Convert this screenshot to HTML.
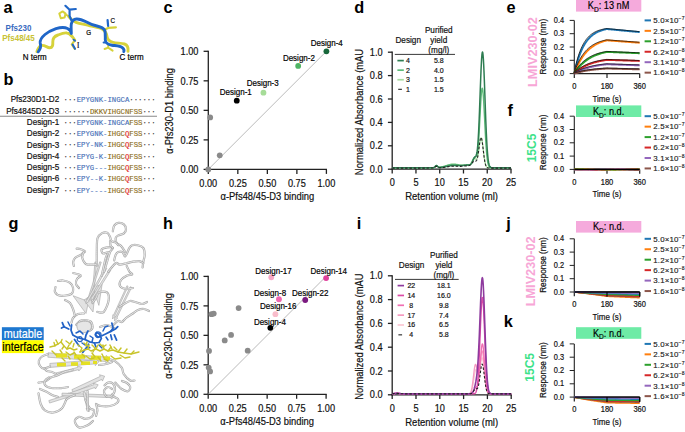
<!DOCTYPE html>
<html><head><meta charset="utf-8"><style>
html,body{margin:0;padding:0;background:#fff;}
svg{display:block;font-family:"Liberation Sans", sans-serif;}
</style></head><body>
<svg width="685" height="432" viewBox="0 0 685 432">
<rect width="685" height="432" fill="#fff"/>
<text x="3.60" y="13.20" font-size="16.3" font-weight="bold">a</text>
<text x="3.60" y="85.00" font-size="16.3" font-weight="bold">b</text>
<text x="163.50" y="13.00" font-size="16.3" font-weight="bold">c</text>
<text x="354.20" y="12.70" font-size="16.3" font-weight="bold">d</text>
<text x="506.50" y="12.70" font-size="16.3" font-weight="bold">e</text>
<text x="507.60" y="115.80" font-size="16.3" font-weight="bold">f</text>
<text x="8.60" y="229.00" font-size="16.3" font-weight="bold">g</text>
<text x="163.00" y="229.30" font-size="16.3" font-weight="bold">h</text>
<text x="356.80" y="228.80" font-size="16.3" font-weight="bold">i</text>
<text x="506.20" y="228.80" font-size="16.3" font-weight="bold">j</text>
<text x="503.80" y="326.80" font-size="16.3" font-weight="bold">k</text>
<text x="18.50" y="31.10" font-size="8" text-anchor="middle" font-weight="bold" fill="#3a6cc0" transform="translate(18.50 31.10) scale(1 1.12) translate(-18.50 -31.10)">Pfs230</text>
<text x="18.50" y="40.60" font-size="8" text-anchor="middle" font-weight="bold" fill="#c8c234" transform="translate(18.50 40.60) scale(1 1.12) translate(-18.50 -40.60)">Pfs48/45</text>
<text x="34.80" y="60.10" font-size="8" text-anchor="middle" stroke="#000" stroke-width="0.18" transform="translate(34.80 60.10) scale(1 1.12) translate(-34.80 -60.10)">N term</text>
<text x="131.60" y="60.10" font-size="8" text-anchor="middle" stroke="#000" stroke-width="0.18" transform="translate(131.60 60.10) scale(1 1.12) translate(-131.60 -60.10)">C term</text>
<text x="88.80" y="35.40" font-size="6.3" text-anchor="middle" stroke="#000" stroke-width="0.18" transform="translate(88.80 35.40) scale(1 1.12) translate(-88.80 -35.40)">G</text>
<text x="112.70" y="23.30" font-size="6.3" text-anchor="middle" stroke="#000" stroke-width="0.18" transform="translate(112.70 23.30) scale(1 1.12) translate(-112.70 -23.30)">C</text>
<text x="78.30" y="48.30" font-size="7" text-anchor="middle" font-family='"Liberation Serif", serif' stroke="#000" stroke-width="0.18" transform="translate(78.30 48.30) scale(1 1.12) translate(-78.30 -48.30)">I</text>
<path d="M36.9,51.6 C38,49 38.5,46.5 41,45.5 C44,44.5 47,47.5 49.5,47.8 C52.5,48 53,45 52.8,42 C52.6,38 55,36 58,35 C61,33.8 64.5,32.5 67,33 C70,33.5 72.5,36.5 74.8,40.2" stroke="#d6d23a" stroke-width="2.9" fill="none" stroke-linecap="round" stroke-linejoin="round"/>
<path d="M74.8,40.4 L71.8,44.3 L74.8,48.8" stroke="#d6d23a" stroke-width="2.2" fill="none" stroke-linecap="round" stroke-linejoin="round"/>
<path d="M68.8,16.6 C70.5,19 72,20.8 76,22.3 C80,23.8 86,24.6 90,25.8 C95,27 100,27.6 103,29.5 C106,31.5 106.6,34 107,36.5 C107.5,39.5 109,41.5 113,42.4 C117,43.3 121,43 124.5,44 C127.5,45 128.5,47.5 128,51.4" stroke="#d6d23a" stroke-width="2.9" fill="none" stroke-linecap="round" stroke-linejoin="round"/>
<path d="M104.4,29.8 L108.2,27.9 L115.9,27.3" stroke="#d6d23a" stroke-width="2.2" fill="none" stroke-linecap="round" stroke-linejoin="round"/>
<path d="M108.2,44.4 L108.2,47.6 M104.6,49 L108.2,47.6 L112.6,50.6" stroke="#d6d23a" stroke-width="2" fill="none" stroke-linecap="round" stroke-linejoin="round"/>
<path d="M59.3,13.5 L62.6,11.4 L65.6,13.6 L64.6,17.6 L60.8,18.3 Z" stroke="#d6d23a" stroke-width="2" fill="none" stroke-linecap="round" stroke-linejoin="round"/>
<path d="M65.6,14.5 L68.5,16.2" stroke="#d6d23a" stroke-width="2" fill="none" stroke-linecap="round" stroke-linejoin="round"/>
<path d="M38.2,51.8 C40.5,49 41.2,46 40.2,43 C39.8,40 42,37 45,34.5 C48,32 52,30 56,28.6 C60,27.5 65,27.3 67.5,28.5 C70,29.7 71.2,31.5 71.3,33.5 C71.3,30 70.8,26.5 71.3,24 C71.8,21.5 73.5,19.3 76.5,19 C80,18.8 83,20.2 86,21.8 C89,23.5 93,25.2 97,26 C100.5,26.8 103.5,28 104.8,30.5 C105.6,33 105.2,37 105.3,40 C105.5,43 108,44.6 112,45.2 C116,45.8 120,45.7 122.6,47.8 C124.2,49.2 124.2,50.5 123.8,51.6" stroke="#1f66c8" stroke-width="2.9" fill="none" stroke-linecap="round" stroke-linejoin="round"/>
<path d="M108.1,26 L107.6,20.2" stroke="#1f66c8" stroke-width="2.2" fill="none" stroke-linecap="round" stroke-linejoin="round"/>
<path d="M103.6,42.6 L106,42.6" stroke="#1f66c8" stroke-width="2" fill="none" stroke-linecap="round" stroke-linejoin="round"/>
<path d="M71.3,20 L69.6,16 L69.6,9.7 M65.4,5.8 L69.6,9.7 L75.8,9" stroke="#1f66c8" stroke-width="2.2" fill="none" stroke-linecap="round" stroke-linejoin="round"/>
<path d="M72.6,44.6 L75,48.8" stroke="#1f66c8" stroke-width="2" fill="none" stroke-linecap="round" stroke-linejoin="round"/>
<path d="M73.6,39.6 L75,40.8" stroke="#1f66c8" stroke-width="1.8" fill="none" stroke-linecap="round" stroke-linejoin="round"/>
<text x="59.20" y="102.40" font-size="8.1" text-anchor="end" fill="#111" stroke="#111" stroke-width="0.18" transform="translate(59.20 102.40) scale(1 1.12) translate(-59.20 -102.40)">Pfs230D1-D2</text>
<text x="63.6" y="102.20" font-size="7.300" font-family='"Liberation Mono", monospace'><tspan fill="#333" stroke="#333" stroke-width="0.15">···</tspan><tspan fill="#4a72b8" stroke="#4a72b8" stroke-width="0.15">EPYGNK-INGCA</tspan><tspan fill="#333" stroke="#333" stroke-width="0.15">······</tspan></text>
<text x="59.20" y="113.70" font-size="8.1" text-anchor="end" fill="#111" stroke="#111" stroke-width="0.18" transform="translate(59.20 113.70) scale(1 1.12) translate(-59.20 -113.70)">Pfs4845D2-D3</text>
<text x="63.6" y="113.50" font-size="7.300" font-family='"Liberation Mono", monospace'><tspan fill="#333" stroke="#333" stroke-width="0.15">······</tspan><tspan fill="#8e6f1c" stroke="#8e6f1c" stroke-width="0.15">DKKVIHGCNFSS</tspan><tspan fill="#333" stroke="#333" stroke-width="0.15">···</tspan></text>
<text x="59.20" y="125.00" font-size="8.1" text-anchor="end" fill="#111" stroke="#111" stroke-width="0.18" transform="translate(59.20 125.00) scale(1 1.12) translate(-59.20 -125.00)">Design-1</text>
<text x="63.6" y="124.80" font-size="7.300" font-family='"Liberation Mono", monospace'><tspan fill="#333" stroke="#333" stroke-width="0.15">···</tspan><tspan fill="#4a72b8" stroke="#4a72b8" stroke-width="0.15">EPYGNK-INGCA</tspan><tspan fill="#8e6f1c" stroke="#8e6f1c" stroke-width="0.15">FSS</tspan><tspan fill="#333" stroke="#333" stroke-width="0.15">···</tspan></text>
<text x="59.20" y="136.30" font-size="8.1" text-anchor="end" fill="#111" stroke="#111" stroke-width="0.18" transform="translate(59.20 136.30) scale(1 1.12) translate(-59.20 -136.30)">Design-2</text>
<text x="63.6" y="136.10" font-size="7.300" font-family='"Liberation Mono", monospace'><tspan fill="#333" stroke="#333" stroke-width="0.15">···</tspan><tspan fill="#4a72b8" stroke="#4a72b8" stroke-width="0.15">EPYGNK-</tspan><tspan fill="#8e6f1c" stroke="#8e6f1c" stroke-width="0.15">IHGC</tspan><tspan fill="#e02828" stroke="#e02828" stroke-width="0.15">Q</tspan><tspan fill="#8e6f1c" stroke="#8e6f1c" stroke-width="0.15">FSS</tspan><tspan fill="#333" stroke="#333" stroke-width="0.15">···</tspan></text>
<text x="59.20" y="147.60" font-size="8.1" text-anchor="end" fill="#111" stroke="#111" stroke-width="0.18" transform="translate(59.20 147.60) scale(1 1.12) translate(-59.20 -147.60)">Design-3</text>
<text x="63.6" y="147.40" font-size="7.300" font-family='"Liberation Mono", monospace'><tspan fill="#333" stroke="#333" stroke-width="0.15">···</tspan><tspan fill="#4a72b8" stroke="#4a72b8" stroke-width="0.15">EPY-NK-</tspan><tspan fill="#8e6f1c" stroke="#8e6f1c" stroke-width="0.15">IHGC</tspan><tspan fill="#e02828" stroke="#e02828" stroke-width="0.15">Q</tspan><tspan fill="#8e6f1c" stroke="#8e6f1c" stroke-width="0.15">FSS</tspan><tspan fill="#333" stroke="#333" stroke-width="0.15">···</tspan></text>
<text x="59.20" y="158.90" font-size="8.1" text-anchor="end" fill="#111" stroke="#111" stroke-width="0.18" transform="translate(59.20 158.90) scale(1 1.12) translate(-59.20 -158.90)">Design-4</text>
<text x="63.6" y="158.70" font-size="7.300" font-family='"Liberation Mono", monospace'><tspan fill="#333" stroke="#333" stroke-width="0.15">···</tspan><tspan fill="#4a72b8" stroke="#4a72b8" stroke-width="0.15">EPYG-K-</tspan><tspan fill="#8e6f1c" stroke="#8e6f1c" stroke-width="0.15">IHGC</tspan><tspan fill="#e02828" stroke="#e02828" stroke-width="0.15">Q</tspan><tspan fill="#8e6f1c" stroke="#8e6f1c" stroke-width="0.15">FSS</tspan><tspan fill="#333" stroke="#333" stroke-width="0.15">···</tspan></text>
<text x="59.20" y="170.20" font-size="8.1" text-anchor="end" fill="#111" stroke="#111" stroke-width="0.18" transform="translate(59.20 170.20) scale(1 1.12) translate(-59.20 -170.20)">Design-5</text>
<text x="63.6" y="170.00" font-size="7.300" font-family='"Liberation Mono", monospace'><tspan fill="#333" stroke="#333" stroke-width="0.15">···</tspan><tspan fill="#4a72b8" stroke="#4a72b8" stroke-width="0.15">EPYG---</tspan><tspan fill="#8e6f1c" stroke="#8e6f1c" stroke-width="0.15">IHGC</tspan><tspan fill="#e02828" stroke="#e02828" stroke-width="0.15">Q</tspan><tspan fill="#8e6f1c" stroke="#8e6f1c" stroke-width="0.15">FSS</tspan><tspan fill="#333" stroke="#333" stroke-width="0.15">···</tspan></text>
<text x="59.20" y="181.50" font-size="8.1" text-anchor="end" fill="#111" stroke="#111" stroke-width="0.18" transform="translate(59.20 181.50) scale(1 1.12) translate(-59.20 -181.50)">Design-6</text>
<text x="63.6" y="181.30" font-size="7.300" font-family='"Liberation Mono", monospace'><tspan fill="#333" stroke="#333" stroke-width="0.15">···</tspan><tspan fill="#4a72b8" stroke="#4a72b8" stroke-width="0.15">EPY--K-</tspan><tspan fill="#8e6f1c" stroke="#8e6f1c" stroke-width="0.15">IHGC</tspan><tspan fill="#e02828" stroke="#e02828" stroke-width="0.15">Q</tspan><tspan fill="#8e6f1c" stroke="#8e6f1c" stroke-width="0.15">FSS</tspan><tspan fill="#333" stroke="#333" stroke-width="0.15">···</tspan></text>
<text x="59.20" y="192.80" font-size="8.1" text-anchor="end" fill="#111" stroke="#111" stroke-width="0.18" transform="translate(59.20 192.80) scale(1 1.12) translate(-59.20 -192.80)">Design-7</text>
<text x="63.6" y="192.60" font-size="7.300" font-family='"Liberation Mono", monospace'><tspan fill="#333" stroke="#333" stroke-width="0.15">···</tspan><tspan fill="#4a72b8" stroke="#4a72b8" stroke-width="0.15">EPY----</tspan><tspan fill="#8e6f1c" stroke="#8e6f1c" stroke-width="0.15">IHGC</tspan><tspan fill="#e02828" stroke="#e02828" stroke-width="0.15">Q</tspan><tspan fill="#8e6f1c" stroke="#8e6f1c" stroke-width="0.15">FSS</tspan><tspan fill="#333" stroke="#333" stroke-width="0.15">···</tspan></text>
<line x1="0.00" y1="116.30" x2="157.00" y2="116.30" stroke="#888" stroke-width="1.1"/>
<line x1="208.30" y1="170.00" x2="208.30" y2="50.70" stroke="#222" stroke-width="1.3"/>
<line x1="207.70" y1="169.40" x2="327.00" y2="169.40" stroke="#222" stroke-width="1.3"/>
<line x1="203.60" y1="169.40" x2="208.30" y2="169.40" stroke="#222" stroke-width="1.3"/>
<line x1="208.30" y1="169.40" x2="208.30" y2="173.90" stroke="#222" stroke-width="1.3"/>
<text x="198.50" y="173.10" font-size="9.2" text-anchor="end" fill="#111" stroke="#111" stroke-width="0.18" transform="translate(198.50 173.10) scale(1 1.12) translate(-198.50 -173.10)">0.00</text>
<text x="208.30" y="186.90" font-size="9.2" text-anchor="middle" fill="#111" stroke="#111" stroke-width="0.18" transform="translate(208.30 186.90) scale(1 1.12) translate(-208.30 -186.90)">0.00</text>
<line x1="203.60" y1="139.88" x2="208.30" y2="139.88" stroke="#222" stroke-width="1.3"/>
<line x1="237.83" y1="169.40" x2="237.83" y2="173.90" stroke="#222" stroke-width="1.3"/>
<text x="198.50" y="143.57" font-size="9.2" text-anchor="end" fill="#111" stroke="#111" stroke-width="0.18" transform="translate(198.50 143.57) scale(1 1.12) translate(-198.50 -143.57)">0.25</text>
<text x="237.83" y="186.90" font-size="9.2" text-anchor="middle" fill="#111" stroke="#111" stroke-width="0.18" transform="translate(237.83 186.90) scale(1 1.12) translate(-237.83 -186.90)">0.25</text>
<line x1="203.60" y1="110.35" x2="208.30" y2="110.35" stroke="#222" stroke-width="1.3"/>
<line x1="267.35" y1="169.40" x2="267.35" y2="173.90" stroke="#222" stroke-width="1.3"/>
<text x="198.50" y="114.05" font-size="9.2" text-anchor="end" fill="#111" stroke="#111" stroke-width="0.18" transform="translate(198.50 114.05) scale(1 1.12) translate(-198.50 -114.05)">0.50</text>
<text x="267.35" y="186.90" font-size="9.2" text-anchor="middle" fill="#111" stroke="#111" stroke-width="0.18" transform="translate(267.35 186.90) scale(1 1.12) translate(-267.35 -186.90)">0.50</text>
<line x1="203.60" y1="80.83" x2="208.30" y2="80.83" stroke="#222" stroke-width="1.3"/>
<line x1="296.88" y1="169.40" x2="296.88" y2="173.90" stroke="#222" stroke-width="1.3"/>
<text x="198.50" y="84.53" font-size="9.2" text-anchor="end" fill="#111" stroke="#111" stroke-width="0.18" transform="translate(198.50 84.53) scale(1 1.12) translate(-198.50 -84.53)">0.75</text>
<text x="296.88" y="186.90" font-size="9.2" text-anchor="middle" fill="#111" stroke="#111" stroke-width="0.18" transform="translate(296.88 186.90) scale(1 1.12) translate(-296.88 -186.90)">0.75</text>
<line x1="203.60" y1="51.30" x2="208.30" y2="51.30" stroke="#222" stroke-width="1.3"/>
<line x1="326.40" y1="169.40" x2="326.40" y2="173.90" stroke="#222" stroke-width="1.3"/>
<text x="198.50" y="55.00" font-size="9.2" text-anchor="end" fill="#111" stroke="#111" stroke-width="0.18" transform="translate(198.50 55.00) scale(1 1.12) translate(-198.50 -55.00)">1.00</text>
<text x="326.40" y="186.90" font-size="9.2" text-anchor="middle" fill="#111" stroke="#111" stroke-width="0.18" transform="translate(326.40 186.90) scale(1 1.12) translate(-326.40 -186.90)">1.00</text>
<text x="267.35" y="200.20" font-size="9.4" text-anchor="middle" fill="#111" stroke="#111" stroke-width="0.18" transform="translate(267.35 200.20) scale(1 1.12) translate(-267.35 -200.20)">α-Pfs48/45-D3 binding</text>
<text x="172.60" y="110.85" font-size="9.4" text-anchor="middle" fill="#111" stroke="#111" stroke-width="0.18" transform="rotate(-90 172.60 110.85) translate(172.60 110.85) scale(1 1.12) translate(-172.60 -110.85)">α-Pfs230-D1 binding</text>
<line x1="208.30" y1="169.40" x2="326.40" y2="51.30" stroke="#aaa" stroke-width="0.8"/>
<circle cx="208.30" cy="169.40" r="2.9" fill="#8a8a8a"/>
<circle cx="219.76" cy="155.35" r="2.9" fill="#8a8a8a"/>
<circle cx="210.19" cy="117.44" r="2.9" fill="#8a8a8a"/>
<circle cx="236.76" cy="100.67" r="2.9" fill="#000"/>
<circle cx="263.45" cy="92.64" r="2.9" fill="#a6dc98"/>
<circle cx="298.17" cy="65.94" r="2.9" fill="#4fb464"/>
<circle cx="326.40" cy="51.30" r="2.9" fill="#17673a"/>
<text x="235.80" y="95.00" font-size="8" text-anchor="middle" stroke="#000" stroke-width="0.18" transform="translate(235.80 95.00) scale(1 1.12) translate(-235.80 -95.00)">Design-1</text>
<text x="262.70" y="85.80" font-size="8" text-anchor="middle" stroke="#000" stroke-width="0.18" transform="translate(262.70 85.80) scale(1 1.12) translate(-262.70 -85.80)">Design-3</text>
<text x="298.90" y="60.70" font-size="8" text-anchor="middle" stroke="#000" stroke-width="0.18" transform="translate(298.90 60.70) scale(1 1.12) translate(-298.90 -60.70)">Design-2</text>
<text x="326.80" y="46.00" font-size="8" text-anchor="middle" stroke="#000" stroke-width="0.18" transform="translate(326.80 46.00) scale(1 1.12) translate(-326.80 -46.00)">Design-4</text>
<line x1="208.20" y1="394.90" x2="208.20" y2="275.80" stroke="#222" stroke-width="1.3"/>
<line x1="207.60" y1="394.30" x2="326.70" y2="394.30" stroke="#222" stroke-width="1.3"/>
<line x1="203.50" y1="394.30" x2="208.20" y2="394.30" stroke="#222" stroke-width="1.3"/>
<line x1="208.20" y1="394.30" x2="208.20" y2="398.80" stroke="#222" stroke-width="1.3"/>
<text x="198.40" y="398.00" font-size="9.2" text-anchor="end" fill="#111" stroke="#111" stroke-width="0.18" transform="translate(198.40 398.00) scale(1 1.12) translate(-198.40 -398.00)">0.00</text>
<text x="208.20" y="411.80" font-size="9.2" text-anchor="middle" fill="#111" stroke="#111" stroke-width="0.18" transform="translate(208.20 411.80) scale(1 1.12) translate(-208.20 -411.80)">0.00</text>
<line x1="203.50" y1="364.82" x2="208.20" y2="364.82" stroke="#222" stroke-width="1.3"/>
<line x1="237.67" y1="394.30" x2="237.67" y2="398.80" stroke="#222" stroke-width="1.3"/>
<text x="198.40" y="368.52" font-size="9.2" text-anchor="end" fill="#111" stroke="#111" stroke-width="0.18" transform="translate(198.40 368.52) scale(1 1.12) translate(-198.40 -368.52)">0.25</text>
<text x="237.67" y="411.80" font-size="9.2" text-anchor="middle" fill="#111" stroke="#111" stroke-width="0.18" transform="translate(237.67 411.80) scale(1 1.12) translate(-237.67 -411.80)">0.25</text>
<line x1="203.50" y1="335.35" x2="208.20" y2="335.35" stroke="#222" stroke-width="1.3"/>
<line x1="267.15" y1="394.30" x2="267.15" y2="398.80" stroke="#222" stroke-width="1.3"/>
<text x="198.40" y="339.05" font-size="9.2" text-anchor="end" fill="#111" stroke="#111" stroke-width="0.18" transform="translate(198.40 339.05) scale(1 1.12) translate(-198.40 -339.05)">0.50</text>
<text x="267.15" y="411.80" font-size="9.2" text-anchor="middle" fill="#111" stroke="#111" stroke-width="0.18" transform="translate(267.15 411.80) scale(1 1.12) translate(-267.15 -411.80)">0.50</text>
<line x1="203.50" y1="305.88" x2="208.20" y2="305.88" stroke="#222" stroke-width="1.3"/>
<line x1="296.62" y1="394.30" x2="296.62" y2="398.80" stroke="#222" stroke-width="1.3"/>
<text x="198.40" y="309.57" font-size="9.2" text-anchor="end" fill="#111" stroke="#111" stroke-width="0.18" transform="translate(198.40 309.57) scale(1 1.12) translate(-198.40 -309.57)">0.75</text>
<text x="296.62" y="411.80" font-size="9.2" text-anchor="middle" fill="#111" stroke="#111" stroke-width="0.18" transform="translate(296.62 411.80) scale(1 1.12) translate(-296.62 -411.80)">0.75</text>
<line x1="203.50" y1="276.40" x2="208.20" y2="276.40" stroke="#222" stroke-width="1.3"/>
<line x1="326.10" y1="394.30" x2="326.10" y2="398.80" stroke="#222" stroke-width="1.3"/>
<text x="198.40" y="280.10" font-size="9.2" text-anchor="end" fill="#111" stroke="#111" stroke-width="0.18" transform="translate(198.40 280.10) scale(1 1.12) translate(-198.40 -280.10)">1.00</text>
<text x="326.10" y="411.80" font-size="9.2" text-anchor="middle" fill="#111" stroke="#111" stroke-width="0.18" transform="translate(326.10 411.80) scale(1 1.12) translate(-326.10 -411.80)">1.00</text>
<text x="267.15" y="425.10" font-size="9.4" text-anchor="middle" fill="#111" stroke="#111" stroke-width="0.18" transform="translate(267.15 425.10) scale(1 1.12) translate(-267.15 -425.10)">α-Pfs48/45-D3 binding</text>
<text x="172.40" y="335.85" font-size="9.4" text-anchor="middle" fill="#111" stroke="#111" stroke-width="0.18" transform="rotate(-90 172.40 335.85) translate(172.40 335.85) scale(1 1.12) translate(-172.40 -335.85)">α-Pfs230-D1 binding</text>
<line x1="208.20" y1="394.30" x2="326.10" y2="276.40" stroke="#aaa" stroke-width="0.8"/>
<circle cx="211.50" cy="314.13" r="2.9" fill="#8a8a8a"/>
<circle cx="213.74" cy="313.54" r="2.9" fill="#8a8a8a"/>
<circle cx="238.62" cy="308.12" r="2.9" fill="#8a8a8a"/>
<circle cx="231.07" cy="334.88" r="2.9" fill="#8a8a8a"/>
<circle cx="224.71" cy="340.42" r="2.9" fill="#8a8a8a"/>
<circle cx="247.70" cy="350.68" r="2.9" fill="#8a8a8a"/>
<circle cx="209.03" cy="350.91" r="2.9" fill="#8a8a8a"/>
<circle cx="208.67" cy="367.54" r="2.9" fill="#8a8a8a"/>
<circle cx="210.09" cy="371.43" r="2.9" fill="#8a8a8a"/>
<circle cx="270.33" cy="327.80" r="2.9" fill="#000"/>
<circle cx="275.40" cy="314.13" r="2.9" fill="#f9bccb"/>
<circle cx="278.94" cy="299.27" r="2.9" fill="#ef66b0"/>
<circle cx="305.23" cy="299.98" r="2.9" fill="#7b1a80"/>
<circle cx="271.28" cy="277.23" r="2.9" fill="#f6a8c8"/>
<circle cx="326.10" cy="278.05" r="2.9" fill="#e0409c"/>
<text x="273.50" y="274.40" font-size="8" text-anchor="middle" stroke="#000" stroke-width="0.18" transform="translate(273.50 274.40) scale(1 1.12) translate(-273.50 -274.40)">Design-17</text>
<text x="328.80" y="274.40" font-size="8" text-anchor="middle" stroke="#000" stroke-width="0.18" transform="translate(328.80 274.40) scale(1 1.12) translate(-328.80 -274.40)">Design-14</text>
<text x="270.10" y="296.20" font-size="8" text-anchor="middle" stroke="#000" stroke-width="0.18" transform="translate(270.10 296.20) scale(1 1.12) translate(-270.10 -296.20)">Design-8</text>
<text x="310.20" y="296.20" font-size="8" text-anchor="middle" stroke="#000" stroke-width="0.18" transform="translate(310.20 296.20) scale(1 1.12) translate(-310.20 -296.20)">Design-22</text>
<text x="278.20" y="309.20" font-size="8" text-anchor="middle" stroke="#000" stroke-width="0.18" transform="translate(278.20 309.20) scale(1 1.12) translate(-278.20 -309.20)">Design-16</text>
<text x="269.90" y="324.60" font-size="8" text-anchor="middle" stroke="#000" stroke-width="0.18" transform="translate(269.90 324.60) scale(1 1.12) translate(-269.90 -324.60)">Design-4</text>
<line x1="392.20" y1="169.80" x2="392.20" y2="51.60" stroke="#222" stroke-width="1.3"/>
<line x1="391.60" y1="169.20" x2="511.60" y2="169.20" stroke="#222" stroke-width="1.3"/>
<line x1="387.90" y1="169.20" x2="392.20" y2="169.20" stroke="#222" stroke-width="1.3"/>
<text x="382.60" y="172.90" font-size="9.2" text-anchor="end" fill="#111" stroke="#111" stroke-width="0.18" transform="translate(382.60 172.90) scale(1 1.12) translate(-382.60 -172.90)">0.0</text>
<line x1="387.90" y1="145.80" x2="392.20" y2="145.80" stroke="#222" stroke-width="1.3"/>
<text x="382.60" y="149.50" font-size="9.2" text-anchor="end" fill="#111" stroke="#111" stroke-width="0.18" transform="translate(382.60 149.50) scale(1 1.12) translate(-382.60 -149.50)">0.2</text>
<line x1="387.90" y1="122.40" x2="392.20" y2="122.40" stroke="#222" stroke-width="1.3"/>
<text x="382.60" y="126.10" font-size="9.2" text-anchor="end" fill="#111" stroke="#111" stroke-width="0.18" transform="translate(382.60 126.10) scale(1 1.12) translate(-382.60 -126.10)">0.4</text>
<line x1="387.90" y1="99.00" x2="392.20" y2="99.00" stroke="#222" stroke-width="1.3"/>
<text x="382.60" y="102.70" font-size="9.2" text-anchor="end" fill="#111" stroke="#111" stroke-width="0.18" transform="translate(382.60 102.70) scale(1 1.12) translate(-382.60 -102.70)">0.6</text>
<line x1="387.90" y1="75.60" x2="392.20" y2="75.60" stroke="#222" stroke-width="1.3"/>
<text x="382.60" y="79.30" font-size="9.2" text-anchor="end" fill="#111" stroke="#111" stroke-width="0.18" transform="translate(382.60 79.30) scale(1 1.12) translate(-382.60 -79.30)">0.8</text>
<line x1="387.90" y1="52.20" x2="392.20" y2="52.20" stroke="#222" stroke-width="1.3"/>
<text x="382.60" y="55.90" font-size="9.2" text-anchor="end" fill="#111" stroke="#111" stroke-width="0.18" transform="translate(382.60 55.90) scale(1 1.12) translate(-382.60 -55.90)">1.0</text>
<line x1="392.20" y1="169.20" x2="392.20" y2="173.50" stroke="#222" stroke-width="1.3"/>
<text x="392.20" y="186.10" font-size="9.2" text-anchor="middle" fill="#111" stroke="#111" stroke-width="0.18" transform="translate(392.20 186.10) scale(1 1.12) translate(-392.20 -186.10)">0</text>
<line x1="415.96" y1="169.20" x2="415.96" y2="173.50" stroke="#222" stroke-width="1.3"/>
<text x="415.96" y="186.10" font-size="9.2" text-anchor="middle" fill="#111" stroke="#111" stroke-width="0.18" transform="translate(415.96 186.10) scale(1 1.12) translate(-415.96 -186.10)">5</text>
<line x1="439.72" y1="169.20" x2="439.72" y2="173.50" stroke="#222" stroke-width="1.3"/>
<text x="439.72" y="186.10" font-size="9.2" text-anchor="middle" fill="#111" stroke="#111" stroke-width="0.18" transform="translate(439.72 186.10) scale(1 1.12) translate(-439.72 -186.10)">10</text>
<line x1="463.48" y1="169.20" x2="463.48" y2="173.50" stroke="#222" stroke-width="1.3"/>
<text x="463.48" y="186.10" font-size="9.2" text-anchor="middle" fill="#111" stroke="#111" stroke-width="0.18" transform="translate(463.48 186.10) scale(1 1.12) translate(-463.48 -186.10)">15</text>
<line x1="487.24" y1="169.20" x2="487.24" y2="173.50" stroke="#222" stroke-width="1.3"/>
<text x="487.24" y="186.10" font-size="9.2" text-anchor="middle" fill="#111" stroke="#111" stroke-width="0.18" transform="translate(487.24 186.10) scale(1 1.12) translate(-487.24 -186.10)">20</text>
<line x1="511.00" y1="169.20" x2="511.00" y2="173.50" stroke="#222" stroke-width="1.3"/>
<text x="511.00" y="186.10" font-size="9.2" text-anchor="middle" fill="#111" stroke="#111" stroke-width="0.18" transform="translate(511.00 186.10) scale(1 1.12) translate(-511.00 -186.10)">25</text>
<text x="451.60" y="200.20" font-size="9.5" text-anchor="middle" fill="#111" stroke="#111" stroke-width="0.18" transform="translate(451.60 200.20) scale(1 1.12) translate(-451.60 -200.20)">Retention volume (ml)</text>
<text x="362.60" y="112.00" font-size="9.4" text-anchor="middle" fill="#111" stroke="#111" stroke-width="0.18" transform="rotate(-90 362.60 112.00) translate(362.60 112.00) scale(1 1.12) translate(-362.60 -112.00)">Normalized Absorbance (mAU</text>
<path d="M392.20,167.94 L392.50,167.94 L392.79,167.94 L393.09,167.94 L393.39,167.94 L393.69,167.94 L393.98,167.94 L394.28,167.94 L394.58,167.94 L394.87,167.94 L395.17,167.94 L395.47,167.94 L395.76,167.94 L396.06,167.94 L396.36,167.94 L396.65,167.94 L396.95,167.94 L397.25,167.94 L397.55,167.94 L397.84,167.94 L398.14,167.94 L398.44,167.94 L398.73,167.94 L399.03,167.94 L399.33,167.94 L399.62,167.94 L399.92,167.94 L400.22,167.94 L400.52,167.94 L400.81,167.94 L401.11,167.94 L401.41,167.94 L401.70,167.94 L402.00,167.94 L402.30,167.94 L402.59,167.94 L402.89,167.94 L403.19,167.94 L403.49,167.94 L403.78,167.94 L404.08,167.94 L404.38,167.94 L404.67,167.94 L404.97,167.94 L405.27,167.94 L405.56,167.94 L405.86,167.94 L406.16,167.94 L406.46,167.94 L406.75,167.94 L407.05,167.94 L407.35,167.94 L407.64,167.94 L407.94,167.94 L408.24,167.94 L408.53,167.94 L408.83,167.94 L409.13,167.94 L409.43,167.94 L409.72,167.94 L410.02,167.94 L410.32,167.94 L410.61,167.94 L410.91,167.94 L411.21,167.94 L411.50,167.94 L411.80,167.94 L412.10,167.94 L412.40,167.94 L412.69,167.94 L412.99,167.94 L413.29,167.94 L413.58,167.94 L413.88,167.94 L414.18,167.94 L414.47,167.94 L414.77,167.94 L415.07,167.94 L415.37,167.94 L415.66,167.94 L415.96,167.94 L416.26,167.94 L416.55,167.94 L416.85,167.94 L417.15,167.94 L417.44,167.94 L417.74,167.94 L418.04,167.94 L418.34,167.94 L418.63,167.94 L418.93,167.94 L419.23,167.94 L419.52,167.94 L419.82,167.94 L420.12,167.94 L420.41,167.94 L420.71,167.94 L421.01,167.94 L421.31,167.94 L421.60,167.94 L421.90,167.94 L422.20,167.94 L422.49,167.94 L422.79,167.94 L423.09,167.94 L423.38,167.94 L423.68,167.94 L423.98,167.94 L424.28,167.94 L424.57,167.94 L424.87,167.94 L425.17,167.93 L425.46,167.93 L425.76,167.93 L426.06,167.93 L426.36,167.93 L426.65,167.93 L426.95,167.93 L427.25,167.93 L427.54,167.93 L427.84,167.93 L428.14,167.93 L428.43,167.93 L428.73,167.93 L429.03,167.93 L429.32,167.92 L429.62,167.92 L429.92,167.92 L430.22,167.92 L430.51,167.92 L430.81,167.91 L431.11,167.91 L431.40,167.90 L431.70,167.90 L432.00,167.89 L432.29,167.89 L432.59,167.87 L432.89,167.85 L433.19,167.82 L433.48,167.77 L433.78,167.68 L434.08,167.56 L434.37,167.38 L434.67,167.16 L434.97,166.88 L435.26,166.58 L435.56,166.29 L435.86,166.04 L436.16,165.88 L436.45,165.82 L436.75,165.88 L437.05,166.04 L437.34,166.27 L437.64,166.52 L437.94,166.77 L438.24,166.98 L438.53,167.14 L438.83,167.24 L439.13,167.30 L439.42,167.32 L439.72,167.31 L440.02,167.28 L440.31,167.23 L440.61,167.18 L440.91,167.13 L441.20,167.07 L441.50,167.01 L441.80,166.94 L442.10,166.87 L442.39,166.80 L442.69,166.72 L442.99,166.64 L443.28,166.56 L443.58,166.48 L443.88,166.39 L444.17,166.31 L444.47,166.22 L444.77,166.12 L445.07,166.03 L445.36,165.94 L445.66,165.84 L445.96,165.74 L446.25,165.65 L446.55,165.55 L446.85,165.45 L447.14,165.36 L447.44,165.26 L447.74,165.17 L448.04,165.07 L448.33,164.98 L448.63,164.90 L448.93,164.81 L449.22,164.73 L449.52,164.65 L449.82,164.57 L450.12,164.50 L450.41,164.44 L450.71,164.37 L451.01,164.32 L451.30,164.27 L451.60,164.22 L451.90,164.18 L452.19,164.15 L452.49,164.12 L452.79,164.09 L453.08,164.08 L453.38,164.07 L453.68,164.07 L453.98,164.07 L454.27,164.08 L454.57,164.09 L454.87,164.11 L455.16,164.13 L455.46,164.16 L455.76,164.20 L456.06,164.24 L456.35,164.28 L456.65,164.32 L456.95,164.37 L457.24,164.42 L457.54,164.47 L457.84,164.53 L458.13,164.58 L458.43,164.64 L458.73,164.69 L459.02,164.74 L459.32,164.80 L459.62,164.85 L459.92,164.89 L460.21,164.94 L460.51,164.98 L460.81,165.02 L461.10,165.05 L461.40,165.08 L461.70,165.11 L462.00,165.13 L462.29,165.15 L462.59,165.17 L462.89,165.18 L463.18,165.19 L463.48,165.19 L463.78,165.20 L464.07,165.20 L464.37,165.20 L464.67,165.20 L464.96,165.20 L465.26,165.20 L465.56,165.19 L465.86,165.19 L466.15,165.19 L466.45,165.19 L466.75,165.19 L467.04,165.18 L467.34,165.17 L467.64,165.16 L467.94,165.13 L468.23,165.09 L468.53,165.02 L468.83,164.94 L469.12,164.82 L469.42,164.67 L469.72,164.47 L470.01,164.22 L470.31,163.93 L470.61,163.58 L470.90,163.18 L471.20,162.73 L471.50,162.24 L471.80,161.73 L472.09,161.19 L472.39,160.67 L472.69,160.16 L472.98,159.70 L473.28,159.30 L473.58,158.98 L473.88,158.75 L474.17,158.62 L474.47,158.58 L474.77,158.63 L475.06,158.75 L475.36,158.90 L475.66,159.06 L475.95,159.17 L476.25,159.19 L476.55,159.07 L476.84,158.76 L477.14,158.21 L477.44,157.39 L477.74,156.27 L478.03,154.85 L478.33,153.16 L478.63,151.23 L478.92,149.12 L479.22,146.93 L479.52,144.76 L479.81,142.71 L480.11,140.91 L480.41,139.45 L480.71,138.44 L481.00,137.95 L481.30,138.00 L481.60,138.60 L481.89,139.73 L482.19,141.32 L482.49,143.30 L482.78,145.57 L483.08,148.01 L483.38,150.52 L483.68,153.01 L483.97,155.39 L484.27,157.58 L484.57,159.56 L484.86,161.29 L485.16,162.76 L485.46,163.98 L485.75,164.98 L486.05,165.76 L486.35,166.37 L486.65,166.83 L486.94,167.17 L487.24,167.41 L487.54,167.59 L487.83,167.71 L488.13,167.79 L488.43,167.84 L488.72,167.88 L489.02,167.90 L489.32,167.92 L489.62,167.92 L489.91,167.93 L490.21,167.93 L490.51,167.93 L490.80,167.94 L491.10,167.94 L491.40,167.94 L491.69,167.94 L491.99,167.94 L492.29,167.94 L492.59,167.94 L492.88,167.94 L493.18,167.94 L493.48,167.94 L493.77,167.94 L494.07,167.94 L494.37,167.94 L494.66,167.94 L494.96,167.94 L495.26,167.94 L495.56,167.94 L495.85,167.94 L496.15,167.94 L496.45,167.94 L496.74,167.94 L497.04,167.94 L497.34,167.94 L497.63,167.94 L497.93,167.94 L498.23,167.94 L498.53,167.94 L498.82,167.94 L499.12,167.94 L499.42,167.94 L499.71,167.94 L500.01,167.94 L500.31,167.94 L500.61,167.94 L500.90,167.94 L501.20,167.94 L501.50,167.94 L501.79,167.94 L502.09,167.94 L502.39,167.94 L502.68,167.94 L502.98,167.94 L503.28,167.94 L503.57,167.94 L503.87,167.94 L504.17,167.94 L504.47,167.94 L504.76,167.94 L505.06,167.94 L505.36,167.94 L505.65,167.94 L505.95,167.94 L506.25,167.94 L506.54,167.94 L506.84,167.94 L507.14,167.94 L507.44,167.94 L507.73,167.94 L508.03,167.94 L508.33,167.94 L508.62,167.94 L508.92,167.94 L509.22,167.94 L509.51,167.94 L509.81,167.94 L510.11,167.94 L510.41,167.94 L510.70,167.94 L511.00,167.94" stroke="#a8dca0" stroke-width="1.3" fill="none" stroke-linejoin="round"/>
<path d="M392.20,167.80 L392.50,167.80 L392.79,167.80 L393.09,167.80 L393.39,167.80 L393.69,167.80 L393.98,167.80 L394.28,167.80 L394.58,167.80 L394.87,167.80 L395.17,167.80 L395.47,167.80 L395.76,167.80 L396.06,167.80 L396.36,167.80 L396.65,167.80 L396.95,167.80 L397.25,167.80 L397.55,167.80 L397.84,167.80 L398.14,167.80 L398.44,167.80 L398.73,167.80 L399.03,167.80 L399.33,167.80 L399.62,167.80 L399.92,167.80 L400.22,167.80 L400.52,167.80 L400.81,167.80 L401.11,167.80 L401.41,167.80 L401.70,167.80 L402.00,167.80 L402.30,167.80 L402.59,167.80 L402.89,167.80 L403.19,167.80 L403.49,167.80 L403.78,167.80 L404.08,167.80 L404.38,167.80 L404.67,167.80 L404.97,167.80 L405.27,167.80 L405.56,167.80 L405.86,167.80 L406.16,167.80 L406.46,167.80 L406.75,167.80 L407.05,167.80 L407.35,167.80 L407.64,167.80 L407.94,167.80 L408.24,167.80 L408.53,167.80 L408.83,167.80 L409.13,167.80 L409.43,167.80 L409.72,167.80 L410.02,167.80 L410.32,167.80 L410.61,167.80 L410.91,167.80 L411.21,167.80 L411.50,167.80 L411.80,167.80 L412.10,167.80 L412.40,167.80 L412.69,167.80 L412.99,167.80 L413.29,167.80 L413.58,167.80 L413.88,167.80 L414.18,167.80 L414.47,167.80 L414.77,167.80 L415.07,167.80 L415.37,167.80 L415.66,167.80 L415.96,167.80 L416.26,167.80 L416.55,167.80 L416.85,167.80 L417.15,167.80 L417.44,167.80 L417.74,167.80 L418.04,167.80 L418.34,167.80 L418.63,167.80 L418.93,167.80 L419.23,167.80 L419.52,167.80 L419.82,167.80 L420.12,167.80 L420.41,167.80 L420.71,167.80 L421.01,167.80 L421.31,167.80 L421.60,167.80 L421.90,167.80 L422.20,167.80 L422.49,167.80 L422.79,167.80 L423.09,167.80 L423.38,167.80 L423.68,167.80 L423.98,167.80 L424.28,167.80 L424.57,167.80 L424.87,167.80 L425.17,167.80 L425.46,167.80 L425.76,167.80 L426.06,167.79 L426.36,167.79 L426.65,167.79 L426.95,167.79 L427.25,167.79 L427.54,167.79 L427.84,167.79 L428.14,167.79 L428.43,167.79 L428.73,167.79 L429.03,167.79 L429.32,167.79 L429.62,167.79 L429.92,167.79 L430.22,167.79 L430.51,167.78 L430.81,167.78 L431.11,167.78 L431.40,167.78 L431.70,167.77 L432.00,167.77 L432.29,167.76 L432.59,167.75 L432.89,167.73 L433.19,167.70 L433.48,167.65 L433.78,167.56 L434.08,167.42 L434.37,167.23 L434.67,166.99 L434.97,166.69 L435.26,166.36 L435.56,166.04 L435.86,165.77 L436.16,165.60 L436.45,165.54 L436.75,165.62 L437.05,165.80 L437.34,166.06 L437.64,166.35 L437.94,166.64 L438.24,166.88 L438.53,167.07 L438.83,167.20 L439.13,167.27 L439.42,167.30 L439.72,167.30 L440.02,167.28 L440.31,167.25 L440.61,167.21 L440.91,167.16 L441.20,167.10 L441.50,167.05 L441.80,166.98 L442.10,166.92 L442.39,166.85 L442.69,166.78 L442.99,166.71 L443.28,166.63 L443.58,166.55 L443.88,166.47 L444.17,166.39 L444.47,166.30 L444.77,166.21 L445.07,166.12 L445.36,166.03 L445.66,165.93 L445.96,165.84 L446.25,165.74 L446.55,165.65 L446.85,165.55 L447.14,165.46 L447.44,165.36 L447.74,165.27 L448.04,165.18 L448.33,165.09 L448.63,165.01 L448.93,164.93 L449.22,164.85 L449.52,164.78 L449.82,164.71 L450.12,164.64 L450.41,164.58 L450.71,164.53 L451.01,164.48 L451.30,164.44 L451.60,164.41 L451.90,164.38 L452.19,164.36 L452.49,164.34 L452.79,164.33 L453.08,164.33 L453.38,164.33 L453.68,164.34 L453.98,164.36 L454.27,164.38 L454.57,164.40 L454.87,164.44 L455.16,164.47 L455.46,164.51 L455.76,164.56 L456.06,164.60 L456.35,164.65 L456.65,164.70 L456.95,164.76 L457.24,164.81 L457.54,164.86 L457.84,164.92 L458.13,164.97 L458.43,165.02 L458.73,165.07 L459.02,165.12 L459.32,165.16 L459.62,165.20 L459.92,165.23 L460.21,165.26 L460.51,165.29 L460.81,165.31 L461.10,165.33 L461.40,165.34 L461.70,165.34 L462.00,165.34 L462.29,165.34 L462.59,165.33 L462.89,165.32 L463.18,165.30 L463.48,165.28 L463.78,165.26 L464.07,165.24 L464.37,165.21 L464.67,165.19 L464.96,165.16 L465.26,165.14 L465.56,165.11 L465.86,165.09 L466.15,165.08 L466.45,165.07 L466.75,165.06 L467.04,165.05 L467.34,165.05 L467.64,165.05 L467.94,165.05 L468.23,165.05 L468.53,165.04 L468.83,165.03 L469.12,164.99 L469.42,164.94 L469.72,164.85 L470.01,164.72 L470.31,164.54 L470.61,164.31 L470.90,164.00 L471.20,163.62 L471.50,163.16 L471.80,162.62 L472.09,162.02 L472.39,161.36 L472.69,160.67 L472.98,159.96 L473.28,159.28 L473.58,158.63 L473.88,158.06 L474.17,157.58 L474.47,157.21 L474.77,156.95 L475.06,156.79 L475.36,156.69 L475.66,156.62 L475.95,156.51 L476.25,156.30 L476.55,155.89 L476.84,155.20 L477.14,154.13 L477.44,152.60 L477.74,150.54 L478.03,147.88 L478.33,144.59 L478.63,140.68 L478.92,136.17 L479.22,131.14 L479.52,125.69 L479.81,119.97 L480.11,114.15 L480.41,108.45 L480.71,103.08 L481.00,98.26 L481.30,94.19 L481.60,91.07 L481.89,89.04 L482.19,88.20 L482.49,88.59 L482.78,90.19 L483.08,92.94 L483.38,96.71 L483.68,101.33 L483.97,106.61 L484.27,112.35 L484.57,118.33 L484.86,124.34 L485.16,130.22 L485.46,135.81 L485.75,140.99 L486.05,145.67 L486.35,149.82 L486.65,153.42 L486.94,156.48 L487.24,159.02 L487.54,161.10 L487.83,162.77 L488.13,164.08 L488.43,165.09 L488.72,165.85 L489.02,166.43 L489.32,166.84 L489.62,167.14 L489.91,167.36 L490.21,167.51 L490.51,167.61 L490.80,167.67 L491.10,167.72 L491.40,167.75 L491.69,167.77 L491.99,167.78 L492.29,167.79 L492.59,167.79 L492.88,167.79 L493.18,167.79 L493.48,167.79 L493.77,167.80 L494.07,167.80 L494.37,167.80 L494.66,167.80 L494.96,167.80 L495.26,167.80 L495.56,167.80 L495.85,167.80 L496.15,167.80 L496.45,167.80 L496.74,167.80 L497.04,167.80 L497.34,167.80 L497.63,167.80 L497.93,167.80 L498.23,167.80 L498.53,167.80 L498.82,167.80 L499.12,167.80 L499.42,167.80 L499.71,167.80 L500.01,167.80 L500.31,167.80 L500.61,167.80 L500.90,167.80 L501.20,167.80 L501.50,167.80 L501.79,167.80 L502.09,167.80 L502.39,167.80 L502.68,167.80 L502.98,167.80 L503.28,167.80 L503.57,167.80 L503.87,167.80 L504.17,167.80 L504.47,167.80 L504.76,167.80 L505.06,167.80 L505.36,167.80 L505.65,167.80 L505.95,167.80 L506.25,167.80 L506.54,167.80 L506.84,167.80 L507.14,167.80 L507.44,167.80 L507.73,167.80 L508.03,167.80 L508.33,167.80 L508.62,167.80 L508.92,167.80 L509.22,167.80 L509.51,167.80 L509.81,167.80 L510.11,167.80 L510.41,167.80 L510.70,167.80 L511.00,167.80" stroke="#5dbb78" stroke-width="1.4" fill="none" stroke-linejoin="round"/>
<path d="M392.20,167.80 L392.50,167.80 L392.79,167.80 L393.09,167.80 L393.39,167.80 L393.69,167.80 L393.98,167.80 L394.28,167.80 L394.58,167.80 L394.87,167.80 L395.17,167.80 L395.47,167.80 L395.76,167.80 L396.06,167.80 L396.36,167.80 L396.65,167.80 L396.95,167.80 L397.25,167.80 L397.55,167.80 L397.84,167.80 L398.14,167.80 L398.44,167.80 L398.73,167.80 L399.03,167.80 L399.33,167.80 L399.62,167.80 L399.92,167.80 L400.22,167.80 L400.52,167.80 L400.81,167.80 L401.11,167.80 L401.41,167.80 L401.70,167.80 L402.00,167.80 L402.30,167.80 L402.59,167.80 L402.89,167.80 L403.19,167.80 L403.49,167.80 L403.78,167.80 L404.08,167.80 L404.38,167.80 L404.67,167.80 L404.97,167.80 L405.27,167.80 L405.56,167.80 L405.86,167.80 L406.16,167.80 L406.46,167.80 L406.75,167.80 L407.05,167.80 L407.35,167.80 L407.64,167.80 L407.94,167.80 L408.24,167.80 L408.53,167.80 L408.83,167.80 L409.13,167.80 L409.43,167.80 L409.72,167.80 L410.02,167.80 L410.32,167.80 L410.61,167.80 L410.91,167.80 L411.21,167.80 L411.50,167.80 L411.80,167.80 L412.10,167.80 L412.40,167.80 L412.69,167.80 L412.99,167.80 L413.29,167.80 L413.58,167.80 L413.88,167.80 L414.18,167.80 L414.47,167.80 L414.77,167.80 L415.07,167.80 L415.37,167.80 L415.66,167.80 L415.96,167.80 L416.26,167.80 L416.55,167.80 L416.85,167.80 L417.15,167.80 L417.44,167.80 L417.74,167.80 L418.04,167.80 L418.34,167.80 L418.63,167.80 L418.93,167.80 L419.23,167.80 L419.52,167.80 L419.82,167.80 L420.12,167.80 L420.41,167.80 L420.71,167.80 L421.01,167.80 L421.31,167.80 L421.60,167.80 L421.90,167.80 L422.20,167.80 L422.49,167.80 L422.79,167.80 L423.09,167.80 L423.38,167.80 L423.68,167.80 L423.98,167.80 L424.28,167.80 L424.57,167.80 L424.87,167.80 L425.17,167.80 L425.46,167.80 L425.76,167.80 L426.06,167.79 L426.36,167.79 L426.65,167.79 L426.95,167.79 L427.25,167.79 L427.54,167.79 L427.84,167.79 L428.14,167.79 L428.43,167.79 L428.73,167.79 L429.03,167.79 L429.32,167.79 L429.62,167.79 L429.92,167.79 L430.22,167.79 L430.51,167.79 L430.81,167.78 L431.11,167.78 L431.40,167.78 L431.70,167.78 L432.00,167.77 L432.29,167.77 L432.59,167.76 L432.89,167.74 L433.19,167.71 L433.48,167.65 L433.78,167.57 L434.08,167.43 L434.37,167.25 L434.67,167.00 L434.97,166.70 L435.26,166.38 L435.56,166.06 L435.86,165.80 L436.16,165.63 L436.45,165.58 L436.75,165.66 L437.05,165.85 L437.34,166.11 L437.64,166.41 L437.94,166.71 L438.24,166.96 L438.53,167.16 L438.83,167.29 L439.13,167.38 L439.42,167.42 L439.72,167.44 L440.02,167.43 L440.31,167.41 L440.61,167.39 L440.91,167.36 L441.20,167.33 L441.50,167.29 L441.80,167.25 L442.10,167.21 L442.39,167.17 L442.69,167.13 L442.99,167.08 L443.28,167.04 L443.58,166.99 L443.88,166.94 L444.17,166.89 L444.47,166.83 L444.77,166.78 L445.07,166.72 L445.36,166.67 L445.66,166.61 L445.96,166.55 L446.25,166.49 L446.55,166.44 L446.85,166.38 L447.14,166.32 L447.44,166.26 L447.74,166.20 L448.04,166.14 L448.33,166.09 L448.63,166.03 L448.93,165.97 L449.22,165.92 L449.52,165.87 L449.82,165.82 L450.12,165.77 L450.41,165.73 L450.71,165.69 L451.01,165.65 L451.30,165.61 L451.60,165.58 L451.90,165.55 L452.19,165.52 L452.49,165.50 L452.79,165.48 L453.08,165.46 L453.38,165.45 L453.68,165.44 L453.98,165.43 L454.27,165.43 L454.57,165.43 L454.87,165.43 L455.16,165.43 L455.46,165.44 L455.76,165.45 L456.06,165.47 L456.35,165.48 L456.65,165.49 L456.95,165.51 L457.24,165.53 L457.54,165.54 L457.84,165.56 L458.13,165.58 L458.43,165.59 L458.73,165.61 L459.02,165.62 L459.32,165.63 L459.62,165.63 L459.92,165.64 L460.21,165.64 L460.51,165.63 L460.81,165.63 L461.10,165.62 L461.40,165.60 L461.70,165.59 L462.00,165.56 L462.29,165.54 L462.59,165.51 L462.89,165.48 L463.18,165.45 L463.48,165.41 L463.78,165.38 L464.07,165.34 L464.37,165.31 L464.67,165.27 L464.96,165.24 L465.26,165.20 L465.56,165.17 L465.86,165.15 L466.15,165.12 L466.45,165.11 L466.75,165.09 L467.04,165.08 L467.34,165.08 L467.64,165.07 L467.94,165.07 L468.23,165.07 L468.53,165.06 L468.83,165.05 L469.12,165.02 L469.42,164.97 L469.72,164.89 L470.01,164.77 L470.31,164.61 L470.61,164.39 L470.90,164.10 L471.20,163.75 L471.50,163.32 L471.80,162.83 L472.09,162.26 L472.39,161.65 L472.69,160.99 L472.98,160.33 L473.28,159.67 L473.58,159.05 L473.88,158.48 L474.17,157.98 L474.47,157.56 L474.77,157.21 L475.06,156.92 L475.36,156.64 L475.66,156.32 L475.95,155.90 L476.25,155.27 L476.55,154.35 L476.84,153.03 L477.14,151.20 L477.44,148.76 L477.74,145.63 L478.03,141.74 L478.33,137.03 L478.63,131.51 L478.92,125.20 L479.22,118.17 L479.52,110.56 L479.81,102.53 L480.11,94.29 L480.41,86.09 L480.71,78.20 L481.00,70.89 L481.30,64.46 L481.60,59.15 L481.89,55.19 L482.19,52.74 L482.49,51.92 L482.78,52.77 L483.08,55.24 L483.38,59.24 L483.68,64.59 L483.97,71.09 L484.27,78.48 L484.57,86.49 L484.86,94.84 L485.16,103.27 L485.46,111.54 L485.75,119.46 L486.05,126.86 L486.35,133.62 L486.65,139.68 L486.94,144.99 L487.24,149.57 L487.54,153.43 L487.83,156.64 L488.13,159.26 L488.43,161.35 L488.72,163.00 L489.02,164.28 L489.32,165.26 L489.62,165.99 L489.91,166.53 L490.21,166.92 L490.51,167.20 L490.80,167.39 L491.10,167.53 L491.40,167.62 L491.69,167.68 L491.99,167.72 L492.29,167.75 L492.59,167.77 L492.88,167.78 L493.18,167.79 L493.48,167.79 L493.77,167.79 L494.07,167.79 L494.37,167.79 L494.66,167.80 L494.96,167.80 L495.26,167.80 L495.56,167.80 L495.85,167.80 L496.15,167.80 L496.45,167.80 L496.74,167.80 L497.04,167.80 L497.34,167.80 L497.63,167.80 L497.93,167.80 L498.23,167.80 L498.53,167.80 L498.82,167.80 L499.12,167.80 L499.42,167.80 L499.71,167.80 L500.01,167.80 L500.31,167.80 L500.61,167.80 L500.90,167.80 L501.20,167.80 L501.50,167.80 L501.79,167.80 L502.09,167.80 L502.39,167.80 L502.68,167.80 L502.98,167.80 L503.28,167.80 L503.57,167.80 L503.87,167.80 L504.17,167.80 L504.47,167.80 L504.76,167.80 L505.06,167.80 L505.36,167.80 L505.65,167.80 L505.95,167.80 L506.25,167.80 L506.54,167.80 L506.84,167.80 L507.14,167.80 L507.44,167.80 L507.73,167.80 L508.03,167.80 L508.33,167.80 L508.62,167.80 L508.92,167.80 L509.22,167.80 L509.51,167.80 L509.81,167.80 L510.11,167.80 L510.41,167.80 L510.70,167.80 L511.00,167.80" stroke="#2e7d52" stroke-width="1.5" fill="none" stroke-linejoin="round"/>
<path d="M392.20,168.08 L392.50,168.08 L392.79,168.08 L393.09,168.08 L393.39,168.08 L393.69,168.08 L393.98,168.08 L394.28,168.08 L394.58,168.08 L394.87,168.08 L395.17,168.08 L395.47,168.08 L395.76,168.08 L396.06,168.08 L396.36,168.08 L396.65,168.08 L396.95,168.08 L397.25,168.08 L397.55,168.08 L397.84,168.08 L398.14,168.08 L398.44,168.08 L398.73,168.08 L399.03,168.08 L399.33,168.08 L399.62,168.08 L399.92,168.08 L400.22,168.08 L400.52,168.08 L400.81,168.08 L401.11,168.08 L401.41,168.08 L401.70,168.08 L402.00,168.08 L402.30,168.08 L402.59,168.08 L402.89,168.08 L403.19,168.08 L403.49,168.08 L403.78,168.08 L404.08,168.08 L404.38,168.08 L404.67,168.08 L404.97,168.08 L405.27,168.08 L405.56,168.08 L405.86,168.08 L406.16,168.08 L406.46,168.08 L406.75,168.08 L407.05,168.08 L407.35,168.08 L407.64,168.08 L407.94,168.08 L408.24,168.08 L408.53,168.08 L408.83,168.08 L409.13,168.08 L409.43,168.08 L409.72,168.08 L410.02,168.08 L410.32,168.08 L410.61,168.08 L410.91,168.08 L411.21,168.08 L411.50,168.08 L411.80,168.08 L412.10,168.08 L412.40,168.08 L412.69,168.08 L412.99,168.08 L413.29,168.08 L413.58,168.08 L413.88,168.08 L414.18,168.08 L414.47,168.08 L414.77,168.08 L415.07,168.08 L415.37,168.08 L415.66,168.08 L415.96,168.08 L416.26,168.08 L416.55,168.08 L416.85,168.08 L417.15,168.08 L417.44,168.08 L417.74,168.08 L418.04,168.08 L418.34,168.08 L418.63,168.08 L418.93,168.08 L419.23,168.08 L419.52,168.08 L419.82,168.08 L420.12,168.08 L420.41,168.08 L420.71,168.08 L421.01,168.08 L421.31,168.08 L421.60,168.08 L421.90,168.08 L422.20,168.08 L422.49,168.08 L422.79,168.08 L423.09,168.08 L423.38,168.08 L423.68,168.08 L423.98,168.08 L424.28,168.08 L424.57,168.08 L424.87,168.08 L425.17,168.08 L425.46,168.08 L425.76,168.08 L426.06,168.08 L426.36,168.08 L426.65,168.08 L426.95,168.08 L427.25,168.08 L427.54,168.07 L427.84,168.07 L428.14,168.07 L428.43,168.07 L428.73,168.07 L429.03,168.07 L429.32,168.07 L429.62,168.07 L429.92,168.07 L430.22,168.07 L430.51,168.07 L430.81,168.07 L431.11,168.07 L431.40,168.06 L431.70,168.06 L432.00,168.06 L432.29,168.05 L432.59,168.05 L432.89,168.03 L433.19,168.01 L433.48,167.96 L433.78,167.89 L434.08,167.79 L434.37,167.64 L434.67,167.44 L434.97,167.20 L435.26,166.94 L435.56,166.69 L435.86,166.48 L436.16,166.34 L436.45,166.30 L436.75,166.37 L437.05,166.52 L437.34,166.73 L437.64,166.97 L437.94,167.20 L438.24,167.41 L438.53,167.56 L438.83,167.67 L439.13,167.74 L439.42,167.78 L439.72,167.79 L440.02,167.79 L440.31,167.77 L440.61,167.75 L440.91,167.73 L441.20,167.70 L441.50,167.67 L441.80,167.64 L442.10,167.61 L442.39,167.58 L442.69,167.54 L442.99,167.51 L443.28,167.47 L443.58,167.43 L443.88,167.39 L444.17,167.35 L444.47,167.31 L444.77,167.26 L445.07,167.22 L445.36,167.17 L445.66,167.13 L445.96,167.08 L446.25,167.04 L446.55,166.99 L446.85,166.94 L447.14,166.89 L447.44,166.85 L447.74,166.80 L448.04,166.75 L448.33,166.71 L448.63,166.66 L448.93,166.62 L449.22,166.58 L449.52,166.54 L449.82,166.50 L450.12,166.46 L450.41,166.42 L450.71,166.39 L451.01,166.36 L451.30,166.33 L451.60,166.30 L451.90,166.28 L452.19,166.26 L452.49,166.24 L452.79,166.22 L453.08,166.21 L453.38,166.20 L453.68,166.19 L453.98,166.18 L454.27,166.18 L454.57,166.18 L454.87,166.18 L455.16,166.19 L455.46,166.19 L455.76,166.20 L456.06,166.21 L456.35,166.22 L456.65,166.24 L456.95,166.25 L457.24,166.26 L457.54,166.28 L457.84,166.29 L458.13,166.30 L458.43,166.31 L458.73,166.32 L459.02,166.33 L459.32,166.34 L459.62,166.35 L459.92,166.35 L460.21,166.35 L460.51,166.35 L460.81,166.34 L461.10,166.33 L461.40,166.32 L461.70,166.31 L462.00,166.29 L462.29,166.27 L462.59,166.25 L462.89,166.23 L463.18,166.20 L463.48,166.17 L463.78,166.14 L464.07,166.11 L464.37,166.08 L464.67,166.05 L464.96,166.03 L465.26,166.00 L465.56,165.97 L465.86,165.95 L466.15,165.93 L466.45,165.91 L466.75,165.89 L467.04,165.87 L467.34,165.84 L467.64,165.82 L467.94,165.79 L468.23,165.75 L468.53,165.70 L468.83,165.64 L469.12,165.55 L469.42,165.44 L469.72,165.30 L470.01,165.13 L470.31,164.92 L470.61,164.68 L470.90,164.40 L471.20,164.08 L471.50,163.74 L471.80,163.38 L472.09,163.02 L472.39,162.65 L472.69,162.30 L472.98,161.98 L473.28,161.70 L473.58,161.47 L473.88,161.30 L474.17,161.20 L474.47,161.15 L474.77,161.14 L475.06,161.16 L475.36,161.18 L475.66,161.16 L475.95,161.07 L476.25,160.86 L476.55,160.48 L476.84,159.89 L477.14,159.06 L477.44,157.95 L477.74,156.55 L478.03,154.87 L478.33,152.93 L478.63,150.79 L478.92,148.51 L479.22,146.19 L479.52,143.95 L479.81,141.88 L480.11,140.10 L480.41,138.73 L480.71,137.84 L481.00,137.49 L481.30,137.71 L481.60,138.50 L481.89,139.80 L482.19,141.56 L482.49,143.68 L482.78,146.06 L483.08,148.58 L483.38,151.14 L483.68,153.65 L483.97,156.02 L484.27,158.19 L484.57,160.13 L484.86,161.81 L485.16,163.23 L485.46,164.40 L485.75,165.34 L486.05,166.08 L486.35,166.64 L486.65,167.07 L486.94,167.38 L487.24,167.61 L487.54,167.77 L487.83,167.87 L488.13,167.95 L488.43,168.00 L488.72,168.03 L489.02,168.05 L489.32,168.06 L489.62,168.07 L489.91,168.07 L490.21,168.07 L490.51,168.07 L490.80,168.08 L491.10,168.08 L491.40,168.08 L491.69,168.08 L491.99,168.08 L492.29,168.08 L492.59,168.08 L492.88,168.08 L493.18,168.08 L493.48,168.08 L493.77,168.08 L494.07,168.08 L494.37,168.08 L494.66,168.08 L494.96,168.08 L495.26,168.08 L495.56,168.08 L495.85,168.08 L496.15,168.08 L496.45,168.08 L496.74,168.08 L497.04,168.08 L497.34,168.08 L497.63,168.08 L497.93,168.08 L498.23,168.08 L498.53,168.08 L498.82,168.08 L499.12,168.08 L499.42,168.08 L499.71,168.08 L500.01,168.08 L500.31,168.08 L500.61,168.08 L500.90,168.08 L501.20,168.08 L501.50,168.08 L501.79,168.08 L502.09,168.08 L502.39,168.08 L502.68,168.08 L502.98,168.08 L503.28,168.08 L503.57,168.08 L503.87,168.08 L504.17,168.08 L504.47,168.08 L504.76,168.08 L505.06,168.08 L505.36,168.08 L505.65,168.08 L505.95,168.08 L506.25,168.08 L506.54,168.08 L506.84,168.08 L507.14,168.08 L507.44,168.08 L507.73,168.08 L508.03,168.08 L508.33,168.08 L508.62,168.08 L508.92,168.08 L509.22,168.08 L509.51,168.08 L509.81,168.08 L510.11,168.08 L510.41,168.08 L510.70,168.08 L511.00,168.08" stroke="#222" stroke-width="1.1" fill="none" stroke-dasharray="2.5,1.8" stroke-linejoin="round"/>
<text x="408.20" y="43.00" font-size="8.2" text-anchor="middle" fill="#111" stroke="#111" stroke-width="0.18" transform="translate(408.20 43.00) scale(1 1.12) translate(-408.20 -43.00)">Design</text>
<text x="438.80" y="33.30" font-size="8.2" text-anchor="middle" fill="#111" stroke="#111" stroke-width="0.18" transform="translate(438.80 33.30) scale(1 1.12) translate(-438.80 -33.30)">Purified</text>
<text x="438.80" y="43.00" font-size="8.2" text-anchor="middle" fill="#111" stroke="#111" stroke-width="0.18" transform="translate(438.80 43.00) scale(1 1.12) translate(-438.80 -43.00)">yield</text>
<text x="438.80" y="52.60" font-size="8.2" text-anchor="middle" fill="#111" stroke="#111" stroke-width="0.18" transform="translate(438.80 52.60) scale(1 1.12) translate(-438.80 -52.60)">(mg/l)</text>
<line x1="394.80" y1="54.40" x2="455.00" y2="54.40" stroke="#222" stroke-width="0.9"/>
<line x1="397.40" y1="60.60" x2="403.80" y2="60.60" stroke="#2e7d52" stroke-width="1.7"/>
<text x="408.00" y="63.10" font-size="7" text-anchor="middle" fill="#111" stroke="#111" stroke-width="0.18" transform="translate(408.00 63.10) scale(1 1.12) translate(-408.00 -63.10)">4</text>
<text x="438.80" y="63.10" font-size="7" text-anchor="middle" fill="#111" stroke="#111" stroke-width="0.18" transform="translate(438.80 63.10) scale(1 1.12) translate(-438.80 -63.10)">5.8</text>
<line x1="397.40" y1="70.17" x2="403.80" y2="70.17" stroke="#5dbb78" stroke-width="1.7"/>
<text x="408.00" y="72.67" font-size="7" text-anchor="middle" fill="#111" stroke="#111" stroke-width="0.18" transform="translate(408.00 72.67) scale(1 1.12) translate(-408.00 -72.67)">2</text>
<text x="438.80" y="72.67" font-size="7" text-anchor="middle" fill="#111" stroke="#111" stroke-width="0.18" transform="translate(438.80 72.67) scale(1 1.12) translate(-438.80 -72.67)">4.0</text>
<line x1="397.40" y1="79.74" x2="403.80" y2="79.74" stroke="#a8dca0" stroke-width="1.7"/>
<text x="408.00" y="82.24" font-size="7" text-anchor="middle" fill="#111" stroke="#111" stroke-width="0.18" transform="translate(408.00 82.24) scale(1 1.12) translate(-408.00 -82.24)">3</text>
<text x="438.80" y="82.24" font-size="7" text-anchor="middle" fill="#111" stroke="#111" stroke-width="0.18" transform="translate(438.80 82.24) scale(1 1.12) translate(-438.80 -82.24)">1.5</text>
<line x1="398.20" y1="89.31" x2="401.90" y2="89.31" stroke="#222" stroke-width="1.1"/>
<text x="408.00" y="91.81" font-size="7" text-anchor="middle" fill="#111" stroke="#111" stroke-width="0.18" transform="translate(408.00 91.81) scale(1 1.12) translate(-408.00 -91.81)">1</text>
<text x="438.80" y="91.81" font-size="7" text-anchor="middle" fill="#111" stroke="#111" stroke-width="0.18" transform="translate(438.80 91.81) scale(1 1.12) translate(-438.80 -91.81)">1.5</text>
<line x1="392.20" y1="395.40" x2="392.20" y2="275.20" stroke="#222" stroke-width="1.3"/>
<line x1="391.60" y1="394.80" x2="511.80" y2="394.80" stroke="#222" stroke-width="1.3"/>
<line x1="387.90" y1="394.80" x2="392.20" y2="394.80" stroke="#222" stroke-width="1.3"/>
<text x="382.60" y="398.50" font-size="9.2" text-anchor="end" fill="#111" stroke="#111" stroke-width="0.18" transform="translate(382.60 398.50) scale(1 1.12) translate(-382.60 -398.50)">0.0</text>
<line x1="387.90" y1="371.00" x2="392.20" y2="371.00" stroke="#222" stroke-width="1.3"/>
<text x="382.60" y="374.70" font-size="9.2" text-anchor="end" fill="#111" stroke="#111" stroke-width="0.18" transform="translate(382.60 374.70) scale(1 1.12) translate(-382.60 -374.70)">0.2</text>
<line x1="387.90" y1="347.20" x2="392.20" y2="347.20" stroke="#222" stroke-width="1.3"/>
<text x="382.60" y="350.90" font-size="9.2" text-anchor="end" fill="#111" stroke="#111" stroke-width="0.18" transform="translate(382.60 350.90) scale(1 1.12) translate(-382.60 -350.90)">0.4</text>
<line x1="387.90" y1="323.40" x2="392.20" y2="323.40" stroke="#222" stroke-width="1.3"/>
<text x="382.60" y="327.10" font-size="9.2" text-anchor="end" fill="#111" stroke="#111" stroke-width="0.18" transform="translate(382.60 327.10) scale(1 1.12) translate(-382.60 -327.10)">0.6</text>
<line x1="387.90" y1="299.60" x2="392.20" y2="299.60" stroke="#222" stroke-width="1.3"/>
<text x="382.60" y="303.30" font-size="9.2" text-anchor="end" fill="#111" stroke="#111" stroke-width="0.18" transform="translate(382.60 303.30) scale(1 1.12) translate(-382.60 -303.30)">0.8</text>
<line x1="387.90" y1="275.80" x2="392.20" y2="275.80" stroke="#222" stroke-width="1.3"/>
<text x="382.60" y="279.50" font-size="9.2" text-anchor="end" fill="#111" stroke="#111" stroke-width="0.18" transform="translate(382.60 279.50) scale(1 1.12) translate(-382.60 -279.50)">1.0</text>
<line x1="392.20" y1="394.80" x2="392.20" y2="399.10" stroke="#222" stroke-width="1.3"/>
<text x="392.20" y="411.70" font-size="9.2" text-anchor="middle" fill="#111" stroke="#111" stroke-width="0.18" transform="translate(392.20 411.70) scale(1 1.12) translate(-392.20 -411.70)">0</text>
<line x1="416.00" y1="394.80" x2="416.00" y2="399.10" stroke="#222" stroke-width="1.3"/>
<text x="416.00" y="411.70" font-size="9.2" text-anchor="middle" fill="#111" stroke="#111" stroke-width="0.18" transform="translate(416.00 411.70) scale(1 1.12) translate(-416.00 -411.70)">5</text>
<line x1="439.80" y1="394.80" x2="439.80" y2="399.10" stroke="#222" stroke-width="1.3"/>
<text x="439.80" y="411.70" font-size="9.2" text-anchor="middle" fill="#111" stroke="#111" stroke-width="0.18" transform="translate(439.80 411.70) scale(1 1.12) translate(-439.80 -411.70)">10</text>
<line x1="463.60" y1="394.80" x2="463.60" y2="399.10" stroke="#222" stroke-width="1.3"/>
<text x="463.60" y="411.70" font-size="9.2" text-anchor="middle" fill="#111" stroke="#111" stroke-width="0.18" transform="translate(463.60 411.70) scale(1 1.12) translate(-463.60 -411.70)">15</text>
<line x1="487.40" y1="394.80" x2="487.40" y2="399.10" stroke="#222" stroke-width="1.3"/>
<text x="487.40" y="411.70" font-size="9.2" text-anchor="middle" fill="#111" stroke="#111" stroke-width="0.18" transform="translate(487.40 411.70) scale(1 1.12) translate(-487.40 -411.70)">20</text>
<line x1="511.20" y1="394.80" x2="511.20" y2="399.10" stroke="#222" stroke-width="1.3"/>
<text x="511.20" y="411.70" font-size="9.2" text-anchor="middle" fill="#111" stroke="#111" stroke-width="0.18" transform="translate(511.20 411.70) scale(1 1.12) translate(-511.20 -411.70)">25</text>
<text x="451.70" y="425.80" font-size="9.5" text-anchor="middle" fill="#111" stroke="#111" stroke-width="0.18" transform="translate(451.70 425.80) scale(1 1.12) translate(-451.70 -425.80)">Retention volume (ml)</text>
<text x="362.60" y="336.60" font-size="9.4" text-anchor="middle" fill="#111" stroke="#111" stroke-width="0.18" transform="rotate(-90 362.60 336.60) translate(362.60 336.60) scale(1 1.12) translate(-362.60 -336.60)">Normalized Absorbance (mAU</text>
<path d="M392.20,393.73 L392.50,393.71 L392.80,393.68 L393.09,393.66 L393.39,393.63 L393.69,393.60 L393.99,393.57 L394.28,393.54 L394.58,393.51 L394.88,393.48 L395.18,393.46 L395.47,393.43 L395.77,393.41 L396.07,393.39 L396.37,393.38 L396.66,393.37 L396.96,393.37 L397.26,393.37 L397.56,393.38 L397.85,393.39 L398.15,393.41 L398.45,393.43 L398.75,393.46 L399.04,393.48 L399.34,393.51 L399.64,393.54 L399.94,393.57 L400.23,393.60 L400.53,393.63 L400.83,393.66 L401.12,393.68 L401.42,393.71 L401.72,393.73 L402.02,393.75 L402.31,393.77 L402.61,393.78 L402.91,393.79 L403.21,393.80 L403.50,393.81 L403.80,393.82 L404.10,393.83 L404.40,393.83 L404.69,393.84 L404.99,393.84 L405.29,393.84 L405.59,393.84 L405.88,393.84 L406.18,393.85 L406.48,393.85 L406.78,393.85 L407.07,393.85 L407.37,393.85 L407.67,393.85 L407.97,393.85 L408.26,393.85 L408.56,393.85 L408.86,393.85 L409.16,393.85 L409.45,393.85 L409.75,393.85 L410.05,393.85 L410.35,393.85 L410.64,393.85 L410.94,393.85 L411.24,393.85 L411.54,393.85 L411.83,393.85 L412.13,393.85 L412.43,393.85 L412.73,393.85 L413.02,393.85 L413.32,393.85 L413.62,393.85 L413.92,393.85 L414.21,393.85 L414.51,393.85 L414.81,393.85 L415.11,393.85 L415.40,393.85 L415.70,393.85 L416.00,393.85 L416.30,393.85 L416.59,393.85 L416.89,393.85 L417.19,393.85 L417.49,393.85 L417.78,393.85 L418.08,393.85 L418.38,393.85 L418.68,393.85 L418.97,393.85 L419.27,393.85 L419.57,393.85 L419.87,393.85 L420.16,393.85 L420.46,393.85 L420.76,393.85 L421.06,393.85 L421.35,393.85 L421.65,393.85 L421.95,393.85 L422.25,393.85 L422.54,393.85 L422.84,393.85 L423.14,393.85 L423.44,393.85 L423.74,393.85 L424.03,393.85 L424.33,393.85 L424.63,393.85 L424.93,393.85 L425.22,393.85 L425.52,393.85 L425.82,393.85 L426.12,393.85 L426.41,393.85 L426.71,393.85 L427.01,393.85 L427.31,393.85 L427.60,393.85 L427.90,393.85 L428.20,393.85 L428.50,393.85 L428.79,393.85 L429.09,393.85 L429.39,393.85 L429.69,393.85 L429.98,393.85 L430.28,393.85 L430.58,393.85 L430.88,393.85 L431.17,393.85 L431.47,393.85 L431.77,393.85 L432.06,393.85 L432.36,393.85 L432.66,393.85 L432.96,393.85 L433.25,393.85 L433.55,393.85 L433.85,393.85 L434.15,393.85 L434.44,393.85 L434.74,393.85 L435.04,393.85 L435.34,393.85 L435.63,393.85 L435.93,393.85 L436.23,393.85 L436.53,393.85 L436.82,393.85 L437.12,393.85 L437.42,393.85 L437.72,393.85 L438.01,393.85 L438.31,393.85 L438.61,393.85 L438.91,393.85 L439.20,393.85 L439.50,393.85 L439.80,393.85 L440.10,393.85 L440.39,393.85 L440.69,393.85 L440.99,393.85 L441.29,393.85 L441.58,393.85 L441.88,393.85 L442.18,393.85 L442.48,393.85 L442.77,393.85 L443.07,393.85 L443.37,393.85 L443.67,393.85 L443.96,393.85 L444.26,393.85 L444.56,393.85 L444.86,393.85 L445.15,393.85 L445.45,393.85 L445.75,393.85 L446.05,393.85 L446.34,393.85 L446.64,393.85 L446.94,393.85 L447.24,393.85 L447.53,393.85 L447.83,393.85 L448.13,393.85 L448.43,393.85 L448.72,393.85 L449.02,393.85 L449.32,393.85 L449.62,393.85 L449.91,393.85 L450.21,393.85 L450.51,393.85 L450.81,393.85 L451.10,393.85 L451.40,393.85 L451.70,393.85 L452.00,393.85 L452.29,393.85 L452.59,393.85 L452.89,393.85 L453.19,393.85 L453.49,393.85 L453.78,393.85 L454.08,393.85 L454.38,393.85 L454.67,393.85 L454.97,393.85 L455.27,393.85 L455.57,393.85 L455.87,393.85 L456.16,393.85 L456.46,393.85 L456.76,393.85 L457.06,393.85 L457.35,393.85 L457.65,393.85 L457.95,393.85 L458.25,393.85 L458.54,393.85 L458.84,393.85 L459.14,393.85 L459.44,393.85 L459.73,393.85 L460.03,393.85 L460.33,393.85 L460.62,393.85 L460.92,393.85 L461.22,393.85 L461.52,393.85 L461.81,393.85 L462.11,393.85 L462.41,393.85 L462.71,393.85 L463.00,393.85 L463.30,393.85 L463.60,393.85 L463.90,393.85 L464.19,393.85 L464.49,393.85 L464.79,393.85 L465.09,393.85 L465.38,393.85 L465.68,393.85 L465.98,393.85 L466.28,393.85 L466.57,393.85 L466.87,393.85 L467.17,393.84 L467.47,393.84 L467.76,393.83 L468.06,393.82 L468.36,393.81 L468.66,393.78 L468.95,393.74 L469.25,393.68 L469.55,393.58 L469.85,393.45 L470.14,393.26 L470.44,393.00 L470.74,392.65 L471.04,392.18 L471.33,391.57 L471.63,390.80 L471.93,389.85 L472.23,388.70 L472.52,387.35 L472.82,385.79 L473.12,384.06 L473.42,382.18 L473.71,380.20 L474.01,378.19 L474.31,376.22 L474.61,374.37 L474.90,372.73 L475.20,371.37 L475.50,370.35 L475.80,369.70 L476.09,369.44 L476.39,369.55 L476.69,369.97 L476.99,370.63 L477.28,371.43 L477.58,372.26 L477.88,372.98 L478.18,373.50 L478.47,373.70 L478.77,373.51 L479.07,372.88 L479.37,371.83 L479.66,370.37 L479.96,368.58 L480.26,366.58 L480.56,364.48 L480.86,362.45 L481.15,360.63 L481.45,359.17 L481.75,358.19 L482.04,357.77 L482.34,357.98 L482.64,358.83 L482.94,360.28 L483.24,362.27 L483.53,364.69 L483.83,367.44 L484.13,370.38 L484.42,373.39 L484.72,376.35 L485.02,379.17 L485.32,381.77 L485.62,384.10 L485.91,386.13 L486.21,387.85 L486.51,389.28 L486.80,390.43 L487.10,391.35 L487.40,392.05 L487.70,392.58 L488.00,392.97 L488.29,393.25 L488.59,393.45 L488.89,393.59 L489.19,393.68 L489.48,393.74 L489.78,393.78 L490.08,393.81 L490.38,393.82 L490.67,393.83 L490.97,393.84 L491.27,393.84 L491.56,393.85 L491.86,393.85 L492.16,393.85 L492.46,393.85 L492.75,393.85 L493.05,393.85 L493.35,393.85 L493.65,393.85 L493.94,393.85 L494.24,393.85 L494.54,393.85 L494.84,393.85 L495.13,393.85 L495.43,393.85 L495.73,393.85 L496.03,393.85 L496.32,393.85 L496.62,393.85 L496.92,393.85 L497.22,393.85 L497.51,393.85 L497.81,393.85 L498.11,393.85 L498.41,393.85 L498.70,393.85 L499.00,393.85 L499.30,393.85 L499.60,393.85 L499.89,393.85 L500.19,393.85 L500.49,393.85 L500.79,393.85 L501.08,393.85 L501.38,393.85 L501.68,393.85 L501.98,393.85 L502.27,393.85 L502.57,393.85 L502.87,393.85 L503.17,393.85 L503.46,393.85 L503.76,393.85 L504.06,393.85 L504.36,393.85 L504.65,393.85 L504.95,393.85 L505.25,393.85 L505.55,393.85 L505.84,393.85 L506.14,393.85 L506.44,393.85 L506.74,393.85 L507.03,393.85 L507.33,393.85 L507.63,393.85 L507.93,393.85 L508.22,393.85 L508.52,393.85 L508.82,393.85 L509.12,393.85 L509.41,393.85 L509.71,393.85 L510.01,393.85 L510.31,393.85 L510.61,393.85 L510.90,393.85 L511.20,393.85" stroke="#fbc8d4" stroke-width="1.3" fill="none" stroke-linejoin="round"/>
<path d="M392.20,393.73 L392.50,393.71 L392.80,393.68 L393.09,393.66 L393.39,393.63 L393.69,393.60 L393.99,393.57 L394.28,393.54 L394.58,393.51 L394.88,393.48 L395.18,393.46 L395.47,393.43 L395.77,393.41 L396.07,393.39 L396.37,393.38 L396.66,393.37 L396.96,393.37 L397.26,393.37 L397.56,393.38 L397.85,393.39 L398.15,393.41 L398.45,393.43 L398.75,393.46 L399.04,393.48 L399.34,393.51 L399.64,393.54 L399.94,393.57 L400.23,393.60 L400.53,393.63 L400.83,393.66 L401.12,393.68 L401.42,393.71 L401.72,393.73 L402.02,393.75 L402.31,393.77 L402.61,393.78 L402.91,393.79 L403.21,393.80 L403.50,393.81 L403.80,393.82 L404.10,393.83 L404.40,393.83 L404.69,393.84 L404.99,393.84 L405.29,393.84 L405.59,393.84 L405.88,393.84 L406.18,393.85 L406.48,393.85 L406.78,393.85 L407.07,393.85 L407.37,393.85 L407.67,393.85 L407.97,393.85 L408.26,393.85 L408.56,393.85 L408.86,393.85 L409.16,393.85 L409.45,393.85 L409.75,393.85 L410.05,393.85 L410.35,393.85 L410.64,393.85 L410.94,393.85 L411.24,393.85 L411.54,393.85 L411.83,393.85 L412.13,393.85 L412.43,393.85 L412.73,393.85 L413.02,393.85 L413.32,393.85 L413.62,393.85 L413.92,393.85 L414.21,393.85 L414.51,393.85 L414.81,393.85 L415.11,393.85 L415.40,393.85 L415.70,393.85 L416.00,393.85 L416.30,393.85 L416.59,393.85 L416.89,393.85 L417.19,393.85 L417.49,393.85 L417.78,393.85 L418.08,393.85 L418.38,393.85 L418.68,393.85 L418.97,393.85 L419.27,393.85 L419.57,393.85 L419.87,393.85 L420.16,393.85 L420.46,393.85 L420.76,393.85 L421.06,393.85 L421.35,393.85 L421.65,393.85 L421.95,393.85 L422.25,393.85 L422.54,393.85 L422.84,393.85 L423.14,393.85 L423.44,393.85 L423.74,393.85 L424.03,393.85 L424.33,393.85 L424.63,393.85 L424.93,393.85 L425.22,393.85 L425.52,393.85 L425.82,393.85 L426.12,393.85 L426.41,393.85 L426.71,393.85 L427.01,393.85 L427.31,393.85 L427.60,393.85 L427.90,393.85 L428.20,393.85 L428.50,393.85 L428.79,393.85 L429.09,393.85 L429.39,393.85 L429.69,393.85 L429.98,393.85 L430.28,393.85 L430.58,393.85 L430.88,393.85 L431.17,393.85 L431.47,393.85 L431.77,393.85 L432.06,393.85 L432.36,393.85 L432.66,393.85 L432.96,393.85 L433.25,393.85 L433.55,393.85 L433.85,393.85 L434.15,393.85 L434.44,393.85 L434.74,393.85 L435.04,393.85 L435.34,393.85 L435.63,393.85 L435.93,393.85 L436.23,393.85 L436.53,393.85 L436.82,393.85 L437.12,393.85 L437.42,393.85 L437.72,393.85 L438.01,393.85 L438.31,393.85 L438.61,393.85 L438.91,393.85 L439.20,393.85 L439.50,393.85 L439.80,393.85 L440.10,393.85 L440.39,393.85 L440.69,393.85 L440.99,393.85 L441.29,393.85 L441.58,393.85 L441.88,393.85 L442.18,393.85 L442.48,393.85 L442.77,393.85 L443.07,393.85 L443.37,393.85 L443.67,393.85 L443.96,393.85 L444.26,393.85 L444.56,393.85 L444.86,393.85 L445.15,393.85 L445.45,393.85 L445.75,393.85 L446.05,393.85 L446.34,393.85 L446.64,393.85 L446.94,393.85 L447.24,393.85 L447.53,393.85 L447.83,393.85 L448.13,393.85 L448.43,393.85 L448.72,393.85 L449.02,393.85 L449.32,393.85 L449.62,393.85 L449.91,393.85 L450.21,393.85 L450.51,393.85 L450.81,393.85 L451.10,393.85 L451.40,393.85 L451.70,393.85 L452.00,393.85 L452.29,393.85 L452.59,393.85 L452.89,393.85 L453.19,393.85 L453.49,393.85 L453.78,393.85 L454.08,393.85 L454.38,393.85 L454.67,393.85 L454.97,393.85 L455.27,393.85 L455.57,393.85 L455.87,393.85 L456.16,393.85 L456.46,393.85 L456.76,393.85 L457.06,393.85 L457.35,393.85 L457.65,393.85 L457.95,393.85 L458.25,393.85 L458.54,393.85 L458.84,393.85 L459.14,393.85 L459.44,393.85 L459.73,393.85 L460.03,393.85 L460.33,393.85 L460.62,393.85 L460.92,393.85 L461.22,393.85 L461.52,393.85 L461.81,393.85 L462.11,393.85 L462.41,393.85 L462.71,393.85 L463.00,393.85 L463.30,393.85 L463.60,393.85 L463.90,393.85 L464.19,393.85 L464.49,393.85 L464.79,393.85 L465.09,393.85 L465.38,393.85 L465.68,393.85 L465.98,393.85 L466.28,393.85 L466.57,393.85 L466.87,393.85 L467.17,393.84 L467.47,393.84 L467.76,393.83 L468.06,393.82 L468.36,393.80 L468.66,393.76 L468.95,393.71 L469.25,393.63 L469.55,393.50 L469.85,393.31 L470.14,393.04 L470.44,392.66 L470.74,392.14 L471.04,391.43 L471.33,390.52 L471.63,389.36 L471.93,387.93 L472.23,386.21 L472.52,384.21 L472.82,381.95 L473.12,379.49 L473.42,376.89 L473.71,374.26 L474.01,371.71 L474.31,369.37 L474.61,367.37 L474.90,365.82 L475.20,364.80 L475.50,364.35 L475.80,364.50 L476.09,365.18 L476.39,366.32 L476.69,367.79 L476.99,369.43 L477.28,371.08 L477.58,372.55 L477.88,373.70 L478.18,374.38 L478.47,374.49 L478.77,373.98 L479.07,372.84 L479.37,371.09 L479.66,368.83 L479.96,366.17 L480.26,363.28 L480.56,360.32 L480.86,357.50 L481.15,354.99 L481.45,352.98 L481.75,351.59 L482.04,350.94 L482.34,351.07 L482.64,352.00 L482.94,353.68 L483.24,356.03 L483.53,358.91 L483.83,362.18 L484.13,365.70 L484.42,369.30 L484.72,372.86 L485.02,376.24 L485.32,379.35 L485.62,382.15 L485.91,384.58 L486.21,386.65 L486.51,388.37 L486.80,389.75 L487.10,390.84 L487.40,391.69 L487.70,392.33 L488.00,392.79 L488.29,393.13 L488.59,393.37 L488.89,393.54 L489.19,393.65 L489.48,393.72 L489.78,393.77 L490.08,393.80 L490.38,393.82 L490.67,393.83 L490.97,393.84 L491.27,393.84 L491.56,393.85 L491.86,393.85 L492.16,393.85 L492.46,393.85 L492.75,393.85 L493.05,393.85 L493.35,393.85 L493.65,393.85 L493.94,393.85 L494.24,393.85 L494.54,393.85 L494.84,393.85 L495.13,393.85 L495.43,393.85 L495.73,393.85 L496.03,393.85 L496.32,393.85 L496.62,393.85 L496.92,393.85 L497.22,393.85 L497.51,393.85 L497.81,393.85 L498.11,393.85 L498.41,393.85 L498.70,393.85 L499.00,393.85 L499.30,393.85 L499.60,393.85 L499.89,393.85 L500.19,393.85 L500.49,393.85 L500.79,393.85 L501.08,393.85 L501.38,393.85 L501.68,393.85 L501.98,393.85 L502.27,393.85 L502.57,393.85 L502.87,393.85 L503.17,393.85 L503.46,393.85 L503.76,393.85 L504.06,393.85 L504.36,393.85 L504.65,393.85 L504.95,393.85 L505.25,393.85 L505.55,393.85 L505.84,393.85 L506.14,393.85 L506.44,393.85 L506.74,393.85 L507.03,393.85 L507.33,393.85 L507.63,393.85 L507.93,393.85 L508.22,393.85 L508.52,393.85 L508.82,393.85 L509.12,393.85 L509.41,393.85 L509.71,393.85 L510.01,393.85 L510.31,393.85 L510.61,393.85 L510.90,393.85 L511.20,393.85" stroke="#f59ac0" stroke-width="1.3" fill="none" stroke-linejoin="round"/>
<path d="M392.20,393.73 L392.50,393.71 L392.80,393.68 L393.09,393.66 L393.39,393.63 L393.69,393.60 L393.99,393.57 L394.28,393.54 L394.58,393.51 L394.88,393.48 L395.18,393.46 L395.47,393.43 L395.77,393.41 L396.07,393.39 L396.37,393.38 L396.66,393.37 L396.96,393.37 L397.26,393.37 L397.56,393.38 L397.85,393.39 L398.15,393.41 L398.45,393.43 L398.75,393.46 L399.04,393.48 L399.34,393.51 L399.64,393.54 L399.94,393.57 L400.23,393.60 L400.53,393.63 L400.83,393.66 L401.12,393.68 L401.42,393.71 L401.72,393.73 L402.02,393.75 L402.31,393.77 L402.61,393.78 L402.91,393.79 L403.21,393.80 L403.50,393.81 L403.80,393.82 L404.10,393.83 L404.40,393.83 L404.69,393.84 L404.99,393.84 L405.29,393.84 L405.59,393.84 L405.88,393.84 L406.18,393.85 L406.48,393.85 L406.78,393.85 L407.07,393.85 L407.37,393.85 L407.67,393.85 L407.97,393.85 L408.26,393.85 L408.56,393.85 L408.86,393.85 L409.16,393.85 L409.45,393.85 L409.75,393.85 L410.05,393.85 L410.35,393.85 L410.64,393.85 L410.94,393.85 L411.24,393.85 L411.54,393.85 L411.83,393.85 L412.13,393.85 L412.43,393.85 L412.73,393.85 L413.02,393.85 L413.32,393.85 L413.62,393.85 L413.92,393.85 L414.21,393.85 L414.51,393.85 L414.81,393.85 L415.11,393.85 L415.40,393.85 L415.70,393.85 L416.00,393.85 L416.30,393.85 L416.59,393.85 L416.89,393.85 L417.19,393.85 L417.49,393.85 L417.78,393.85 L418.08,393.85 L418.38,393.85 L418.68,393.85 L418.97,393.85 L419.27,393.85 L419.57,393.85 L419.87,393.85 L420.16,393.85 L420.46,393.85 L420.76,393.85 L421.06,393.85 L421.35,393.85 L421.65,393.85 L421.95,393.85 L422.25,393.85 L422.54,393.85 L422.84,393.85 L423.14,393.85 L423.44,393.85 L423.74,393.85 L424.03,393.85 L424.33,393.85 L424.63,393.85 L424.93,393.85 L425.22,393.85 L425.52,393.85 L425.82,393.85 L426.12,393.85 L426.41,393.85 L426.71,393.85 L427.01,393.85 L427.31,393.85 L427.60,393.85 L427.90,393.85 L428.20,393.85 L428.50,393.85 L428.79,393.85 L429.09,393.85 L429.39,393.85 L429.69,393.85 L429.98,393.85 L430.28,393.85 L430.58,393.85 L430.88,393.85 L431.17,393.85 L431.47,393.85 L431.77,393.85 L432.06,393.85 L432.36,393.85 L432.66,393.85 L432.96,393.85 L433.25,393.85 L433.55,393.85 L433.85,393.85 L434.15,393.85 L434.44,393.85 L434.74,393.85 L435.04,393.85 L435.34,393.85 L435.63,393.85 L435.93,393.85 L436.23,393.85 L436.53,393.85 L436.82,393.85 L437.12,393.85 L437.42,393.85 L437.72,393.85 L438.01,393.85 L438.31,393.85 L438.61,393.85 L438.91,393.85 L439.20,393.85 L439.50,393.85 L439.80,393.85 L440.10,393.85 L440.39,393.85 L440.69,393.85 L440.99,393.85 L441.29,393.85 L441.58,393.85 L441.88,393.85 L442.18,393.85 L442.48,393.85 L442.77,393.85 L443.07,393.85 L443.37,393.85 L443.67,393.85 L443.96,393.85 L444.26,393.85 L444.56,393.85 L444.86,393.85 L445.15,393.85 L445.45,393.85 L445.75,393.85 L446.05,393.85 L446.34,393.85 L446.64,393.85 L446.94,393.85 L447.24,393.85 L447.53,393.85 L447.83,393.85 L448.13,393.85 L448.43,393.85 L448.72,393.85 L449.02,393.85 L449.32,393.85 L449.62,393.85 L449.91,393.85 L450.21,393.85 L450.51,393.85 L450.81,393.85 L451.10,393.85 L451.40,393.85 L451.70,393.85 L452.00,393.85 L452.29,393.85 L452.59,393.85 L452.89,393.85 L453.19,393.85 L453.49,393.85 L453.78,393.85 L454.08,393.85 L454.38,393.85 L454.67,393.85 L454.97,393.85 L455.27,393.85 L455.57,393.85 L455.87,393.85 L456.16,393.85 L456.46,393.85 L456.76,393.85 L457.06,393.85 L457.35,393.85 L457.65,393.85 L457.95,393.85 L458.25,393.85 L458.54,393.85 L458.84,393.85 L459.14,393.85 L459.44,393.85 L459.73,393.85 L460.03,393.85 L460.33,393.85 L460.62,393.85 L460.92,393.85 L461.22,393.85 L461.52,393.85 L461.81,393.85 L462.11,393.85 L462.41,393.85 L462.71,393.85 L463.00,393.85 L463.30,393.85 L463.60,393.85 L463.90,393.85 L464.19,393.85 L464.49,393.85 L464.79,393.85 L465.09,393.85 L465.38,393.85 L465.68,393.85 L465.98,393.85 L466.28,393.85 L466.57,393.85 L466.87,393.85 L467.17,393.85 L467.47,393.85 L467.76,393.85 L468.06,393.85 L468.36,393.85 L468.66,393.84 L468.95,393.84 L469.25,393.84 L469.55,393.83 L469.85,393.81 L470.14,393.79 L470.44,393.76 L470.74,393.71 L471.04,393.64 L471.33,393.54 L471.63,393.41 L471.93,393.23 L472.23,392.99 L472.52,392.70 L472.82,392.34 L473.12,391.91 L473.42,391.43 L473.71,390.89 L474.01,390.33 L474.31,389.75 L474.61,389.19 L474.90,388.66 L475.20,388.19 L475.50,387.80 L475.80,387.49 L476.09,387.25 L476.39,387.06 L476.69,386.87 L476.99,386.63 L477.28,386.27 L477.58,385.70 L477.88,384.86 L478.18,383.65 L478.47,382.02 L478.77,379.93 L479.07,377.35 L479.37,374.31 L479.66,370.84 L479.96,367.05 L480.26,363.06 L480.56,359.02 L480.86,355.12 L481.15,351.54 L481.45,348.47 L481.75,346.09 L482.04,344.52 L482.34,343.87 L482.64,344.16 L482.94,345.40 L483.24,347.50 L483.53,350.36 L483.83,353.83 L484.13,357.72 L484.42,361.85 L484.72,366.05 L485.02,370.17 L485.32,374.06 L485.62,377.62 L485.91,380.80 L486.21,383.56 L486.51,385.88 L486.80,387.80 L487.10,389.35 L487.40,390.56 L487.70,391.50 L488.00,392.19 L488.29,392.71 L488.59,393.08 L488.89,393.34 L489.19,393.52 L489.48,393.64 L489.78,393.72 L490.08,393.77 L490.38,393.80 L490.67,393.82 L490.97,393.83 L491.27,393.84 L491.56,393.84 L491.86,393.85 L492.16,393.85 L492.46,393.85 L492.75,393.85 L493.05,393.85 L493.35,393.85 L493.65,393.85 L493.94,393.85 L494.24,393.85 L494.54,393.85 L494.84,393.85 L495.13,393.85 L495.43,393.85 L495.73,393.85 L496.03,393.85 L496.32,393.85 L496.62,393.85 L496.92,393.85 L497.22,393.85 L497.51,393.85 L497.81,393.85 L498.11,393.85 L498.41,393.85 L498.70,393.85 L499.00,393.85 L499.30,393.85 L499.60,393.85 L499.89,393.85 L500.19,393.85 L500.49,393.85 L500.79,393.85 L501.08,393.85 L501.38,393.85 L501.68,393.85 L501.98,393.85 L502.27,393.85 L502.57,393.85 L502.87,393.85 L503.17,393.85 L503.46,393.85 L503.76,393.85 L504.06,393.85 L504.36,393.85 L504.65,393.85 L504.95,393.85 L505.25,393.85 L505.55,393.85 L505.84,393.85 L506.14,393.85 L506.44,393.85 L506.74,393.85 L507.03,393.85 L507.33,393.85 L507.63,393.85 L507.93,393.85 L508.22,393.85 L508.52,393.85 L508.82,393.85 L509.12,393.85 L509.41,393.85 L509.71,393.85 L510.01,393.85 L510.31,393.85 L510.61,393.85 L510.90,393.85 L511.20,393.85" stroke="#f06eb2" stroke-width="1.3" fill="none" stroke-linejoin="round"/>
<path d="M392.20,393.73 L392.50,393.71 L392.80,393.68 L393.09,393.66 L393.39,393.63 L393.69,393.60 L393.99,393.57 L394.28,393.54 L394.58,393.51 L394.88,393.48 L395.18,393.46 L395.47,393.43 L395.77,393.41 L396.07,393.39 L396.37,393.38 L396.66,393.37 L396.96,393.37 L397.26,393.37 L397.56,393.38 L397.85,393.39 L398.15,393.41 L398.45,393.43 L398.75,393.46 L399.04,393.48 L399.34,393.51 L399.64,393.54 L399.94,393.57 L400.23,393.60 L400.53,393.63 L400.83,393.66 L401.12,393.68 L401.42,393.71 L401.72,393.73 L402.02,393.75 L402.31,393.77 L402.61,393.78 L402.91,393.79 L403.21,393.80 L403.50,393.81 L403.80,393.82 L404.10,393.83 L404.40,393.83 L404.69,393.84 L404.99,393.84 L405.29,393.84 L405.59,393.84 L405.88,393.84 L406.18,393.85 L406.48,393.85 L406.78,393.85 L407.07,393.85 L407.37,393.85 L407.67,393.85 L407.97,393.85 L408.26,393.85 L408.56,393.85 L408.86,393.85 L409.16,393.85 L409.45,393.85 L409.75,393.85 L410.05,393.85 L410.35,393.85 L410.64,393.85 L410.94,393.85 L411.24,393.85 L411.54,393.85 L411.83,393.85 L412.13,393.85 L412.43,393.85 L412.73,393.85 L413.02,393.85 L413.32,393.85 L413.62,393.85 L413.92,393.85 L414.21,393.85 L414.51,393.85 L414.81,393.85 L415.11,393.85 L415.40,393.85 L415.70,393.85 L416.00,393.85 L416.30,393.85 L416.59,393.85 L416.89,393.85 L417.19,393.85 L417.49,393.85 L417.78,393.85 L418.08,393.85 L418.38,393.85 L418.68,393.85 L418.97,393.85 L419.27,393.85 L419.57,393.85 L419.87,393.85 L420.16,393.85 L420.46,393.85 L420.76,393.85 L421.06,393.85 L421.35,393.85 L421.65,393.85 L421.95,393.85 L422.25,393.85 L422.54,393.85 L422.84,393.85 L423.14,393.85 L423.44,393.85 L423.74,393.85 L424.03,393.85 L424.33,393.85 L424.63,393.85 L424.93,393.85 L425.22,393.85 L425.52,393.85 L425.82,393.85 L426.12,393.85 L426.41,393.85 L426.71,393.85 L427.01,393.85 L427.31,393.85 L427.60,393.85 L427.90,393.85 L428.20,393.85 L428.50,393.85 L428.79,393.85 L429.09,393.85 L429.39,393.85 L429.69,393.85 L429.98,393.85 L430.28,393.85 L430.58,393.85 L430.88,393.85 L431.17,393.85 L431.47,393.85 L431.77,393.85 L432.06,393.85 L432.36,393.85 L432.66,393.85 L432.96,393.85 L433.25,393.85 L433.55,393.85 L433.85,393.85 L434.15,393.85 L434.44,393.85 L434.74,393.85 L435.04,393.85 L435.34,393.85 L435.63,393.85 L435.93,393.85 L436.23,393.85 L436.53,393.85 L436.82,393.85 L437.12,393.85 L437.42,393.85 L437.72,393.85 L438.01,393.85 L438.31,393.85 L438.61,393.85 L438.91,393.85 L439.20,393.85 L439.50,393.85 L439.80,393.85 L440.10,393.85 L440.39,393.85 L440.69,393.85 L440.99,393.85 L441.29,393.85 L441.58,393.85 L441.88,393.85 L442.18,393.85 L442.48,393.85 L442.77,393.85 L443.07,393.85 L443.37,393.85 L443.67,393.85 L443.96,393.85 L444.26,393.85 L444.56,393.85 L444.86,393.85 L445.15,393.85 L445.45,393.85 L445.75,393.85 L446.05,393.85 L446.34,393.85 L446.64,393.85 L446.94,393.85 L447.24,393.85 L447.53,393.85 L447.83,393.85 L448.13,393.85 L448.43,393.85 L448.72,393.85 L449.02,393.85 L449.32,393.85 L449.62,393.85 L449.91,393.85 L450.21,393.85 L450.51,393.85 L450.81,393.85 L451.10,393.85 L451.40,393.85 L451.70,393.85 L452.00,393.85 L452.29,393.85 L452.59,393.85 L452.89,393.85 L453.19,393.85 L453.49,393.85 L453.78,393.85 L454.08,393.85 L454.38,393.85 L454.67,393.85 L454.97,393.85 L455.27,393.85 L455.57,393.85 L455.87,393.85 L456.16,393.85 L456.46,393.85 L456.76,393.85 L457.06,393.85 L457.35,393.85 L457.65,393.85 L457.95,393.85 L458.25,393.85 L458.54,393.85 L458.84,393.85 L459.14,393.85 L459.44,393.85 L459.73,393.85 L460.03,393.85 L460.33,393.85 L460.62,393.85 L460.92,393.85 L461.22,393.85 L461.52,393.85 L461.81,393.85 L462.11,393.85 L462.41,393.85 L462.71,393.85 L463.00,393.85 L463.30,393.85 L463.60,393.85 L463.90,393.85 L464.19,393.85 L464.49,393.85 L464.79,393.85 L465.09,393.85 L465.38,393.85 L465.68,393.85 L465.98,393.85 L466.28,393.85 L466.57,393.85 L466.87,393.85 L467.17,393.85 L467.47,393.85 L467.76,393.85 L468.06,393.85 L468.36,393.85 L468.66,393.85 L468.95,393.85 L469.25,393.85 L469.55,393.85 L469.85,393.85 L470.14,393.85 L470.44,393.85 L470.74,393.85 L471.04,393.85 L471.33,393.85 L471.63,393.85 L471.93,393.85 L472.23,393.84 L472.52,393.84 L472.82,393.83 L473.12,393.82 L473.42,393.81 L473.71,393.78 L474.01,393.73 L474.31,393.67 L474.61,393.56 L474.90,393.41 L475.20,393.18 L475.50,392.84 L475.80,392.37 L476.09,391.71 L476.39,390.82 L476.69,389.61 L476.99,388.03 L477.28,386.00 L477.58,383.43 L477.88,380.25 L478.18,376.40 L478.47,371.84 L478.77,366.55 L479.07,360.57 L479.37,353.95 L479.66,346.81 L479.96,339.34 L480.26,331.74 L480.56,324.26 L480.86,317.20 L481.15,310.85 L481.45,305.47 L481.75,301.33 L482.04,298.63 L482.34,297.49 L482.64,297.98 L482.94,300.07 L483.24,303.66 L483.53,308.56 L483.83,314.56 L484.13,321.37 L484.42,328.72 L484.72,336.30 L485.02,343.85 L485.32,351.15 L485.62,357.99 L485.91,364.24 L486.21,369.81 L486.51,374.67 L486.80,378.79 L487.10,382.23 L487.40,385.04 L487.70,387.28 L488.00,389.03 L488.29,390.37 L488.59,391.39 L488.89,392.13 L489.19,392.67 L489.48,393.06 L489.78,393.32 L490.08,393.51 L490.38,393.63 L490.67,393.71 L490.97,393.76 L491.27,393.80 L491.56,393.82 L491.86,393.83 L492.16,393.84 L492.46,393.84 L492.75,393.84 L493.05,393.85 L493.35,393.85 L493.65,393.85 L493.94,393.85 L494.24,393.85 L494.54,393.85 L494.84,393.85 L495.13,393.85 L495.43,393.85 L495.73,393.85 L496.03,393.85 L496.32,393.85 L496.62,393.85 L496.92,393.85 L497.22,393.85 L497.51,393.85 L497.81,393.85 L498.11,393.85 L498.41,393.85 L498.70,393.85 L499.00,393.85 L499.30,393.85 L499.60,393.85 L499.89,393.85 L500.19,393.85 L500.49,393.85 L500.79,393.85 L501.08,393.85 L501.38,393.85 L501.68,393.85 L501.98,393.85 L502.27,393.85 L502.57,393.85 L502.87,393.85 L503.17,393.85 L503.46,393.85 L503.76,393.85 L504.06,393.85 L504.36,393.85 L504.65,393.85 L504.95,393.85 L505.25,393.85 L505.55,393.85 L505.84,393.85 L506.14,393.85 L506.44,393.85 L506.74,393.85 L507.03,393.85 L507.33,393.85 L507.63,393.85 L507.93,393.85 L508.22,393.85 L508.52,393.85 L508.82,393.85 L509.12,393.85 L509.41,393.85 L509.71,393.85 L510.01,393.85 L510.31,393.85 L510.61,393.85 L510.90,393.85 L511.20,393.85" stroke="#dc4aa6" stroke-width="1.4" fill="none" stroke-linejoin="round"/>
<path d="M392.20,393.73 L392.50,393.71 L392.80,393.68 L393.09,393.66 L393.39,393.63 L393.69,393.60 L393.99,393.57 L394.28,393.54 L394.58,393.51 L394.88,393.48 L395.18,393.46 L395.47,393.43 L395.77,393.41 L396.07,393.39 L396.37,393.38 L396.66,393.37 L396.96,393.37 L397.26,393.37 L397.56,393.38 L397.85,393.39 L398.15,393.41 L398.45,393.43 L398.75,393.46 L399.04,393.48 L399.34,393.51 L399.64,393.54 L399.94,393.57 L400.23,393.60 L400.53,393.63 L400.83,393.66 L401.12,393.68 L401.42,393.71 L401.72,393.73 L402.02,393.75 L402.31,393.77 L402.61,393.78 L402.91,393.79 L403.21,393.80 L403.50,393.81 L403.80,393.82 L404.10,393.83 L404.40,393.83 L404.69,393.84 L404.99,393.84 L405.29,393.84 L405.59,393.84 L405.88,393.84 L406.18,393.85 L406.48,393.85 L406.78,393.85 L407.07,393.85 L407.37,393.85 L407.67,393.85 L407.97,393.85 L408.26,393.85 L408.56,393.85 L408.86,393.85 L409.16,393.85 L409.45,393.85 L409.75,393.85 L410.05,393.85 L410.35,393.85 L410.64,393.85 L410.94,393.85 L411.24,393.85 L411.54,393.85 L411.83,393.85 L412.13,393.85 L412.43,393.85 L412.73,393.85 L413.02,393.85 L413.32,393.85 L413.62,393.85 L413.92,393.85 L414.21,393.85 L414.51,393.85 L414.81,393.85 L415.11,393.85 L415.40,393.85 L415.70,393.85 L416.00,393.85 L416.30,393.85 L416.59,393.85 L416.89,393.85 L417.19,393.85 L417.49,393.85 L417.78,393.85 L418.08,393.85 L418.38,393.85 L418.68,393.85 L418.97,393.85 L419.27,393.85 L419.57,393.85 L419.87,393.85 L420.16,393.85 L420.46,393.85 L420.76,393.85 L421.06,393.85 L421.35,393.85 L421.65,393.85 L421.95,393.85 L422.25,393.85 L422.54,393.85 L422.84,393.85 L423.14,393.85 L423.44,393.85 L423.74,393.85 L424.03,393.85 L424.33,393.85 L424.63,393.85 L424.93,393.85 L425.22,393.85 L425.52,393.85 L425.82,393.85 L426.12,393.85 L426.41,393.85 L426.71,393.85 L427.01,393.85 L427.31,393.85 L427.60,393.85 L427.90,393.85 L428.20,393.85 L428.50,393.85 L428.79,393.85 L429.09,393.85 L429.39,393.85 L429.69,393.85 L429.98,393.85 L430.28,393.85 L430.58,393.85 L430.88,393.85 L431.17,393.85 L431.47,393.85 L431.77,393.85 L432.06,393.85 L432.36,393.85 L432.66,393.85 L432.96,393.85 L433.25,393.85 L433.55,393.85 L433.85,393.85 L434.15,393.85 L434.44,393.85 L434.74,393.85 L435.04,393.85 L435.34,393.85 L435.63,393.85 L435.93,393.85 L436.23,393.85 L436.53,393.85 L436.82,393.85 L437.12,393.85 L437.42,393.85 L437.72,393.85 L438.01,393.85 L438.31,393.85 L438.61,393.85 L438.91,393.85 L439.20,393.85 L439.50,393.85 L439.80,393.85 L440.10,393.85 L440.39,393.85 L440.69,393.85 L440.99,393.85 L441.29,393.85 L441.58,393.85 L441.88,393.85 L442.18,393.85 L442.48,393.85 L442.77,393.85 L443.07,393.85 L443.37,393.85 L443.67,393.85 L443.96,393.85 L444.26,393.85 L444.56,393.85 L444.86,393.85 L445.15,393.85 L445.45,393.85 L445.75,393.85 L446.05,393.85 L446.34,393.85 L446.64,393.85 L446.94,393.85 L447.24,393.85 L447.53,393.85 L447.83,393.85 L448.13,393.85 L448.43,393.85 L448.72,393.85 L449.02,393.85 L449.32,393.85 L449.62,393.85 L449.91,393.85 L450.21,393.85 L450.51,393.85 L450.81,393.85 L451.10,393.85 L451.40,393.85 L451.70,393.85 L452.00,393.85 L452.29,393.85 L452.59,393.85 L452.89,393.85 L453.19,393.85 L453.49,393.85 L453.78,393.85 L454.08,393.85 L454.38,393.85 L454.67,393.85 L454.97,393.85 L455.27,393.85 L455.57,393.85 L455.87,393.85 L456.16,393.85 L456.46,393.85 L456.76,393.85 L457.06,393.85 L457.35,393.85 L457.65,393.85 L457.95,393.85 L458.25,393.85 L458.54,393.85 L458.84,393.85 L459.14,393.85 L459.44,393.85 L459.73,393.85 L460.03,393.85 L460.33,393.85 L460.62,393.85 L460.92,393.85 L461.22,393.85 L461.52,393.85 L461.81,393.85 L462.11,393.85 L462.41,393.85 L462.71,393.85 L463.00,393.85 L463.30,393.85 L463.60,393.85 L463.90,393.85 L464.19,393.85 L464.49,393.85 L464.79,393.85 L465.09,393.85 L465.38,393.85 L465.68,393.85 L465.98,393.85 L466.28,393.85 L466.57,393.85 L466.87,393.85 L467.17,393.85 L467.47,393.85 L467.76,393.84 L468.06,393.84 L468.36,393.84 L468.66,393.83 L468.95,393.83 L469.25,393.81 L469.55,393.80 L469.85,393.77 L470.14,393.73 L470.44,393.68 L470.74,393.61 L471.04,393.51 L471.33,393.38 L471.63,393.21 L471.93,393.00 L472.23,392.72 L472.52,392.37 L472.82,391.95 L473.12,391.44 L473.42,390.83 L473.71,390.12 L474.01,389.31 L474.31,388.38 L474.61,387.34 L474.90,386.19 L475.20,384.91 L475.50,383.49 L475.80,381.93 L476.09,380.19 L476.39,378.24 L476.69,376.03 L476.99,373.50 L477.28,370.58 L477.58,367.20 L477.88,363.30 L478.18,358.80 L478.47,353.66 L478.77,347.86 L479.07,341.43 L479.37,334.44 L479.66,326.99 L479.96,319.26 L480.26,311.46 L480.56,303.86 L480.86,296.72 L481.15,290.35 L481.45,285.04 L481.75,281.02 L482.04,278.52 L482.34,277.67 L482.64,278.53 L482.94,281.09 L483.24,285.24 L483.53,290.83 L483.83,297.62 L484.13,305.33 L484.42,313.68 L484.72,322.35 L485.02,331.07 L485.32,339.57 L485.62,347.65 L485.91,355.13 L486.21,361.91 L486.51,367.90 L486.80,373.10 L487.10,377.51 L487.40,381.19 L487.70,384.19 L488.00,386.59 L488.29,388.48 L488.59,389.94 L488.89,391.04 L489.19,391.87 L489.48,392.47 L489.78,392.91 L490.08,393.21 L490.38,393.43 L490.67,393.57 L490.97,393.67 L491.27,393.74 L491.56,393.78 L491.86,393.81 L492.16,393.82 L492.46,393.83 L492.75,393.84 L493.05,393.84 L493.35,393.85 L493.65,393.85 L493.94,393.85 L494.24,393.85 L494.54,393.85 L494.84,393.85 L495.13,393.85 L495.43,393.85 L495.73,393.85 L496.03,393.85 L496.32,393.85 L496.62,393.85 L496.92,393.85 L497.22,393.85 L497.51,393.85 L497.81,393.85 L498.11,393.85 L498.41,393.85 L498.70,393.85 L499.00,393.85 L499.30,393.85 L499.60,393.85 L499.89,393.85 L500.19,393.85 L500.49,393.85 L500.79,393.85 L501.08,393.85 L501.38,393.85 L501.68,393.85 L501.98,393.85 L502.27,393.85 L502.57,393.85 L502.87,393.85 L503.17,393.85 L503.46,393.85 L503.76,393.85 L504.06,393.85 L504.36,393.85 L504.65,393.85 L504.95,393.85 L505.25,393.85 L505.55,393.85 L505.84,393.85 L506.14,393.85 L506.44,393.85 L506.74,393.85 L507.03,393.85 L507.33,393.85 L507.63,393.85 L507.93,393.85 L508.22,393.85 L508.52,393.85 L508.82,393.85 L509.12,393.85 L509.41,393.85 L509.71,393.85 L510.01,393.85 L510.31,393.85 L510.61,393.85 L510.90,393.85 L511.20,393.85" stroke="#8e3a9e" stroke-width="1.6" fill="none" stroke-linejoin="round"/>
<path d="M392.20,393.73 L392.50,393.71 L392.80,393.68 L393.09,393.66 L393.39,393.63 L393.69,393.60 L393.99,393.57 L394.28,393.54 L394.58,393.51 L394.88,393.48 L395.18,393.46 L395.47,393.43 L395.77,393.41 L396.07,393.39 L396.37,393.38 L396.66,393.37 L396.96,393.37 L397.26,393.37 L397.56,393.38 L397.85,393.39 L398.15,393.41 L398.45,393.43 L398.75,393.46 L399.04,393.48 L399.34,393.51 L399.64,393.54 L399.94,393.57 L400.23,393.60 L400.53,393.63 L400.83,393.66 L401.12,393.68 L401.42,393.71 L401.72,393.73 L402.02,393.75 L402.31,393.77 L402.61,393.78 L402.91,393.79 L403.21,393.80 L403.50,393.81 L403.80,393.82 L404.10,393.83 L404.40,393.83 L404.69,393.84 L404.99,393.84 L405.29,393.84 L405.59,393.84 L405.88,393.84 L406.18,393.85 L406.48,393.85 L406.78,393.85 L407.07,393.85 L407.37,393.85 L407.67,393.85 L407.97,393.85 L408.26,393.85 L408.56,393.85 L408.86,393.85 L409.16,393.85 L409.45,393.85 L409.75,393.85 L410.05,393.85 L410.35,393.85 L410.64,393.85 L410.94,393.85 L411.24,393.85 L411.54,393.85 L411.83,393.85 L412.13,393.85 L412.43,393.85 L412.73,393.85 L413.02,393.85 L413.32,393.85 L413.62,393.85 L413.92,393.85 L414.21,393.85 L414.51,393.85 L414.81,393.85 L415.11,393.85 L415.40,393.85 L415.70,393.85 L416.00,393.85 L416.30,393.85 L416.59,393.85 L416.89,393.85 L417.19,393.85 L417.49,393.85 L417.78,393.85 L418.08,393.85 L418.38,393.85 L418.68,393.85 L418.97,393.85 L419.27,393.85 L419.57,393.85 L419.87,393.85 L420.16,393.85 L420.46,393.85 L420.76,393.85 L421.06,393.85 L421.35,393.85 L421.65,393.85 L421.95,393.85 L422.25,393.85 L422.54,393.85 L422.84,393.85 L423.14,393.85 L423.44,393.85 L423.74,393.85 L424.03,393.85 L424.33,393.85 L424.63,393.85 L424.93,393.85 L425.22,393.85 L425.52,393.85 L425.82,393.85 L426.12,393.85 L426.41,393.85 L426.71,393.85 L427.01,393.85 L427.31,393.85 L427.60,393.85 L427.90,393.85 L428.20,393.85 L428.50,393.85 L428.79,393.85 L429.09,393.85 L429.39,393.85 L429.69,393.85 L429.98,393.85 L430.28,393.85 L430.58,393.85 L430.88,393.85 L431.17,393.85 L431.47,393.85 L431.77,393.85 L432.06,393.85 L432.36,393.85 L432.66,393.85 L432.96,393.85 L433.25,393.85 L433.55,393.85 L433.85,393.85 L434.15,393.85 L434.44,393.85 L434.74,393.85 L435.04,393.85 L435.34,393.85 L435.63,393.85 L435.93,393.85 L436.23,393.85 L436.53,393.85 L436.82,393.85 L437.12,393.85 L437.42,393.85 L437.72,393.85 L438.01,393.85 L438.31,393.85 L438.61,393.85 L438.91,393.85 L439.20,393.85 L439.50,393.85 L439.80,393.85 L440.10,393.85 L440.39,393.85 L440.69,393.85 L440.99,393.85 L441.29,393.85 L441.58,393.85 L441.88,393.85 L442.18,393.85 L442.48,393.85 L442.77,393.85 L443.07,393.85 L443.37,393.85 L443.67,393.85 L443.96,393.85 L444.26,393.85 L444.56,393.85 L444.86,393.85 L445.15,393.85 L445.45,393.85 L445.75,393.85 L446.05,393.85 L446.34,393.85 L446.64,393.85 L446.94,393.85 L447.24,393.85 L447.53,393.85 L447.83,393.85 L448.13,393.85 L448.43,393.85 L448.72,393.85 L449.02,393.85 L449.32,393.85 L449.62,393.85 L449.91,393.85 L450.21,393.85 L450.51,393.85 L450.81,393.85 L451.10,393.85 L451.40,393.85 L451.70,393.85 L452.00,393.85 L452.29,393.85 L452.59,393.85 L452.89,393.85 L453.19,393.85 L453.49,393.85 L453.78,393.85 L454.08,393.85 L454.38,393.85 L454.67,393.85 L454.97,393.85 L455.27,393.85 L455.57,393.85 L455.87,393.85 L456.16,393.85 L456.46,393.85 L456.76,393.85 L457.06,393.85 L457.35,393.85 L457.65,393.85 L457.95,393.85 L458.25,393.85 L458.54,393.85 L458.84,393.85 L459.14,393.85 L459.44,393.85 L459.73,393.85 L460.03,393.85 L460.33,393.85 L460.62,393.85 L460.92,393.85 L461.22,393.85 L461.52,393.85 L461.81,393.85 L462.11,393.85 L462.41,393.85 L462.71,393.85 L463.00,393.85 L463.30,393.85 L463.60,393.85 L463.90,393.85 L464.19,393.85 L464.49,393.85 L464.79,393.85 L465.09,393.85 L465.38,393.85 L465.68,393.85 L465.98,393.85 L466.28,393.85 L466.57,393.85 L466.87,393.85 L467.17,393.85 L467.47,393.85 L467.76,393.85 L468.06,393.85 L468.36,393.84 L468.66,393.84 L468.95,393.84 L469.25,393.83 L469.55,393.81 L469.85,393.79 L470.14,393.76 L470.44,393.71 L470.74,393.64 L471.04,393.54 L471.33,393.41 L471.63,393.24 L471.93,393.03 L472.23,392.76 L472.52,392.44 L472.82,392.07 L473.12,391.66 L473.42,391.22 L473.71,390.77 L474.01,390.32 L474.31,389.90 L474.61,389.52 L474.90,389.22 L475.20,388.99 L475.50,388.85 L475.80,388.79 L476.09,388.78 L476.39,388.79 L476.69,388.80 L476.99,388.74 L477.28,388.56 L477.58,388.21 L477.88,387.64 L478.18,386.81 L478.47,385.69 L478.77,384.27 L479.07,382.55 L479.37,380.56 L479.66,378.35 L479.96,376.00 L480.26,373.60 L480.56,371.25 L480.86,369.07 L481.15,367.18 L481.45,365.67 L481.75,364.63 L482.04,364.13 L482.34,364.19 L482.64,364.82 L482.94,365.97 L483.24,367.59 L483.53,369.59 L483.83,371.86 L484.13,374.30 L484.42,376.81 L484.72,379.27 L485.02,381.62 L485.32,383.78 L485.62,385.72 L485.91,387.41 L486.21,388.85 L486.51,390.04 L486.80,391.00 L487.10,391.76 L487.40,392.35 L487.70,392.79 L488.00,393.12 L488.29,393.35 L488.59,393.52 L488.89,393.63 L489.19,393.71 L489.48,393.76 L489.78,393.79 L490.08,393.82 L490.38,393.83 L490.67,393.84 L490.97,393.84 L491.27,393.84 L491.56,393.85 L491.86,393.85 L492.16,393.85 L492.46,393.85 L492.75,393.85 L493.05,393.85 L493.35,393.85 L493.65,393.85 L493.94,393.85 L494.24,393.85 L494.54,393.85 L494.84,393.85 L495.13,393.85 L495.43,393.85 L495.73,393.85 L496.03,393.85 L496.32,393.85 L496.62,393.85 L496.92,393.85 L497.22,393.85 L497.51,393.85 L497.81,393.85 L498.11,393.85 L498.41,393.85 L498.70,393.85 L499.00,393.85 L499.30,393.85 L499.60,393.85 L499.89,393.85 L500.19,393.85 L500.49,393.85 L500.79,393.85 L501.08,393.85 L501.38,393.85 L501.68,393.85 L501.98,393.85 L502.27,393.85 L502.57,393.85 L502.87,393.85 L503.17,393.85 L503.46,393.85 L503.76,393.85 L504.06,393.85 L504.36,393.85 L504.65,393.85 L504.95,393.85 L505.25,393.85 L505.55,393.85 L505.84,393.85 L506.14,393.85 L506.44,393.85 L506.74,393.85 L507.03,393.85 L507.33,393.85 L507.63,393.85 L507.93,393.85 L508.22,393.85 L508.52,393.85 L508.82,393.85 L509.12,393.85 L509.41,393.85 L509.71,393.85 L510.01,393.85 L510.31,393.85 L510.61,393.85 L510.90,393.85 L511.20,393.85" stroke="#222" stroke-width="1.1" fill="none" stroke-dasharray="2.5,1.8" stroke-linejoin="round"/>
<text x="411.50" y="268.00" font-size="8.2" text-anchor="middle" fill="#111" stroke="#111" stroke-width="0.18" transform="translate(411.50 268.00) scale(1 1.12) translate(-411.50 -268.00)">Design</text>
<text x="443.90" y="258.30" font-size="8.2" text-anchor="middle" fill="#111" stroke="#111" stroke-width="0.18" transform="translate(443.90 258.30) scale(1 1.12) translate(-443.90 -258.30)">Purified</text>
<text x="443.90" y="268.00" font-size="8.2" text-anchor="middle" fill="#111" stroke="#111" stroke-width="0.18" transform="translate(443.90 268.00) scale(1 1.12) translate(-443.90 -268.00)">yield</text>
<text x="443.90" y="277.60" font-size="8.2" text-anchor="middle" fill="#111" stroke="#111" stroke-width="0.18" transform="translate(443.90 277.60) scale(1 1.12) translate(-443.90 -277.60)">(mg/l)</text>
<line x1="395.00" y1="279.40" x2="458.70" y2="279.40" stroke="#222" stroke-width="0.9"/>
<line x1="397.60" y1="285.60" x2="404.00" y2="285.60" stroke="#8e3a9e" stroke-width="1.7"/>
<text x="411.30" y="288.10" font-size="7" text-anchor="middle" fill="#111" stroke="#111" stroke-width="0.18" transform="translate(411.30 288.10) scale(1 1.12) translate(-411.30 -288.10)">22</text>
<text x="443.90" y="288.10" font-size="7" text-anchor="middle" fill="#111" stroke="#111" stroke-width="0.18" transform="translate(443.90 288.10) scale(1 1.12) translate(-443.90 -288.10)">18.1</text>
<line x1="397.60" y1="295.45" x2="404.00" y2="295.45" stroke="#dc4aa6" stroke-width="1.7"/>
<text x="411.30" y="297.95" font-size="7" text-anchor="middle" fill="#111" stroke="#111" stroke-width="0.18" transform="translate(411.30 297.95) scale(1 1.12) translate(-411.30 -297.95)">14</text>
<text x="443.90" y="297.95" font-size="7" text-anchor="middle" fill="#111" stroke="#111" stroke-width="0.18" transform="translate(443.90 297.95) scale(1 1.12) translate(-443.90 -297.95)">16.0</text>
<line x1="397.60" y1="305.30" x2="404.00" y2="305.30" stroke="#f06eb2" stroke-width="1.7"/>
<text x="411.30" y="307.80" font-size="7" text-anchor="middle" fill="#111" stroke="#111" stroke-width="0.18" transform="translate(411.30 307.80) scale(1 1.12) translate(-411.30 -307.80)">8</text>
<text x="443.90" y="307.80" font-size="7" text-anchor="middle" fill="#111" stroke="#111" stroke-width="0.18" transform="translate(443.90 307.80) scale(1 1.12) translate(-443.90 -307.80)">9.8</text>
<line x1="397.60" y1="315.15" x2="404.00" y2="315.15" stroke="#f59ac0" stroke-width="1.7"/>
<text x="411.30" y="317.65" font-size="7" text-anchor="middle" fill="#111" stroke="#111" stroke-width="0.18" transform="translate(411.30 317.65) scale(1 1.12) translate(-411.30 -317.65)">17</text>
<text x="443.90" y="317.65" font-size="7" text-anchor="middle" fill="#111" stroke="#111" stroke-width="0.18" transform="translate(443.90 317.65) scale(1 1.12) translate(-443.90 -317.65)">7.4</text>
<line x1="397.60" y1="325.00" x2="404.00" y2="325.00" stroke="#fbc8d4" stroke-width="1.7"/>
<text x="411.30" y="327.50" font-size="7" text-anchor="middle" fill="#111" stroke="#111" stroke-width="0.18" transform="translate(411.30 327.50) scale(1 1.12) translate(-411.30 -327.50)">16</text>
<text x="443.90" y="327.50" font-size="7" text-anchor="middle" fill="#111" stroke="#111" stroke-width="0.18" transform="translate(443.90 327.50) scale(1 1.12) translate(-443.90 -327.50)">6.5</text>
<line x1="398.40" y1="334.85" x2="402.10" y2="334.85" stroke="#222" stroke-width="1.1"/>
<text x="411.30" y="337.35" font-size="7" text-anchor="middle" fill="#111" stroke="#111" stroke-width="0.18" transform="translate(411.30 337.35) scale(1 1.12) translate(-411.30 -337.35)">4</text>
<text x="443.90" y="337.35" font-size="7" text-anchor="middle" fill="#111" stroke="#111" stroke-width="0.18" transform="translate(443.90 337.35) scale(1 1.12) translate(-443.90 -337.35)">5.8</text>
<rect x="576.00" y="0.00" width="65.30" height="11.60" fill="#f5aadc"/>
<text x="608.6" y="9.50" font-size="9.2" text-anchor="middle" stroke="#000" stroke-width="0.15" transform="translate(608.6 9.50) scale(1 1.1) translate(-608.6 -9.50)">K<tspan dy="2.4" font-size="6.6">D</tspan><tspan dy="-2.4">: 13 nM</tspan></text>
<line x1="574.30" y1="73.60" x2="574.30" y2="20.40" stroke="#222" stroke-width="1.1"/>
<line x1="574.30" y1="73.60" x2="639.70" y2="73.60" stroke="#222" stroke-width="1.1"/>
<line x1="569.70" y1="73.60" x2="574.30" y2="73.60" stroke="#222" stroke-width="1"/>
<text x="564.10" y="76.30" font-size="7.4" text-anchor="end" fill="#111" stroke="#111" stroke-width="0.18" transform="translate(564.10 76.30) scale(1 1.12) translate(-564.10 -76.30)">0.0</text>
<line x1="569.70" y1="60.30" x2="574.30" y2="60.30" stroke="#222" stroke-width="1"/>
<text x="564.10" y="63.00" font-size="7.4" text-anchor="end" fill="#111" stroke="#111" stroke-width="0.18" transform="translate(564.10 63.00) scale(1 1.12) translate(-564.10 -63.00)">0.1</text>
<line x1="569.70" y1="47.00" x2="574.30" y2="47.00" stroke="#222" stroke-width="1"/>
<text x="564.10" y="49.70" font-size="7.4" text-anchor="end" fill="#111" stroke="#111" stroke-width="0.18" transform="translate(564.10 49.70) scale(1 1.12) translate(-564.10 -49.70)">0.2</text>
<line x1="569.70" y1="33.70" x2="574.30" y2="33.70" stroke="#222" stroke-width="1"/>
<text x="564.10" y="36.40" font-size="7.4" text-anchor="end" fill="#111" stroke="#111" stroke-width="0.18" transform="translate(564.10 36.40) scale(1 1.12) translate(-564.10 -36.40)">0.3</text>
<line x1="569.70" y1="20.40" x2="574.30" y2="20.40" stroke="#222" stroke-width="1"/>
<text x="564.10" y="23.10" font-size="7.4" text-anchor="end" fill="#111" stroke="#111" stroke-width="0.18" transform="translate(564.10 23.10) scale(1 1.12) translate(-564.10 -23.10)">0.4</text>
<line x1="574.30" y1="73.60" x2="574.30" y2="77.90" stroke="#222" stroke-width="1.2"/>
<text x="574.30" y="88.80" font-size="7.5" text-anchor="middle" fill="#111" stroke="#111" stroke-width="0.18" transform="translate(574.30 88.80) scale(1 1.12) translate(-574.30 -88.80)">0</text>
<line x1="607.00" y1="73.60" x2="607.00" y2="77.90" stroke="#222" stroke-width="1.2"/>
<text x="607.00" y="88.80" font-size="7.5" text-anchor="middle" fill="#111" stroke="#111" stroke-width="0.18" transform="translate(607.00 88.80) scale(1 1.12) translate(-607.00 -88.80)">180</text>
<line x1="639.70" y1="73.60" x2="639.70" y2="77.90" stroke="#222" stroke-width="1.2"/>
<text x="639.70" y="88.80" font-size="7.5" text-anchor="middle" fill="#111" stroke="#111" stroke-width="0.18" transform="translate(639.70 88.80) scale(1 1.12) translate(-639.70 -88.80)">360</text>
<text x="607.00" y="101.60" font-size="8" text-anchor="middle" fill="#111" stroke="#111" stroke-width="0.18" transform="translate(607.00 101.60) scale(1 1.12) translate(-607.00 -101.60)">Time (s)</text>
<text x="546.20" y="46.60" font-size="8.15" text-anchor="middle" fill="#111" stroke="#111" stroke-width="0.18" transform="rotate(-90 546.20 46.60) translate(546.20 46.60) scale(1 1.12) translate(-546.20 -46.60)">Response (nm)</text>
<text x="536.60" y="52.00" font-size="12.7" text-anchor="middle" font-weight="bold" fill="#f7a6d6" transform="rotate(-90 536.60 52.00) translate(536.60 52.00) scale(1 1.04) translate(-536.60 -52.00)">LMIV230-02</text>
<line x1="644.60" y1="20.40" x2="651.00" y2="20.40" stroke="#1f77b4" stroke-width="2.0"/>
<text x="653.3" y="23.20" font-size="7.9" letter-spacing="0.15" fill="#222" stroke="#222" stroke-width="0.15">5.0×10<tspan dy="-3" font-size="5">−7</tspan></text>
<line x1="644.60" y1="30.85" x2="651.00" y2="30.85" stroke="#ff7f0e" stroke-width="2.0"/>
<text x="653.3" y="33.65" font-size="7.9" letter-spacing="0.15" fill="#222" stroke="#222" stroke-width="0.15">2.5×10<tspan dy="-3" font-size="5">−7</tspan></text>
<line x1="644.60" y1="41.30" x2="651.00" y2="41.30" stroke="#2ca02c" stroke-width="2.0"/>
<text x="653.3" y="44.10" font-size="7.9" letter-spacing="0.15" fill="#222" stroke="#222" stroke-width="0.15">1.2×10<tspan dy="-3" font-size="5">−7</tspan></text>
<line x1="644.60" y1="51.75" x2="651.00" y2="51.75" stroke="#d62728" stroke-width="2.0"/>
<text x="653.3" y="54.55" font-size="7.9" letter-spacing="0.15" fill="#222" stroke="#222" stroke-width="0.15">6.2×10<tspan dy="-3" font-size="5">−8</tspan></text>
<line x1="644.60" y1="62.20" x2="651.00" y2="62.20" stroke="#9467bd" stroke-width="2.0"/>
<text x="653.3" y="65.00" font-size="7.9" letter-spacing="0.15" fill="#222" stroke="#222" stroke-width="0.15">3.1×10<tspan dy="-3" font-size="5">−8</tspan></text>
<line x1="644.60" y1="72.65" x2="651.00" y2="72.65" stroke="#8c564b" stroke-width="2.0"/>
<text x="653.3" y="75.45" font-size="7.9" letter-spacing="0.15" fill="#222" stroke="#222" stroke-width="0.15">1.6×10<tspan dy="-3" font-size="5">−8</tspan></text>
<path d="M574.30,73.60 L575.03,70.45 L575.75,67.52 L576.48,64.78 L577.21,62.23 L577.93,59.85 L578.66,57.64 L579.39,55.57 L580.11,53.64 L580.84,51.84 L581.57,50.17 L582.29,48.60 L583.02,47.15 L583.75,45.79 L584.47,44.52 L585.20,43.34 L585.93,42.24 L586.65,41.21 L587.38,40.25 L588.11,39.36 L588.83,38.53 L589.56,37.75 L590.29,37.03 L591.01,36.35 L591.74,35.73 L592.47,35.14 L593.19,34.59 L593.92,34.08 L594.65,33.61 L595.37,33.16 L596.10,32.75 L596.83,32.37 L597.55,32.01 L598.28,31.67 L599.01,31.36 L599.73,31.07 L600.46,30.80 L601.19,30.54 L601.91,30.31 L602.64,30.09 L603.37,29.88 L604.09,29.69 L604.82,29.51 L605.55,29.34 L606.27,29.19 L607.00,29.04 L607.73,29.12 L608.45,29.19 L609.18,29.26 L609.91,29.33 L610.63,29.40 L611.36,29.47 L612.09,29.54 L612.81,29.60 L613.54,29.67 L614.27,29.74 L614.99,29.81 L615.72,29.88 L616.45,29.95 L617.17,30.02 L617.90,30.09 L618.63,30.16 L619.35,30.23 L620.08,30.29 L620.81,30.36 L621.53,30.43 L622.26,30.50 L622.99,30.57 L623.71,30.64 L624.44,30.70 L625.17,30.77 L625.89,30.84 L626.62,30.91 L627.35,30.97 L628.07,31.04 L628.80,31.11 L629.53,31.18 L630.25,31.24 L630.98,31.31 L631.71,31.38 L632.43,31.44 L633.16,31.51 L633.89,31.58 L634.61,31.64 L635.34,31.71 L636.07,31.77 L636.79,31.84 L637.52,31.91 L638.25,31.97 L638.97,32.04 L639.70,32.10" stroke="#1f77b4" stroke-width="1.9" fill="none" stroke-linejoin="round"/>
<path d="M574.00,73.10 L574.73,69.64 L575.45,66.44 L576.18,63.48 L576.91,60.74 L577.63,58.21 L578.36,55.88 L579.09,53.71 L579.81,51.71 L580.54,49.86 L581.27,48.16 L581.99,46.57 L582.72,45.11 L583.45,43.76 L584.17,42.51 L584.90,41.36 L585.63,40.29 L586.35,39.30 L587.08,38.39 L587.81,37.55 L588.53,36.77 L589.26,36.04 L589.99,35.38 L590.71,34.76 L591.44,34.19 L592.17,33.66 L592.89,33.18 L593.62,32.72 L594.35,32.31 L595.07,31.92 L595.80,31.57 L596.53,31.24 L597.25,30.93 L597.98,30.65 L598.71,30.39 L599.43,30.15 L600.16,29.93 L600.89,29.72 L601.61,29.53 L602.34,29.35 L603.07,29.19 L603.79,29.04 L604.52,28.90 L605.25,28.77 L605.97,28.65 L606.70,28.54 L607.43,28.62 L608.15,28.69 L608.88,28.76 L609.61,28.83 L610.33,28.90 L611.06,28.97 L611.79,29.04 L612.51,29.10 L613.24,29.17 L613.97,29.24 L614.69,29.31 L615.42,29.38 L616.15,29.45 L616.87,29.52 L617.60,29.59 L618.33,29.66 L619.05,29.73 L619.78,29.79 L620.51,29.86 L621.23,29.93 L621.96,30.00 L622.69,30.07 L623.41,30.14 L624.14,30.20 L624.87,30.27 L625.59,30.34 L626.32,30.41 L627.05,30.47 L627.77,30.54 L628.50,30.61 L629.23,30.68 L629.95,30.74 L630.68,30.81 L631.41,30.88 L632.13,30.94 L632.86,31.01 L633.59,31.08 L634.31,31.14 L635.04,31.21 L635.77,31.27 L636.49,31.34 L637.22,31.41 L637.95,31.47 L638.67,31.54 L639.40,31.60" stroke="#000" stroke-width="0.75" fill="none" stroke-linejoin="round"/>
<path d="M574.30,73.60 L575.03,71.68 L575.75,69.87 L576.48,68.15 L577.21,66.52 L577.93,64.97 L578.66,63.51 L579.39,62.12 L580.11,60.81 L580.84,59.57 L581.57,58.39 L582.29,57.27 L583.02,56.21 L583.75,55.21 L584.47,54.26 L585.20,53.36 L585.93,52.51 L586.65,51.70 L587.38,50.93 L588.11,50.21 L588.83,49.52 L589.56,48.87 L590.29,48.25 L591.01,47.67 L591.74,47.12 L592.47,46.59 L593.19,46.10 L593.92,45.62 L594.65,45.18 L595.37,44.76 L596.10,44.36 L596.83,43.98 L597.55,43.62 L598.28,43.28 L599.01,42.95 L599.73,42.65 L600.46,42.36 L601.19,42.08 L601.91,41.82 L602.64,41.58 L603.37,41.34 L604.09,41.12 L604.82,40.91 L605.55,40.72 L606.27,40.53 L607.00,40.35 L607.73,40.41 L608.45,40.46 L609.18,40.52 L609.91,40.57 L610.63,40.62 L611.36,40.68 L612.09,40.73 L612.81,40.79 L613.54,40.84 L614.27,40.90 L614.99,40.95 L615.72,41.01 L616.45,41.06 L617.17,41.11 L617.90,41.17 L618.63,41.22 L619.35,41.28 L620.08,41.33 L620.81,41.38 L621.53,41.44 L622.26,41.49 L622.99,41.54 L623.71,41.60 L624.44,41.65 L625.17,41.70 L625.89,41.75 L626.62,41.81 L627.35,41.86 L628.07,41.91 L628.80,41.97 L629.53,42.02 L630.25,42.07 L630.98,42.12 L631.71,42.18 L632.43,42.23 L633.16,42.28 L633.89,42.33 L634.61,42.38 L635.34,42.44 L636.07,42.49 L636.79,42.54 L637.52,42.59 L638.25,42.64 L638.97,42.69 L639.70,42.74" stroke="#ff7f0e" stroke-width="1.9" fill="none" stroke-linejoin="round"/>
<path d="M574.00,73.10 L574.73,71.01 L575.45,69.05 L576.18,67.19 L576.91,65.45 L577.63,63.81 L578.36,62.27 L579.09,60.82 L579.81,59.45 L580.54,58.16 L581.27,56.95 L581.99,55.81 L582.72,54.73 L583.45,53.72 L584.17,52.77 L584.90,51.88 L585.63,51.03 L586.35,50.24 L587.08,49.49 L587.81,48.79 L588.53,48.13 L589.26,47.50 L589.99,46.92 L590.71,46.36 L591.44,45.85 L592.17,45.36 L592.89,44.90 L593.62,44.46 L594.35,44.05 L595.07,43.67 L595.80,43.31 L596.53,42.97 L597.25,42.65 L597.98,42.35 L598.71,42.06 L599.43,41.79 L600.16,41.54 L600.89,41.31 L601.61,41.08 L602.34,40.87 L603.07,40.68 L603.79,40.49 L604.52,40.32 L605.25,40.15 L605.97,40.00 L606.70,39.85 L607.43,39.91 L608.15,39.96 L608.88,40.02 L609.61,40.07 L610.33,40.12 L611.06,40.18 L611.79,40.23 L612.51,40.29 L613.24,40.34 L613.97,40.40 L614.69,40.45 L615.42,40.51 L616.15,40.56 L616.87,40.61 L617.60,40.67 L618.33,40.72 L619.05,40.78 L619.78,40.83 L620.51,40.88 L621.23,40.94 L621.96,40.99 L622.69,41.04 L623.41,41.10 L624.14,41.15 L624.87,41.20 L625.59,41.25 L626.32,41.31 L627.05,41.36 L627.77,41.41 L628.50,41.47 L629.23,41.52 L629.95,41.57 L630.68,41.62 L631.41,41.68 L632.13,41.73 L632.86,41.78 L633.59,41.83 L634.31,41.88 L635.04,41.94 L635.77,41.99 L636.49,42.04 L637.22,42.09 L637.95,42.14 L638.67,42.19 L639.40,42.24" stroke="#000" stroke-width="0.75" fill="none" stroke-linejoin="round"/>
<path d="M574.30,73.60 L575.03,72.48 L575.75,71.42 L576.48,70.40 L577.21,69.43 L577.93,68.50 L578.66,67.62 L579.39,66.77 L580.11,65.96 L580.84,65.19 L581.57,64.45 L582.29,63.75 L583.02,63.08 L583.75,62.43 L584.47,61.82 L585.20,61.23 L585.93,60.67 L586.65,60.14 L587.38,59.63 L588.11,59.14 L588.83,58.68 L589.56,58.23 L590.29,57.81 L591.01,57.40 L591.74,57.02 L592.47,56.65 L593.19,56.29 L593.92,55.96 L594.65,55.63 L595.37,55.33 L596.10,55.03 L596.83,54.75 L597.55,54.48 L598.28,54.23 L599.01,53.98 L599.73,53.75 L600.46,53.53 L601.19,53.31 L601.91,53.11 L602.64,52.92 L603.37,52.73 L604.09,52.55 L604.82,52.38 L605.55,52.22 L606.27,52.07 L607.00,51.92 L607.73,51.95 L608.45,51.98 L609.18,52.01 L609.91,52.04 L610.63,52.07 L611.36,52.10 L612.09,52.13 L612.81,52.16 L613.54,52.19 L614.27,52.22 L614.99,52.25 L615.72,52.28 L616.45,52.31 L617.17,52.34 L617.90,52.37 L618.63,52.40 L619.35,52.43 L620.08,52.46 L620.81,52.49 L621.53,52.52 L622.26,52.55 L622.99,52.58 L623.71,52.61 L624.44,52.64 L625.17,52.67 L625.89,52.70 L626.62,52.73 L627.35,52.76 L628.07,52.79 L628.80,52.82 L629.53,52.85 L630.25,52.88 L630.98,52.90 L631.71,52.93 L632.43,52.96 L633.16,52.99 L633.89,53.02 L634.61,53.05 L635.34,53.08 L636.07,53.11 L636.79,53.14 L637.52,53.16 L638.25,53.19 L638.97,53.22 L639.70,53.25" stroke="#2ca02c" stroke-width="1.9" fill="none" stroke-linejoin="round"/>
<path d="M574.00,73.10 L574.73,71.89 L575.45,70.75 L576.18,69.66 L576.91,68.62 L577.63,67.64 L578.36,66.71 L579.09,65.82 L579.81,64.98 L580.54,64.18 L581.27,63.42 L581.99,62.70 L582.72,62.01 L583.45,61.36 L584.17,60.74 L584.90,60.16 L585.63,59.60 L586.35,59.07 L587.08,58.57 L587.81,58.09 L588.53,57.64 L589.26,57.20 L589.99,56.80 L590.71,56.41 L591.44,56.04 L592.17,55.69 L592.89,55.35 L593.62,55.04 L594.35,54.74 L595.07,54.45 L595.80,54.18 L596.53,53.92 L597.25,53.68 L597.98,53.45 L598.71,53.23 L599.43,53.02 L600.16,52.82 L600.89,52.63 L601.61,52.45 L602.34,52.28 L603.07,52.12 L603.79,51.96 L604.52,51.82 L605.25,51.68 L605.97,51.55 L606.70,51.42 L607.43,51.45 L608.15,51.48 L608.88,51.51 L609.61,51.54 L610.33,51.57 L611.06,51.60 L611.79,51.63 L612.51,51.66 L613.24,51.69 L613.97,51.72 L614.69,51.75 L615.42,51.78 L616.15,51.81 L616.87,51.84 L617.60,51.87 L618.33,51.90 L619.05,51.93 L619.78,51.96 L620.51,51.99 L621.23,52.02 L621.96,52.05 L622.69,52.08 L623.41,52.11 L624.14,52.14 L624.87,52.17 L625.59,52.20 L626.32,52.23 L627.05,52.26 L627.77,52.29 L628.50,52.32 L629.23,52.35 L629.95,52.38 L630.68,52.40 L631.41,52.43 L632.13,52.46 L632.86,52.49 L633.59,52.52 L634.31,52.55 L635.04,52.58 L635.77,52.61 L636.49,52.64 L637.22,52.66 L637.95,52.69 L638.67,52.72 L639.40,52.75" stroke="#000" stroke-width="0.75" fill="none" stroke-linejoin="round"/>
<path d="M574.30,73.60 L575.03,72.94 L575.75,72.30 L576.48,71.69 L577.21,71.10 L577.93,70.54 L578.66,70.01 L579.39,69.49 L580.11,68.99 L580.84,68.52 L581.57,68.07 L582.29,67.63 L583.02,67.21 L583.75,66.81 L584.47,66.43 L585.20,66.06 L585.93,65.70 L586.65,65.37 L587.38,65.04 L588.11,64.73 L588.83,64.43 L589.56,64.14 L590.29,63.87 L591.01,63.60 L591.74,63.35 L592.47,63.11 L593.19,62.88 L593.92,62.66 L594.65,62.44 L595.37,62.24 L596.10,62.04 L596.83,61.85 L597.55,61.67 L598.28,61.50 L599.01,61.33 L599.73,61.17 L600.46,61.02 L601.19,60.87 L601.91,60.73 L602.64,60.60 L603.37,60.47 L604.09,60.35 L604.82,60.23 L605.55,60.11 L606.27,60.01 L607.00,59.90 L607.73,59.93 L608.45,59.95 L609.18,59.97 L609.91,60.00 L610.63,60.02 L611.36,60.05 L612.09,60.07 L612.81,60.10 L613.54,60.12 L614.27,60.14 L614.99,60.17 L615.72,60.19 L616.45,60.22 L617.17,60.24 L617.90,60.27 L618.63,60.29 L619.35,60.31 L620.08,60.34 L620.81,60.36 L621.53,60.38 L622.26,60.41 L622.99,60.43 L623.71,60.46 L624.44,60.48 L625.17,60.50 L625.89,60.53 L626.62,60.55 L627.35,60.57 L628.07,60.60 L628.80,60.62 L629.53,60.64 L630.25,60.67 L630.98,60.69 L631.71,60.71 L632.43,60.74 L633.16,60.76 L633.89,60.78 L634.61,60.81 L635.34,60.83 L636.07,60.85 L636.79,60.87 L637.52,60.90 L638.25,60.92 L638.97,60.94 L639.70,60.96" stroke="#d62728" stroke-width="1.9" fill="none" stroke-linejoin="round"/>
<path d="M574.00,73.10 L574.73,72.38 L575.45,71.70 L576.18,71.05 L576.91,70.43 L577.63,69.84 L578.36,69.27 L579.09,68.73 L579.81,68.22 L580.54,67.72 L581.27,67.26 L581.99,66.81 L582.72,66.38 L583.45,65.98 L584.17,65.59 L584.90,65.22 L585.63,64.86 L586.35,64.53 L587.08,64.20 L587.81,63.90 L588.53,63.60 L589.26,63.33 L589.99,63.06 L590.71,62.80 L591.44,62.56 L592.17,62.33 L592.89,62.11 L593.62,61.90 L594.35,61.70 L595.07,61.51 L595.80,61.32 L596.53,61.15 L597.25,60.98 L597.98,60.82 L598.71,60.67 L599.43,60.53 L600.16,60.39 L600.89,60.26 L601.61,60.13 L602.34,60.01 L603.07,59.90 L603.79,59.79 L604.52,59.69 L605.25,59.59 L605.97,59.49 L606.70,59.40 L607.43,59.43 L608.15,59.45 L608.88,59.47 L609.61,59.50 L610.33,59.52 L611.06,59.55 L611.79,59.57 L612.51,59.60 L613.24,59.62 L613.97,59.64 L614.69,59.67 L615.42,59.69 L616.15,59.72 L616.87,59.74 L617.60,59.77 L618.33,59.79 L619.05,59.81 L619.78,59.84 L620.51,59.86 L621.23,59.88 L621.96,59.91 L622.69,59.93 L623.41,59.96 L624.14,59.98 L624.87,60.00 L625.59,60.03 L626.32,60.05 L627.05,60.07 L627.77,60.10 L628.50,60.12 L629.23,60.14 L629.95,60.17 L630.68,60.19 L631.41,60.21 L632.13,60.24 L632.86,60.26 L633.59,60.28 L634.31,60.31 L635.04,60.33 L635.77,60.35 L636.49,60.37 L637.22,60.40 L637.95,60.42 L638.67,60.44 L639.40,60.46" stroke="#000" stroke-width="0.75" fill="none" stroke-linejoin="round"/>
<path d="M574.30,73.60 L575.03,73.18 L575.75,72.77 L576.48,72.38 L577.21,72.00 L577.93,71.63 L578.66,71.28 L579.39,70.95 L580.11,70.62 L580.84,70.31 L581.57,70.01 L582.29,69.72 L583.02,69.44 L583.75,69.17 L584.47,68.91 L585.20,68.66 L585.93,68.42 L586.65,68.19 L587.38,67.97 L588.11,67.76 L588.83,67.55 L589.56,67.35 L590.29,67.16 L591.01,66.98 L591.74,66.80 L592.47,66.63 L593.19,66.47 L593.92,66.31 L594.65,66.16 L595.37,66.01 L596.10,65.87 L596.83,65.73 L597.55,65.60 L598.28,65.48 L599.01,65.36 L599.73,65.24 L600.46,65.13 L601.19,65.02 L601.91,64.92 L602.64,64.82 L603.37,64.72 L604.09,64.63 L604.82,64.54 L605.55,64.45 L606.27,64.37 L607.00,64.29 L607.73,64.32 L608.45,64.34 L609.18,64.37 L609.91,64.39 L610.63,64.41 L611.36,64.44 L612.09,64.46 L612.81,64.49 L613.54,64.51 L614.27,64.54 L614.99,64.56 L615.72,64.59 L616.45,64.61 L617.17,64.63 L617.90,64.66 L618.63,64.68 L619.35,64.71 L620.08,64.73 L620.81,64.76 L621.53,64.78 L622.26,64.80 L622.99,64.83 L623.71,64.85 L624.44,64.87 L625.17,64.90 L625.89,64.92 L626.62,64.94 L627.35,64.97 L628.07,64.99 L628.80,65.01 L629.53,65.04 L630.25,65.06 L630.98,65.08 L631.71,65.11 L632.43,65.13 L633.16,65.15 L633.89,65.17 L634.61,65.20 L635.34,65.22 L636.07,65.24 L636.79,65.26 L637.52,65.29 L638.25,65.31 L638.97,65.33 L639.70,65.35" stroke="#9467bd" stroke-width="1.9" fill="none" stroke-linejoin="round"/>
<path d="M574.00,73.10 L574.73,72.65 L575.45,72.21 L576.18,71.79 L576.91,71.39 L577.63,71.01 L578.36,70.64 L579.09,70.29 L579.81,69.95 L580.54,69.63 L581.27,69.32 L581.99,69.02 L582.72,68.73 L583.45,68.46 L584.17,68.20 L584.90,67.95 L585.63,67.71 L586.35,67.48 L587.08,67.26 L587.81,67.05 L588.53,66.84 L589.26,66.65 L589.99,66.46 L590.71,66.28 L591.44,66.11 L592.17,65.95 L592.89,65.79 L593.62,65.64 L594.35,65.50 L595.07,65.36 L595.80,65.23 L596.53,65.10 L597.25,64.98 L597.98,64.86 L598.71,64.75 L599.43,64.64 L600.16,64.54 L600.89,64.44 L601.61,64.35 L602.34,64.26 L603.07,64.17 L603.79,64.09 L604.52,64.01 L605.25,63.93 L605.97,63.86 L606.70,63.79 L607.43,63.82 L608.15,63.84 L608.88,63.87 L609.61,63.89 L610.33,63.91 L611.06,63.94 L611.79,63.96 L612.51,63.99 L613.24,64.01 L613.97,64.04 L614.69,64.06 L615.42,64.09 L616.15,64.11 L616.87,64.13 L617.60,64.16 L618.33,64.18 L619.05,64.21 L619.78,64.23 L620.51,64.26 L621.23,64.28 L621.96,64.30 L622.69,64.33 L623.41,64.35 L624.14,64.37 L624.87,64.40 L625.59,64.42 L626.32,64.44 L627.05,64.47 L627.77,64.49 L628.50,64.51 L629.23,64.54 L629.95,64.56 L630.68,64.58 L631.41,64.61 L632.13,64.63 L632.86,64.65 L633.59,64.67 L634.31,64.70 L635.04,64.72 L635.77,64.74 L636.49,64.76 L637.22,64.79 L637.95,64.81 L638.67,64.83 L639.40,64.85" stroke="#000" stroke-width="0.75" fill="none" stroke-linejoin="round"/>
<path d="M574.30,73.60 L575.03,73.37 L575.75,73.15 L576.48,72.94 L577.21,72.73 L577.93,72.53 L578.66,72.34 L579.39,72.16 L580.11,71.98 L580.84,71.81 L581.57,71.65 L582.29,71.49 L583.02,71.34 L583.75,71.19 L584.47,71.05 L585.20,70.92 L585.93,70.79 L586.65,70.66 L587.38,70.54 L588.11,70.43 L588.83,70.32 L589.56,70.21 L590.29,70.10 L591.01,70.00 L591.74,69.91 L592.47,69.82 L593.19,69.73 L593.92,69.64 L594.65,69.56 L595.37,69.48 L596.10,69.40 L596.83,69.33 L597.55,69.26 L598.28,69.19 L599.01,69.13 L599.73,69.06 L600.46,69.00 L601.19,68.94 L601.91,68.89 L602.64,68.83 L603.37,68.78 L604.09,68.73 L604.82,68.68 L605.55,68.63 L606.27,68.59 L607.00,68.55 L607.73,68.57 L608.45,68.58 L609.18,68.60 L609.91,68.62 L610.63,68.64 L611.36,68.66 L612.09,68.68 L612.81,68.70 L613.54,68.72 L614.27,68.74 L614.99,68.75 L615.72,68.77 L616.45,68.79 L617.17,68.81 L617.90,68.83 L618.63,68.85 L619.35,68.86 L620.08,68.88 L620.81,68.90 L621.53,68.92 L622.26,68.94 L622.99,68.95 L623.71,68.97 L624.44,68.99 L625.17,69.01 L625.89,69.02 L626.62,69.04 L627.35,69.06 L628.07,69.08 L628.80,69.09 L629.53,69.11 L630.25,69.13 L630.98,69.14 L631.71,69.16 L632.43,69.18 L633.16,69.20 L633.89,69.21 L634.61,69.23 L635.34,69.25 L636.07,69.26 L636.79,69.28 L637.52,69.29 L638.25,69.31 L638.97,69.33 L639.70,69.34" stroke="#8c564b" stroke-width="1.9" fill="none" stroke-linejoin="round"/>
<path d="M574.00,73.10 L574.73,72.85 L575.45,72.62 L576.18,72.39 L576.91,72.17 L577.63,71.96 L578.36,71.76 L579.09,71.57 L579.81,71.39 L580.54,71.21 L581.27,71.05 L581.99,70.88 L582.72,70.73 L583.45,70.58 L584.17,70.44 L584.90,70.30 L585.63,70.17 L586.35,70.05 L587.08,69.93 L587.81,69.81 L588.53,69.70 L589.26,69.60 L589.99,69.50 L590.71,69.40 L591.44,69.31 L592.17,69.22 L592.89,69.13 L593.62,69.05 L594.35,68.97 L595.07,68.90 L595.80,68.83 L596.53,68.76 L597.25,68.69 L597.98,68.63 L598.71,68.57 L599.43,68.51 L600.16,68.45 L600.89,68.40 L601.61,68.35 L602.34,68.30 L603.07,68.25 L603.79,68.21 L604.52,68.16 L605.25,68.12 L605.97,68.08 L606.70,68.05 L607.43,68.07 L608.15,68.08 L608.88,68.10 L609.61,68.12 L610.33,68.14 L611.06,68.16 L611.79,68.18 L612.51,68.20 L613.24,68.22 L613.97,68.24 L614.69,68.25 L615.42,68.27 L616.15,68.29 L616.87,68.31 L617.60,68.33 L618.33,68.35 L619.05,68.36 L619.78,68.38 L620.51,68.40 L621.23,68.42 L621.96,68.44 L622.69,68.45 L623.41,68.47 L624.14,68.49 L624.87,68.51 L625.59,68.52 L626.32,68.54 L627.05,68.56 L627.77,68.58 L628.50,68.59 L629.23,68.61 L629.95,68.63 L630.68,68.64 L631.41,68.66 L632.13,68.68 L632.86,68.70 L633.59,68.71 L634.31,68.73 L635.04,68.75 L635.77,68.76 L636.49,68.78 L637.22,68.79 L637.95,68.81 L638.67,68.83 L639.40,68.84" stroke="#000" stroke-width="0.75" fill="none" stroke-linejoin="round"/>
<rect x="576.00" y="105.40" width="65.30" height="11.60" fill="#6eeba6"/>
<text x="608.6" y="114.90" font-size="9.2" text-anchor="middle" stroke="#000" stroke-width="0.15" transform="translate(608.6 114.90) scale(1 1.1) translate(-608.6 -114.90)">K<tspan dy="2.4" font-size="6.6">D</tspan><tspan dy="-2.4">: n.d.</tspan></text>
<line x1="574.30" y1="169.40" x2="574.30" y2="116.20" stroke="#222" stroke-width="1.1"/>
<line x1="574.30" y1="169.40" x2="639.70" y2="169.40" stroke="#222" stroke-width="1.1"/>
<line x1="569.70" y1="169.40" x2="574.30" y2="169.40" stroke="#222" stroke-width="1"/>
<text x="564.10" y="172.10" font-size="7.4" text-anchor="end" fill="#111" stroke="#111" stroke-width="0.18" transform="translate(564.10 172.10) scale(1 1.12) translate(-564.10 -172.10)">0.0</text>
<line x1="569.70" y1="156.10" x2="574.30" y2="156.10" stroke="#222" stroke-width="1"/>
<text x="564.10" y="158.80" font-size="7.4" text-anchor="end" fill="#111" stroke="#111" stroke-width="0.18" transform="translate(564.10 158.80) scale(1 1.12) translate(-564.10 -158.80)">0.1</text>
<line x1="569.70" y1="142.80" x2="574.30" y2="142.80" stroke="#222" stroke-width="1"/>
<text x="564.10" y="145.50" font-size="7.4" text-anchor="end" fill="#111" stroke="#111" stroke-width="0.18" transform="translate(564.10 145.50) scale(1 1.12) translate(-564.10 -145.50)">0.2</text>
<line x1="569.70" y1="129.50" x2="574.30" y2="129.50" stroke="#222" stroke-width="1"/>
<text x="564.10" y="132.20" font-size="7.4" text-anchor="end" fill="#111" stroke="#111" stroke-width="0.18" transform="translate(564.10 132.20) scale(1 1.12) translate(-564.10 -132.20)">0.3</text>
<line x1="569.70" y1="116.20" x2="574.30" y2="116.20" stroke="#222" stroke-width="1"/>
<text x="564.10" y="118.90" font-size="7.4" text-anchor="end" fill="#111" stroke="#111" stroke-width="0.18" transform="translate(564.10 118.90) scale(1 1.12) translate(-564.10 -118.90)">0.4</text>
<line x1="574.30" y1="169.40" x2="574.30" y2="173.70" stroke="#222" stroke-width="1.2"/>
<text x="574.30" y="184.60" font-size="7.5" text-anchor="middle" fill="#111" stroke="#111" stroke-width="0.18" transform="translate(574.30 184.60) scale(1 1.12) translate(-574.30 -184.60)">0</text>
<line x1="607.00" y1="169.40" x2="607.00" y2="173.70" stroke="#222" stroke-width="1.2"/>
<text x="607.00" y="184.60" font-size="7.5" text-anchor="middle" fill="#111" stroke="#111" stroke-width="0.18" transform="translate(607.00 184.60) scale(1 1.12) translate(-607.00 -184.60)">180</text>
<line x1="639.70" y1="169.40" x2="639.70" y2="173.70" stroke="#222" stroke-width="1.2"/>
<text x="639.70" y="184.60" font-size="7.5" text-anchor="middle" fill="#111" stroke="#111" stroke-width="0.18" transform="translate(639.70 184.60) scale(1 1.12) translate(-639.70 -184.60)">360</text>
<text x="607.00" y="197.40" font-size="8" text-anchor="middle" fill="#111" stroke="#111" stroke-width="0.18" transform="translate(607.00 197.40) scale(1 1.12) translate(-607.00 -197.40)">Time (s)</text>
<text x="546.20" y="142.40" font-size="8.15" text-anchor="middle" fill="#111" stroke="#111" stroke-width="0.18" transform="rotate(-90 546.20 142.40) translate(546.20 142.40) scale(1 1.12) translate(-546.20 -142.40)">Response (nm)</text>
<text x="536.00" y="148.00" font-size="12" text-anchor="middle" font-weight="bold" fill="#3ee28a" transform="rotate(-90 536.00 148.00) translate(536.00 148.00) scale(1 1.04) translate(-536.00 -148.00)">15C5</text>
<line x1="644.60" y1="116.20" x2="651.00" y2="116.20" stroke="#1f77b4" stroke-width="2.0"/>
<text x="653.3" y="119.00" font-size="7.9" letter-spacing="0.15" fill="#222" stroke="#222" stroke-width="0.15">5.0×10<tspan dy="-3" font-size="5">−7</tspan></text>
<line x1="644.60" y1="126.65" x2="651.00" y2="126.65" stroke="#ff7f0e" stroke-width="2.0"/>
<text x="653.3" y="129.45" font-size="7.9" letter-spacing="0.15" fill="#222" stroke="#222" stroke-width="0.15">2.5×10<tspan dy="-3" font-size="5">−7</tspan></text>
<line x1="644.60" y1="137.10" x2="651.00" y2="137.10" stroke="#2ca02c" stroke-width="2.0"/>
<text x="653.3" y="139.90" font-size="7.9" letter-spacing="0.15" fill="#222" stroke="#222" stroke-width="0.15">1.2×10<tspan dy="-3" font-size="5">−7</tspan></text>
<line x1="644.60" y1="147.55" x2="651.00" y2="147.55" stroke="#d62728" stroke-width="2.0"/>
<text x="653.3" y="150.35" font-size="7.9" letter-spacing="0.15" fill="#222" stroke="#222" stroke-width="0.15">6.2×10<tspan dy="-3" font-size="5">−8</tspan></text>
<line x1="644.60" y1="158.00" x2="651.00" y2="158.00" stroke="#9467bd" stroke-width="2.0"/>
<text x="653.3" y="160.80" font-size="7.9" letter-spacing="0.15" fill="#222" stroke="#222" stroke-width="0.15">3.1×10<tspan dy="-3" font-size="5">−8</tspan></text>
<line x1="644.60" y1="168.45" x2="651.00" y2="168.45" stroke="#8c564b" stroke-width="2.0"/>
<text x="653.3" y="171.25" font-size="7.9" letter-spacing="0.15" fill="#222" stroke="#222" stroke-width="0.15">1.6×10<tspan dy="-3" font-size="5">−8</tspan></text>
<path d="M574.30,169.40 L575.39,169.35 L576.48,169.29 L577.57,169.24 L578.66,169.19 L579.75,169.14 L580.84,169.10 L581.93,169.06 L583.02,169.02 L584.11,168.98 L585.20,168.95 L586.29,168.93 L587.38,168.90 L588.47,168.89 L589.56,168.88 L590.65,168.87 L591.74,168.87 L592.83,168.87 L593.92,168.88 L595.01,168.90 L596.10,168.92 L597.19,168.94 L598.28,168.97 L599.37,169.00 L600.46,169.04 L601.55,169.08 L602.64,169.13 L603.73,169.17 L604.82,169.22 L605.91,169.27 L607.00,169.32 L608.09,169.38 L609.18,169.43 L610.27,169.48 L611.36,169.54 L612.45,169.59 L613.54,169.64 L614.63,169.68 L615.72,169.73 L616.81,169.77 L617.90,169.80 L618.99,169.84 L620.08,169.86 L621.17,169.89 L622.26,169.91 L623.35,169.92 L624.44,169.93 L625.53,169.93 L626.62,169.93 L627.71,169.92 L628.80,169.91 L629.89,169.89 L630.98,169.87 L632.07,169.84 L633.16,169.81 L634.25,169.78 L635.34,169.74 L636.43,169.69 L637.52,169.65 L638.61,169.60 L639.70,169.55" stroke="#1f77b4" stroke-width="1.3" fill="none"/>
<path d="M574.30,168.95 L575.39,168.93 L576.48,168.91 L577.57,168.89 L578.66,168.88 L579.75,168.88 L580.84,168.88 L581.93,168.88 L583.02,168.89 L584.11,168.91 L585.20,168.93 L586.29,168.96 L587.38,168.99 L588.47,169.02 L589.56,169.06 L590.65,169.10 L591.74,169.15 L592.83,169.20 L593.92,169.25 L595.01,169.30 L596.10,169.35 L597.19,169.41 L598.28,169.46 L599.37,169.51 L600.46,169.57 L601.55,169.62 L602.64,169.67 L603.73,169.72 L604.82,169.76 L605.91,169.80 L607.00,169.84 L608.09,169.88 L609.18,169.91 L610.27,169.93 L611.36,169.95 L612.45,169.97 L613.54,169.98 L614.63,169.98 L615.72,169.98 L616.81,169.97 L617.90,169.96 L618.99,169.95 L620.08,169.93 L621.17,169.90 L622.26,169.87 L623.35,169.84 L624.44,169.80 L625.53,169.76 L626.62,169.71 L627.71,169.66 L628.80,169.62 L629.89,169.56 L630.98,169.51 L632.07,169.46 L633.16,169.41 L634.25,169.36 L635.34,169.31 L636.43,169.26 L637.52,169.21 L638.61,169.17 L639.70,169.13" stroke="#ff7f0e" stroke-width="1.3" fill="none"/>
<path d="M574.30,168.92 L575.39,168.94 L576.48,168.98 L577.57,169.01 L578.66,169.05 L579.75,169.09 L580.84,169.14 L581.93,169.19 L583.02,169.24 L584.11,169.30 L585.20,169.35 L586.29,169.41 L587.38,169.46 L588.47,169.52 L589.56,169.57 L590.65,169.63 L591.74,169.68 L592.83,169.73 L593.92,169.77 L595.01,169.82 L596.10,169.86 L597.19,169.89 L598.28,169.92 L599.37,169.95 L600.46,169.97 L601.55,169.99 L602.64,170.00 L603.73,170.00 L604.82,170.00 L605.91,170.00 L607.00,169.99 L608.09,169.97 L609.18,169.96 L610.27,169.93 L611.36,169.90 L612.45,169.87 L613.54,169.83 L614.63,169.79 L615.72,169.75 L616.81,169.70 L617.90,169.66 L618.99,169.61 L620.08,169.56 L621.17,169.51 L622.26,169.46 L623.35,169.41 L624.44,169.36 L625.53,169.31 L626.62,169.26 L627.71,169.22 L628.80,169.18 L629.89,169.15 L630.98,169.12 L632.07,169.09 L633.16,169.07 L634.25,169.05 L635.34,169.03 L636.43,169.03 L637.52,169.02 L638.61,169.03 L639.70,169.03" stroke="#2ca02c" stroke-width="1.3" fill="none"/>
<path d="M574.30,169.32 L575.39,169.38 L576.48,169.44 L577.57,169.50 L578.66,169.55 L579.75,169.61 L580.84,169.66 L581.93,169.71 L583.02,169.76 L584.11,169.80 L585.20,169.84 L586.29,169.88 L587.38,169.91 L588.47,169.94 L589.56,169.96 L590.65,169.98 L591.74,169.99 L592.83,170.00 L593.92,170.00 L595.01,170.00 L596.10,169.99 L597.19,169.98 L598.28,169.96 L599.37,169.93 L600.46,169.91 L601.55,169.88 L602.64,169.84 L603.73,169.80 L604.82,169.76 L605.91,169.71 L607.00,169.67 L608.09,169.62 L609.18,169.57 L610.27,169.52 L611.36,169.47 L612.45,169.43 L613.54,169.38 L614.63,169.33 L615.72,169.29 L616.81,169.25 L617.90,169.21 L618.99,169.18 L620.08,169.15 L621.17,169.12 L622.26,169.10 L623.35,169.08 L624.44,169.07 L625.53,169.06 L626.62,169.06 L627.71,169.06 L628.80,169.07 L629.89,169.09 L630.98,169.11 L632.07,169.13 L633.16,169.16 L634.25,169.19 L635.34,169.23 L636.43,169.27 L637.52,169.32 L638.61,169.37 L639.70,169.42" stroke="#d62728" stroke-width="1.3" fill="none"/>
<path d="M574.30,169.80 L575.39,169.84 L576.48,169.87 L577.57,169.90 L578.66,169.93 L579.75,169.95 L580.84,169.96 L581.93,169.97 L583.02,169.97 L584.11,169.97 L585.20,169.96 L586.29,169.95 L587.38,169.93 L588.47,169.91 L589.56,169.89 L590.65,169.86 L591.74,169.82 L592.83,169.78 L593.92,169.74 L595.01,169.70 L596.10,169.66 L597.19,169.61 L598.28,169.56 L599.37,169.51 L600.46,169.47 L601.55,169.42 L602.64,169.37 L603.73,169.33 L604.82,169.29 L605.91,169.25 L607.00,169.21 L608.09,169.18 L609.18,169.15 L610.27,169.12 L611.36,169.10 L612.45,169.09 L613.54,169.08 L614.63,169.07 L615.72,169.07 L616.81,169.08 L617.90,169.09 L618.99,169.10 L620.08,169.12 L621.17,169.15 L622.26,169.18 L623.35,169.21 L624.44,169.25 L625.53,169.30 L626.62,169.34 L627.71,169.39 L628.80,169.45 L629.89,169.50 L630.98,169.56 L632.07,169.62 L633.16,169.67 L634.25,169.73 L635.34,169.79 L636.43,169.85 L637.52,169.90 L638.61,169.96 L639.70,170.01" stroke="#9467bd" stroke-width="1.3" fill="none"/>
<path d="M574.30,169.91 L575.39,169.90 L576.48,169.88 L577.57,169.86 L578.66,169.84 L579.75,169.81 L580.84,169.78 L581.93,169.74 L583.02,169.70 L584.11,169.66 L585.20,169.62 L586.29,169.57 L587.38,169.52 L588.47,169.48 L589.56,169.43 L590.65,169.39 L591.74,169.34 L592.83,169.30 L593.92,169.26 L595.01,169.22 L596.10,169.18 L597.19,169.15 L598.28,169.12 L599.37,169.10 L600.46,169.08 L601.55,169.07 L602.64,169.06 L603.73,169.05 L604.82,169.05 L605.91,169.06 L607.00,169.07 L608.09,169.09 L609.18,169.11 L610.27,169.14 L611.36,169.17 L612.45,169.21 L613.54,169.25 L614.63,169.29 L615.72,169.34 L616.81,169.39 L617.90,169.45 L618.99,169.50 L620.08,169.56 L621.17,169.62 L622.26,169.68 L623.35,169.74 L624.44,169.80 L625.53,169.86 L626.62,169.91 L627.71,169.97 L628.80,170.02 L629.89,170.07 L630.98,170.12 L632.07,170.16 L633.16,170.20 L634.25,170.23 L635.34,170.26 L636.43,170.29 L637.52,170.31 L638.61,170.32 L639.70,170.33" stroke="#8c564b" stroke-width="1.3" fill="none"/>
<line x1="574.30" y1="169.40" x2="639.70" y2="169.40" stroke="#000" stroke-width="1.2"/>
<rect x="576.00" y="221.00" width="65.30" height="11.60" fill="#f5aadc"/>
<text x="608.6" y="230.50" font-size="9.2" text-anchor="middle" stroke="#000" stroke-width="0.15" transform="translate(608.6 230.50) scale(1 1.1) translate(-608.6 -230.50)">K<tspan dy="2.4" font-size="6.6">D</tspan><tspan dy="-2.4">: n.d.</tspan></text>
<line x1="574.30" y1="292.00" x2="574.30" y2="238.80" stroke="#222" stroke-width="1.1"/>
<line x1="574.30" y1="292.00" x2="639.70" y2="292.00" stroke="#222" stroke-width="1.1"/>
<line x1="569.70" y1="292.00" x2="574.30" y2="292.00" stroke="#222" stroke-width="1"/>
<text x="564.10" y="294.70" font-size="7.4" text-anchor="end" fill="#111" stroke="#111" stroke-width="0.18" transform="translate(564.10 294.70) scale(1 1.12) translate(-564.10 -294.70)">0.0</text>
<line x1="569.70" y1="278.70" x2="574.30" y2="278.70" stroke="#222" stroke-width="1"/>
<text x="564.10" y="281.40" font-size="7.4" text-anchor="end" fill="#111" stroke="#111" stroke-width="0.18" transform="translate(564.10 281.40) scale(1 1.12) translate(-564.10 -281.40)">0.1</text>
<line x1="569.70" y1="265.40" x2="574.30" y2="265.40" stroke="#222" stroke-width="1"/>
<text x="564.10" y="268.10" font-size="7.4" text-anchor="end" fill="#111" stroke="#111" stroke-width="0.18" transform="translate(564.10 268.10) scale(1 1.12) translate(-564.10 -268.10)">0.2</text>
<line x1="569.70" y1="252.10" x2="574.30" y2="252.10" stroke="#222" stroke-width="1"/>
<text x="564.10" y="254.80" font-size="7.4" text-anchor="end" fill="#111" stroke="#111" stroke-width="0.18" transform="translate(564.10 254.80) scale(1 1.12) translate(-564.10 -254.80)">0.3</text>
<line x1="569.70" y1="238.80" x2="574.30" y2="238.80" stroke="#222" stroke-width="1"/>
<text x="564.10" y="241.50" font-size="7.4" text-anchor="end" fill="#111" stroke="#111" stroke-width="0.18" transform="translate(564.10 241.50) scale(1 1.12) translate(-564.10 -241.50)">0.4</text>
<line x1="574.30" y1="292.00" x2="574.30" y2="296.30" stroke="#222" stroke-width="1.2"/>
<text x="574.30" y="307.20" font-size="7.5" text-anchor="middle" fill="#111" stroke="#111" stroke-width="0.18" transform="translate(574.30 307.20) scale(1 1.12) translate(-574.30 -307.20)">0</text>
<line x1="607.00" y1="292.00" x2="607.00" y2="296.30" stroke="#222" stroke-width="1.2"/>
<text x="607.00" y="307.20" font-size="7.5" text-anchor="middle" fill="#111" stroke="#111" stroke-width="0.18" transform="translate(607.00 307.20) scale(1 1.12) translate(-607.00 -307.20)">180</text>
<line x1="639.70" y1="292.00" x2="639.70" y2="296.30" stroke="#222" stroke-width="1.2"/>
<text x="639.70" y="307.20" font-size="7.5" text-anchor="middle" fill="#111" stroke="#111" stroke-width="0.18" transform="translate(639.70 307.20) scale(1 1.12) translate(-639.70 -307.20)">360</text>
<text x="607.00" y="320.00" font-size="8" text-anchor="middle" fill="#111" stroke="#111" stroke-width="0.18" transform="translate(607.00 320.00) scale(1 1.12) translate(-607.00 -320.00)">Time (s)</text>
<text x="546.20" y="265.00" font-size="8.15" text-anchor="middle" fill="#111" stroke="#111" stroke-width="0.18" transform="rotate(-90 546.20 265.00) translate(546.20 265.00) scale(1 1.12) translate(-546.20 -265.00)">Response (nm)</text>
<text x="535.00" y="271.30" font-size="12.7" text-anchor="middle" font-weight="bold" fill="#f7a6d6" transform="rotate(-90 535.00 271.30) translate(535.00 271.30) scale(1 1.04) translate(-535.00 -271.30)">LMIV230-02</text>
<line x1="644.60" y1="238.80" x2="651.00" y2="238.80" stroke="#1f77b4" stroke-width="2.0"/>
<text x="653.3" y="241.60" font-size="7.9" letter-spacing="0.15" fill="#222" stroke="#222" stroke-width="0.15">5.0×10<tspan dy="-3" font-size="5">−7</tspan></text>
<line x1="644.60" y1="249.25" x2="651.00" y2="249.25" stroke="#ff7f0e" stroke-width="2.0"/>
<text x="653.3" y="252.05" font-size="7.9" letter-spacing="0.15" fill="#222" stroke="#222" stroke-width="0.15">2.5×10<tspan dy="-3" font-size="5">−7</tspan></text>
<line x1="644.60" y1="259.70" x2="651.00" y2="259.70" stroke="#2ca02c" stroke-width="2.0"/>
<text x="653.3" y="262.50" font-size="7.9" letter-spacing="0.15" fill="#222" stroke="#222" stroke-width="0.15">1.2×10<tspan dy="-3" font-size="5">−7</tspan></text>
<line x1="644.60" y1="270.15" x2="651.00" y2="270.15" stroke="#d62728" stroke-width="2.0"/>
<text x="653.3" y="272.95" font-size="7.9" letter-spacing="0.15" fill="#222" stroke="#222" stroke-width="0.15">6.2×10<tspan dy="-3" font-size="5">−8</tspan></text>
<line x1="644.60" y1="280.60" x2="651.00" y2="280.60" stroke="#9467bd" stroke-width="2.0"/>
<text x="653.3" y="283.40" font-size="7.9" letter-spacing="0.15" fill="#222" stroke="#222" stroke-width="0.15">3.1×10<tspan dy="-3" font-size="5">−8</tspan></text>
<line x1="644.60" y1="291.05" x2="651.00" y2="291.05" stroke="#8c564b" stroke-width="2.0"/>
<text x="653.3" y="293.85" font-size="7.9" letter-spacing="0.15" fill="#222" stroke="#222" stroke-width="0.15">1.6×10<tspan dy="-3" font-size="5">−8</tspan></text>
<path d="M574.30,292.00 L575.39,292.10 L576.48,292.22 L577.57,292.34 L578.66,292.46 L579.75,292.59 L580.84,292.72 L581.93,292.86 L583.02,292.99 L584.11,293.13 L585.20,293.27 L586.29,293.41 L587.38,293.55 L588.47,293.70 L589.56,293.84 L590.65,293.99 L591.74,294.13 L592.83,294.28 L593.92,294.43 L595.01,294.58 L596.10,294.72 L597.19,294.87 L598.28,295.03 L599.37,295.18 L600.46,295.33 L601.55,295.48 L602.64,295.64 L603.73,295.79 L604.82,295.94 L605.91,296.10 L607.00,296.26 L608.09,296.30 L609.18,296.35 L610.27,296.40 L611.36,296.45 L612.45,296.50 L613.54,296.55 L614.63,296.60 L615.72,296.65 L616.81,296.69 L617.90,296.74 L618.99,296.79 L620.08,296.84 L621.17,296.89 L622.26,296.94 L623.35,296.99 L624.44,297.04 L625.53,297.09 L626.62,297.13 L627.71,297.18 L628.80,297.23 L629.89,297.28 L630.98,297.33 L632.07,297.38 L633.16,297.43 L634.25,297.48 L635.34,297.52 L636.43,297.57 L637.52,297.62 L638.61,297.67 L639.70,297.72" stroke="#ff7f0e" stroke-width="1.6" fill="none"/>
<path d="M574.30,292.00 L575.39,292.09 L576.48,292.19 L577.57,292.30 L578.66,292.41 L579.75,292.52 L580.84,292.63 L581.93,292.75 L583.02,292.87 L584.11,292.99 L585.20,293.11 L586.29,293.24 L587.38,293.36 L588.47,293.48 L589.56,293.61 L590.65,293.74 L591.74,293.87 L592.83,293.99 L593.92,294.12 L595.01,294.25 L596.10,294.38 L597.19,294.52 L598.28,294.65 L599.37,294.78 L600.46,294.91 L601.55,295.05 L602.64,295.18 L603.73,295.32 L604.82,295.45 L605.91,295.59 L607.00,295.72 L608.09,295.76 L609.18,295.79 L610.27,295.83 L611.36,295.87 L612.45,295.90 L613.54,295.94 L614.63,295.97 L615.72,296.01 L616.81,296.04 L617.90,296.08 L618.99,296.11 L620.08,296.15 L621.17,296.19 L622.26,296.22 L623.35,296.26 L624.44,296.29 L625.53,296.33 L626.62,296.36 L627.71,296.40 L628.80,296.43 L629.89,296.47 L630.98,296.50 L632.07,296.54 L633.16,296.58 L634.25,296.61 L635.34,296.65 L636.43,296.68 L637.52,296.72 L638.61,296.75 L639.70,296.79" stroke="#8c564b" stroke-width="1.6" fill="none"/>
<path d="M574.30,292.00 L575.39,292.08 L576.48,292.16 L577.57,292.25 L578.66,292.35 L579.75,292.44 L580.84,292.54 L581.93,292.64 L583.02,292.75 L584.11,292.85 L585.20,292.95 L586.29,293.06 L587.38,293.17 L588.47,293.27 L589.56,293.38 L590.65,293.49 L591.74,293.60 L592.83,293.71 L593.92,293.82 L595.01,293.93 L596.10,294.04 L597.19,294.16 L598.28,294.27 L599.37,294.38 L600.46,294.50 L601.55,294.61 L602.64,294.73 L603.73,294.84 L604.82,294.96 L605.91,295.08 L607.00,295.19 L608.09,295.22 L609.18,295.25 L610.27,295.29 L611.36,295.32 L612.45,295.35 L613.54,295.38 L614.63,295.41 L615.72,295.44 L616.81,295.47 L617.90,295.50 L618.99,295.53 L620.08,295.56 L621.17,295.60 L622.26,295.63 L623.35,295.66 L624.44,295.69 L625.53,295.72 L626.62,295.75 L627.71,295.78 L628.80,295.81 L629.89,295.84 L630.98,295.87 L632.07,295.91 L633.16,295.94 L634.25,295.97 L635.34,296.00 L636.43,296.03 L637.52,296.06 L638.61,296.09 L639.70,296.12" stroke="#d62728" stroke-width="1.6" fill="none"/>
<path d="M574.30,292.00 L575.39,292.06 L576.48,292.12 L577.57,292.19 L578.66,292.26 L579.75,292.33 L580.84,292.41 L581.93,292.48 L583.02,292.56 L584.11,292.64 L585.20,292.71 L586.29,292.79 L587.38,292.87 L588.47,292.95 L589.56,293.04 L590.65,293.12 L591.74,293.20 L592.83,293.28 L593.92,293.36 L595.01,293.45 L596.10,293.53 L597.19,293.62 L598.28,293.70 L599.37,293.79 L600.46,293.87 L601.55,293.96 L602.64,294.05 L603.73,294.13 L604.82,294.22 L605.91,294.31 L607.00,294.39 L608.09,294.42 L609.18,294.45 L610.27,294.47 L611.36,294.50 L612.45,294.53 L613.54,294.55 L614.63,294.58 L615.72,294.61 L616.81,294.63 L617.90,294.66 L618.99,294.69 L620.08,294.71 L621.17,294.74 L622.26,294.77 L623.35,294.79 L624.44,294.82 L625.53,294.85 L626.62,294.87 L627.71,294.90 L628.80,294.93 L629.89,294.95 L630.98,294.98 L632.07,295.01 L633.16,295.03 L634.25,295.06 L635.34,295.09 L636.43,295.11 L637.52,295.14 L638.61,295.17 L639.70,295.19" stroke="#2ca02c" stroke-width="1.6" fill="none"/>
<path d="M574.30,292.00 L575.39,292.03 L576.48,292.07 L577.57,292.11 L578.66,292.14 L579.75,292.19 L580.84,292.23 L581.93,292.27 L583.02,292.31 L584.11,292.35 L585.20,292.40 L586.29,292.44 L587.38,292.49 L588.47,292.53 L589.56,292.58 L590.65,292.62 L591.74,292.67 L592.83,292.71 L593.92,292.76 L595.01,292.80 L596.10,292.85 L597.19,292.90 L598.28,292.95 L599.37,292.99 L600.46,293.04 L601.55,293.09 L602.64,293.14 L603.73,293.18 L604.82,293.23 L605.91,293.28 L607.00,293.33 L608.09,293.36 L609.18,293.38 L610.27,293.41 L611.36,293.44 L612.45,293.46 L613.54,293.49 L614.63,293.52 L615.72,293.54 L616.81,293.57 L617.90,293.60 L618.99,293.62 L620.08,293.65 L621.17,293.68 L622.26,293.70 L623.35,293.73 L624.44,293.76 L625.53,293.78 L626.62,293.81 L627.71,293.84 L628.80,293.86 L629.89,293.89 L630.98,293.92 L632.07,293.94 L633.16,293.97 L634.25,294.00 L635.34,294.02 L636.43,294.05 L637.52,294.07 L638.61,294.10 L639.70,294.13" stroke="#1f77b4" stroke-width="1.6" fill="none"/>
<path d="M574.30,292.00 L575.39,292.02 L576.48,292.03 L577.57,292.05 L578.66,292.07 L579.75,292.09 L580.84,292.11 L581.93,292.13 L583.02,292.16 L584.11,292.18 L585.20,292.20 L586.29,292.22 L587.38,292.24 L588.47,292.27 L589.56,292.29 L590.65,292.31 L591.74,292.33 L592.83,292.36 L593.92,292.38 L595.01,292.40 L596.10,292.43 L597.19,292.45 L598.28,292.47 L599.37,292.50 L600.46,292.52 L601.55,292.54 L602.64,292.57 L603.73,292.59 L604.82,292.62 L605.91,292.64 L607.00,292.67 L608.09,292.68 L609.18,292.69 L610.27,292.70 L611.36,292.72 L612.45,292.73 L613.54,292.74 L614.63,292.76 L615.72,292.77 L616.81,292.78 L617.90,292.80 L618.99,292.81 L620.08,292.82 L621.17,292.84 L622.26,292.85 L623.35,292.86 L624.44,292.88 L625.53,292.89 L626.62,292.90 L627.71,292.92 L628.80,292.93 L629.89,292.94 L630.98,292.96 L632.07,292.97 L633.16,292.98 L634.25,293.00 L635.34,293.01 L636.43,293.02 L637.52,293.04 L638.61,293.05 L639.70,293.06" stroke="#9467bd" stroke-width="1.6" fill="none"/>
<line x1="574.30" y1="292.00" x2="639.70" y2="292.00" stroke="#000" stroke-width="1.3"/>
<line x1="607.00" y1="292.00" x2="607.00" y2="296.69" stroke="#000" stroke-width="1.1"/>
<line x1="639.70" y1="292.00" x2="639.70" y2="296.69" stroke="#000" stroke-width="1.2"/>
<rect x="576.00" y="327.20" width="65.30" height="11.60" fill="#6eeba6"/>
<text x="608.6" y="336.70" font-size="9.2" text-anchor="middle" stroke="#000" stroke-width="0.15" transform="translate(608.6 336.70) scale(1 1.1) translate(-608.6 -336.70)">K<tspan dy="2.4" font-size="6.6">D</tspan><tspan dy="-2.4">: n.d.</tspan></text>
<line x1="574.30" y1="397.10" x2="574.30" y2="343.90" stroke="#222" stroke-width="1.1"/>
<line x1="574.30" y1="397.10" x2="639.70" y2="397.10" stroke="#222" stroke-width="1.1"/>
<line x1="569.70" y1="397.10" x2="574.30" y2="397.10" stroke="#222" stroke-width="1"/>
<text x="564.10" y="399.80" font-size="7.4" text-anchor="end" fill="#111" stroke="#111" stroke-width="0.18" transform="translate(564.10 399.80) scale(1 1.12) translate(-564.10 -399.80)">0.0</text>
<line x1="569.70" y1="383.80" x2="574.30" y2="383.80" stroke="#222" stroke-width="1"/>
<text x="564.10" y="386.50" font-size="7.4" text-anchor="end" fill="#111" stroke="#111" stroke-width="0.18" transform="translate(564.10 386.50) scale(1 1.12) translate(-564.10 -386.50)">0.1</text>
<line x1="569.70" y1="370.50" x2="574.30" y2="370.50" stroke="#222" stroke-width="1"/>
<text x="564.10" y="373.20" font-size="7.4" text-anchor="end" fill="#111" stroke="#111" stroke-width="0.18" transform="translate(564.10 373.20) scale(1 1.12) translate(-564.10 -373.20)">0.2</text>
<line x1="569.70" y1="357.20" x2="574.30" y2="357.20" stroke="#222" stroke-width="1"/>
<text x="564.10" y="359.90" font-size="7.4" text-anchor="end" fill="#111" stroke="#111" stroke-width="0.18" transform="translate(564.10 359.90) scale(1 1.12) translate(-564.10 -359.90)">0.3</text>
<line x1="569.70" y1="343.90" x2="574.30" y2="343.90" stroke="#222" stroke-width="1"/>
<text x="564.10" y="346.60" font-size="7.4" text-anchor="end" fill="#111" stroke="#111" stroke-width="0.18" transform="translate(564.10 346.60) scale(1 1.12) translate(-564.10 -346.60)">0.4</text>
<line x1="574.30" y1="397.10" x2="574.30" y2="401.40" stroke="#222" stroke-width="1.2"/>
<text x="574.30" y="412.30" font-size="7.5" text-anchor="middle" fill="#111" stroke="#111" stroke-width="0.18" transform="translate(574.30 412.30) scale(1 1.12) translate(-574.30 -412.30)">0</text>
<line x1="607.00" y1="397.10" x2="607.00" y2="401.40" stroke="#222" stroke-width="1.2"/>
<text x="607.00" y="412.30" font-size="7.5" text-anchor="middle" fill="#111" stroke="#111" stroke-width="0.18" transform="translate(607.00 412.30) scale(1 1.12) translate(-607.00 -412.30)">180</text>
<line x1="639.70" y1="397.10" x2="639.70" y2="401.40" stroke="#222" stroke-width="1.2"/>
<text x="639.70" y="412.30" font-size="7.5" text-anchor="middle" fill="#111" stroke="#111" stroke-width="0.18" transform="translate(639.70 412.30) scale(1 1.12) translate(-639.70 -412.30)">360</text>
<text x="607.00" y="425.10" font-size="8" text-anchor="middle" fill="#111" stroke="#111" stroke-width="0.18" transform="translate(607.00 425.10) scale(1 1.12) translate(-607.00 -425.10)">Time (s)</text>
<text x="546.20" y="370.10" font-size="8.15" text-anchor="middle" fill="#111" stroke="#111" stroke-width="0.18" transform="rotate(-90 546.20 370.10) translate(546.20 370.10) scale(1 1.12) translate(-546.20 -370.10)">Response (nm)</text>
<text x="534.50" y="367.30" font-size="12" text-anchor="middle" font-weight="bold" fill="#3ee28a" transform="rotate(-90 534.50 367.30) translate(534.50 367.30) scale(1 1.04) translate(-534.50 -367.30)">15C5</text>
<line x1="644.60" y1="343.90" x2="651.00" y2="343.90" stroke="#1f77b4" stroke-width="2.0"/>
<text x="653.3" y="346.70" font-size="7.9" letter-spacing="0.15" fill="#222" stroke="#222" stroke-width="0.15">5.0×10<tspan dy="-3" font-size="5">−7</tspan></text>
<line x1="644.60" y1="354.35" x2="651.00" y2="354.35" stroke="#ff7f0e" stroke-width="2.0"/>
<text x="653.3" y="357.15" font-size="7.9" letter-spacing="0.15" fill="#222" stroke="#222" stroke-width="0.15">2.5×10<tspan dy="-3" font-size="5">−7</tspan></text>
<line x1="644.60" y1="364.80" x2="651.00" y2="364.80" stroke="#2ca02c" stroke-width="2.0"/>
<text x="653.3" y="367.60" font-size="7.9" letter-spacing="0.15" fill="#222" stroke="#222" stroke-width="0.15">1.2×10<tspan dy="-3" font-size="5">−7</tspan></text>
<line x1="644.60" y1="375.25" x2="651.00" y2="375.25" stroke="#d62728" stroke-width="2.0"/>
<text x="653.3" y="378.05" font-size="7.9" letter-spacing="0.15" fill="#222" stroke="#222" stroke-width="0.15">6.2×10<tspan dy="-3" font-size="5">−8</tspan></text>
<line x1="644.60" y1="385.70" x2="651.00" y2="385.70" stroke="#9467bd" stroke-width="2.0"/>
<text x="653.3" y="388.50" font-size="7.9" letter-spacing="0.15" fill="#222" stroke="#222" stroke-width="0.15">3.1×10<tspan dy="-3" font-size="5">−8</tspan></text>
<line x1="644.60" y1="396.15" x2="651.00" y2="396.15" stroke="#8c564b" stroke-width="2.0"/>
<text x="653.3" y="398.95" font-size="7.9" letter-spacing="0.15" fill="#222" stroke="#222" stroke-width="0.15">1.6×10<tspan dy="-3" font-size="5">−8</tspan></text>
<path d="M574.30,397.10 L575.39,397.41 L576.48,397.66 L577.57,397.89 L578.66,398.11 L579.75,398.32 L580.84,398.52 L581.93,398.72 L583.02,398.92 L584.11,399.11 L585.20,399.30 L586.29,399.48 L587.38,399.66 L588.47,399.84 L589.56,400.02 L590.65,400.20 L591.74,400.37 L592.83,400.55 L593.92,400.72 L595.01,400.89 L596.10,401.06 L597.19,401.23 L598.28,401.39 L599.37,401.56 L600.46,401.72 L601.55,401.88 L602.64,402.05 L603.73,402.21 L604.82,402.37 L605.91,402.53 L607.00,402.69 L608.09,402.70 L609.18,402.72 L610.27,402.74 L611.36,402.76 L612.45,402.77 L613.54,402.79 L614.63,402.81 L615.72,402.83 L616.81,402.85 L617.90,402.86 L618.99,402.88 L620.08,402.90 L621.17,402.92 L622.26,402.93 L623.35,402.95 L624.44,402.97 L625.53,402.99 L626.62,403.01 L627.71,403.02 L628.80,403.04 L629.89,403.06 L630.98,403.08 L632.07,403.09 L633.16,403.11 L634.25,403.13 L635.34,403.15 L636.43,403.16 L637.52,403.18 L638.61,403.20 L639.70,403.22" stroke="#ff7f0e" stroke-width="1.6" fill="none"/>
<path d="M574.30,397.10 L575.39,397.35 L576.48,397.55 L577.57,397.74 L578.66,397.92 L579.75,398.09 L580.84,398.25 L581.93,398.41 L583.02,398.57 L584.11,398.73 L585.20,398.88 L586.29,399.03 L587.38,399.18 L588.47,399.32 L589.56,399.47 L590.65,399.61 L591.74,399.75 L592.83,399.89 L593.92,400.03 L595.01,400.17 L596.10,400.30 L597.19,400.44 L598.28,400.57 L599.37,400.71 L600.46,400.84 L601.55,400.97 L602.64,401.10 L603.73,401.23 L604.82,401.36 L605.91,401.49 L607.00,401.62 L608.09,401.64 L609.18,401.66 L610.27,401.68 L611.36,401.69 L612.45,401.71 L613.54,401.73 L614.63,401.75 L615.72,401.76 L616.81,401.78 L617.90,401.80 L618.99,401.82 L620.08,401.83 L621.17,401.85 L622.26,401.87 L623.35,401.89 L624.44,401.91 L625.53,401.92 L626.62,401.94 L627.71,401.96 L628.80,401.98 L629.89,401.99 L630.98,402.01 L632.07,402.03 L633.16,402.05 L634.25,402.07 L635.34,402.08 L636.43,402.10 L637.52,402.12 L638.61,402.14 L639.70,402.15" stroke="#8c564b" stroke-width="1.6" fill="none"/>
<path d="M574.30,397.10 L575.39,397.31 L576.48,397.47 L577.57,397.63 L578.66,397.77 L579.75,397.91 L580.84,398.05 L581.93,398.18 L583.02,398.31 L584.11,398.44 L585.20,398.56 L586.29,398.69 L587.38,398.81 L588.47,398.93 L589.56,399.05 L590.65,399.17 L591.74,399.28 L592.83,399.40 L593.92,399.51 L595.01,399.63 L596.10,399.74 L597.19,399.85 L598.28,399.96 L599.37,400.07 L600.46,400.18 L601.55,400.29 L602.64,400.40 L603.73,400.50 L604.82,400.61 L605.91,400.72 L607.00,400.82 L608.09,400.84 L609.18,400.86 L610.27,400.88 L611.36,400.89 L612.45,400.91 L613.54,400.93 L614.63,400.95 L615.72,400.97 L616.81,400.98 L617.90,401.00 L618.99,401.02 L620.08,401.04 L621.17,401.05 L622.26,401.07 L623.35,401.09 L624.44,401.11 L625.53,401.13 L626.62,401.14 L627.71,401.16 L628.80,401.18 L629.89,401.20 L630.98,401.21 L632.07,401.23 L633.16,401.25 L634.25,401.27 L635.34,401.29 L636.43,401.30 L637.52,401.32 L638.61,401.34 L639.70,401.36" stroke="#d62728" stroke-width="1.6" fill="none"/>
<path d="M574.30,397.10 L575.39,397.26 L576.48,397.39 L577.57,397.51 L578.66,397.63 L579.75,397.74 L580.84,397.84 L581.93,397.95 L583.02,398.05 L584.11,398.15 L585.20,398.25 L586.29,398.35 L587.38,398.44 L588.47,398.54 L589.56,398.63 L590.65,398.72 L591.74,398.81 L592.83,398.91 L593.92,399.00 L595.01,399.08 L596.10,399.17 L597.19,399.26 L598.28,399.35 L599.37,399.43 L600.46,399.52 L601.55,399.61 L602.64,399.69 L603.73,399.78 L604.82,399.86 L605.91,399.94 L607.00,400.03 L608.09,400.04 L609.18,400.06 L610.27,400.08 L611.36,400.10 L612.45,400.11 L613.54,400.13 L614.63,400.15 L615.72,400.17 L616.81,400.19 L617.90,400.20 L618.99,400.22 L620.08,400.24 L621.17,400.26 L622.26,400.27 L623.35,400.29 L624.44,400.31 L625.53,400.33 L626.62,400.35 L627.71,400.36 L628.80,400.38 L629.89,400.40 L630.98,400.42 L632.07,400.43 L633.16,400.45 L634.25,400.47 L635.34,400.49 L636.43,400.50 L637.52,400.52 L638.61,400.54 L639.70,400.56" stroke="#2ca02c" stroke-width="1.6" fill="none"/>
<path d="M574.30,397.10 L575.39,397.19 L576.48,397.26 L577.57,397.33 L578.66,397.39 L579.75,397.45 L580.84,397.51 L581.93,397.56 L583.02,397.62 L584.11,397.67 L585.20,397.73 L586.29,397.78 L587.38,397.83 L588.47,397.88 L589.56,397.94 L590.65,397.99 L591.74,398.04 L592.83,398.08 L593.92,398.13 L595.01,398.18 L596.10,398.23 L597.19,398.28 L598.28,398.33 L599.37,398.37 L600.46,398.42 L601.55,398.47 L602.64,398.51 L603.73,398.56 L604.82,398.61 L605.91,398.65 L607.00,398.70 L608.09,398.71 L609.18,398.73 L610.27,398.75 L611.36,398.77 L612.45,398.78 L613.54,398.80 L614.63,398.82 L615.72,398.84 L616.81,398.86 L617.90,398.87 L618.99,398.89 L620.08,398.91 L621.17,398.93 L622.26,398.94 L623.35,398.96 L624.44,398.98 L625.53,399.00 L626.62,399.02 L627.71,399.03 L628.80,399.05 L629.89,399.07 L630.98,399.09 L632.07,399.10 L633.16,399.12 L634.25,399.14 L635.34,399.16 L636.43,399.17 L637.52,399.19 L638.61,399.21 L639.70,399.23" stroke="#1f77b4" stroke-width="1.6" fill="none"/>
<path d="M574.30,397.10 L575.39,397.13 L576.48,397.15 L577.57,397.18 L578.66,397.20 L579.75,397.22 L580.84,397.24 L581.93,397.25 L583.02,397.27 L584.11,397.29 L585.20,397.31 L586.29,397.33 L587.38,397.34 L588.47,397.36 L589.56,397.38 L590.65,397.40 L591.74,397.41 L592.83,397.43 L593.92,397.44 L595.01,397.46 L596.10,397.48 L597.19,397.49 L598.28,397.51 L599.37,397.52 L600.46,397.54 L601.55,397.56 L602.64,397.57 L603.73,397.59 L604.82,397.60 L605.91,397.62 L607.00,397.63 L608.09,397.65 L609.18,397.67 L610.27,397.69 L611.36,397.70 L612.45,397.72 L613.54,397.74 L614.63,397.76 L615.72,397.77 L616.81,397.79 L617.90,397.81 L618.99,397.83 L620.08,397.84 L621.17,397.86 L622.26,397.88 L623.35,397.90 L624.44,397.92 L625.53,397.93 L626.62,397.95 L627.71,397.97 L628.80,397.99 L629.89,398.00 L630.98,398.02 L632.07,398.04 L633.16,398.06 L634.25,398.08 L635.34,398.09 L636.43,398.11 L637.52,398.13 L638.61,398.15 L639.70,398.16" stroke="#9467bd" stroke-width="1.6" fill="none"/>
<line x1="574.30" y1="397.10" x2="639.70" y2="397.10" stroke="#000" stroke-width="1.3"/>
<line x1="607.00" y1="397.10" x2="607.00" y2="402.12" stroke="#000" stroke-width="1.1"/>
<line x1="639.70" y1="397.10" x2="639.70" y2="402.12" stroke="#000" stroke-width="1.2"/>
<path d="M73.00,295.70 L86.00,313.50 L88.50,301.50 Z" stroke="#a2a2a2" stroke-width="0.6" fill="#e2e2e2" stroke-linejoin="round"/>
<path d="M92.40,287.60 L102.10,284.30 L98.90,305.40 Z" stroke="#a2a2a2" stroke-width="0.6" fill="#e2e2e2" stroke-linejoin="round"/>
<path d="M84.00,300.00 L95.00,293.00 L93.00,312.00 Z" stroke="#a2a2a2" stroke-width="0.6" fill="#e2e2e2" stroke-linejoin="round"/>
<path d="M94.90,261.94 L91.92,299.75 L91.12,299.69 L92.40,303.80 L94.31,299.94 L93.51,299.88 L96.50,262.06 Z" stroke="#a2a2a2" stroke-width="0.6" fill="#e2e2e2" stroke-linejoin="round"/>
<path d="M99.74,261.76 L88.06,298.05 L87.30,297.80 L87.60,302.10 L90.35,298.78 L89.59,298.54 L101.26,262.24 Z" stroke="#a2a2a2" stroke-width="0.6" fill="#e2e2e2" stroke-linejoin="round"/>
<path d="M105.22,267.56 L87.07,299.87 L86.38,299.48 L85.90,303.80 L89.34,301.14 L88.64,300.75 L106.78,268.44 Z" stroke="#a2a2a2" stroke-width="0.6" fill="#e2e2e2" stroke-linejoin="round"/>
<path d="M109.24,269.52 L92.17,296.64 L91.49,296.21 L90.80,300.50 L94.37,298.02 L93.69,297.59 L110.76,270.48 Z" stroke="#a2a2a2" stroke-width="0.6" fill="#e2e2e2" stroke-linejoin="round"/>
<path d="M130.33,286.67 L115.57,317.07 L114.76,316.68 L114.50,321.00 L117.73,318.12 L116.92,317.73 L131.67,287.33 Z" stroke="#a2a2a2" stroke-width="0.6" fill="#e2e2e2" stroke-linejoin="round"/>
<path d="M126.91,285.73 L113.56,315.09 L112.84,314.76 L112.50,319.00 L115.48,315.96 L114.75,315.63 L128.09,286.27 Z" stroke="#a2a2a2" stroke-width="0.6" fill="#e2e2e2" stroke-linejoin="round"/>
<path d="M47.84,357.19 L105.85,361.50 L105.72,363.29 L110.00,359.60 L106.31,355.32 L106.17,357.11 L48.16,352.81 Z" stroke="#a2a2a2" stroke-width="0.6" fill="#e2e2e2" stroke-linejoin="round"/>
<path d="M50.15,367.39 L95.17,363.90 L95.31,365.70 L99.00,361.60 L94.72,358.12 L94.86,359.92 L49.85,363.41 Z" stroke="#a2a2a2" stroke-width="0.6" fill="#e2e2e2" stroke-linejoin="round"/>
<path d="M56.40,375.36 L78.43,369.66 L78.78,371.02 L82.00,367.50 L77.48,365.98 L77.83,367.34 L55.80,373.04 Z" stroke="#a2a2a2" stroke-width="0.6" fill="#e2e2e2" stroke-linejoin="round"/>
<path d="M73.32,392.74 L101.70,379.44 L102.46,381.07 L104.60,376.20 L99.49,374.73 L100.26,376.36 L71.88,389.66 Z" stroke="#a2a2a2" stroke-width="0.6" fill="#e2e2e2" stroke-linejoin="round"/>
<path d="M64.59,397.92 L94.90,387.52 L95.42,389.03 L98.20,384.80 L93.41,383.17 L93.93,384.68 L63.61,395.08 Z" stroke="#a2a2a2" stroke-width="0.6" fill="#e2e2e2" stroke-linejoin="round"/>
<path d="M49.59,403.04 L69.18,396.85 L69.60,398.18 L72.60,394.40 L67.97,393.03 L68.39,394.37 L48.81,400.56 Z" stroke="#a2a2a2" stroke-width="0.6" fill="#e2e2e2" stroke-linejoin="round"/>
<path d="M61.95,395.70 L111.25,397.64 L111.20,398.94 L115.30,396.50 L111.41,393.74 L111.35,395.04 L62.05,393.10 Z" stroke="#a2a2a2" stroke-width="0.6" fill="#e2e2e2" stroke-linejoin="round"/>
<path d="M82.93,392.27 L86.96,408.39 L85.99,408.63 L89.00,412.00 L90.07,407.61 L89.10,407.85 L85.07,391.73 Z" stroke="#a2a2a2" stroke-width="0.6" fill="#e2e2e2" stroke-linejoin="round"/>
<path d="M112.80,231.30 C113.03,230.37 113.28,227.10 114.20,225.70 C115.12,224.30 116.68,223.13 118.30,222.90 C119.92,222.67 122.62,223.25 123.90,224.30 C125.18,225.35 126.00,227.68 126.00,229.20 C126.00,230.72 125.18,232.37 123.90,233.40 C122.62,234.43 119.68,234.60 118.30,235.40 C116.92,236.20 115.83,236.92 115.60,238.20 C115.37,239.48 115.98,241.82 116.90,243.10 C117.82,244.38 119.70,244.40 121.10,245.90 C122.50,247.40 124.60,251.07 125.30,252.10" stroke="#a9a9a9" stroke-width="2.2" fill="none" stroke-linecap="round" stroke-linejoin="round"/>
<path d="M112.80,231.30 C113.03,230.37 113.28,227.10 114.20,225.70 C115.12,224.30 116.68,223.13 118.30,222.90 C119.92,222.67 122.62,223.25 123.90,224.30 C125.18,225.35 126.00,227.68 126.00,229.20 C126.00,230.72 125.18,232.37 123.90,233.40 C122.62,234.43 119.68,234.60 118.30,235.40 C116.92,236.20 115.83,236.92 115.60,238.20 C115.37,239.48 115.98,241.82 116.90,243.10 C117.82,244.38 119.70,244.40 121.10,245.90 C122.50,247.40 124.60,251.07 125.30,252.10" stroke="#eeeeee" stroke-width="0.8999999999999999" fill="none" stroke-linecap="round" stroke-linejoin="round"/>
<path d="M96.80,266.00 C96.80,263.45 96.68,255.33 96.80,250.70 C96.92,246.07 96.68,241.08 97.50,238.20 C98.32,235.32 100.08,234.32 101.70,233.40 C103.32,232.48 105.82,232.13 107.20,232.70 C108.58,233.27 109.30,235.42 110.00,236.80 C110.70,238.18 110.47,240.07 111.40,241.00 C112.33,241.93 114.45,241.70 115.60,242.40 C116.75,243.10 117.85,244.73 118.30,245.20" stroke="#a9a9a9" stroke-width="2.2" fill="none" stroke-linecap="round" stroke-linejoin="round"/>
<path d="M96.80,266.00 C96.80,263.45 96.68,255.33 96.80,250.70 C96.92,246.07 96.68,241.08 97.50,238.20 C98.32,235.32 100.08,234.32 101.70,233.40 C103.32,232.48 105.82,232.13 107.20,232.70 C108.58,233.27 109.30,235.42 110.00,236.80 C110.70,238.18 110.47,240.07 111.40,241.00 C112.33,241.93 114.45,241.70 115.60,242.40 C116.75,243.10 117.85,244.73 118.30,245.20" stroke="#eeeeee" stroke-width="0.8999999999999999" fill="none" stroke-linecap="round" stroke-linejoin="round"/>
<path d="M101.70,275.70 C102.38,272.70 104.65,261.63 105.80,257.70 C106.95,253.77 109.05,252.80 108.60,252.10 C108.15,251.40 104.25,253.97 103.10,253.50 C101.95,253.03 101.02,250.33 101.70,249.30 C102.38,248.27 105.35,247.53 107.20,247.30 C109.05,247.07 112.33,247.10 112.80,247.90 C113.27,248.70 110.97,249.75 110.00,252.10 C109.03,254.45 108.00,258.68 107.00,262.00 C106.00,265.32 104.50,270.33 104.00,272.00" stroke="#a9a9a9" stroke-width="2.2" fill="none" stroke-linecap="round" stroke-linejoin="round"/>
<path d="M101.70,275.70 C102.38,272.70 104.65,261.63 105.80,257.70 C106.95,253.77 109.05,252.80 108.60,252.10 C108.15,251.40 104.25,253.97 103.10,253.50 C101.95,253.03 101.02,250.33 101.70,249.30 C102.38,248.27 105.35,247.53 107.20,247.30 C109.05,247.07 112.33,247.10 112.80,247.90 C113.27,248.70 110.97,249.75 110.00,252.10 C109.03,254.45 108.00,258.68 107.00,262.00 C106.00,265.32 104.50,270.33 104.00,272.00" stroke="#eeeeee" stroke-width="0.8999999999999999" fill="none" stroke-linecap="round" stroke-linejoin="round"/>
<path d="M110.00,241.00 C110.12,241.82 110.23,244.75 110.70,245.90 C111.17,247.05 112.45,247.57 112.80,247.90" stroke="#a9a9a9" stroke-width="2.2" fill="none" stroke-linecap="round" stroke-linejoin="round"/>
<path d="M110.00,241.00 C110.12,241.82 110.23,244.75 110.70,245.90 C111.17,247.05 112.45,247.57 112.80,247.90" stroke="#eeeeee" stroke-width="0.8999999999999999" fill="none" stroke-linecap="round" stroke-linejoin="round"/>
<path d="M114.20,260.40 C114.43,259.48 114.92,256.28 115.60,254.90 C116.28,253.52 117.15,252.57 118.30,252.10 C119.45,251.63 121.33,251.40 122.50,252.10 C123.67,252.80 124.15,257.00 125.30,256.30 C126.45,255.60 128.25,249.75 129.40,247.90 C130.55,246.05 130.80,245.65 132.20,245.20 C133.60,244.75 135.95,244.75 137.80,245.20 C139.65,245.65 142.15,246.28 143.30,247.90 C144.45,249.52 144.70,252.58 144.70,254.90 C144.70,257.22 143.65,259.72 143.30,261.80 C142.95,263.88 142.72,266.47 142.60,267.40" stroke="#a9a9a9" stroke-width="2.2" fill="none" stroke-linecap="round" stroke-linejoin="round"/>
<path d="M114.20,260.40 C114.43,259.48 114.92,256.28 115.60,254.90 C116.28,253.52 117.15,252.57 118.30,252.10 C119.45,251.63 121.33,251.40 122.50,252.10 C123.67,252.80 124.15,257.00 125.30,256.30 C126.45,255.60 128.25,249.75 129.40,247.90 C130.55,246.05 130.80,245.65 132.20,245.20 C133.60,244.75 135.95,244.75 137.80,245.20 C139.65,245.65 142.15,246.28 143.30,247.90 C144.45,249.52 144.70,252.58 144.70,254.90 C144.70,257.22 143.65,259.72 143.30,261.80 C142.95,263.88 142.72,266.47 142.60,267.40" stroke="#eeeeee" stroke-width="0.8999999999999999" fill="none" stroke-linecap="round" stroke-linejoin="round"/>
<path d="M108.00,272.00 C109.27,270.53 113.65,264.43 115.60,263.20 C117.55,261.97 117.85,264.60 119.70,264.60 C121.55,264.60 124.62,263.67 126.70,263.20 C128.78,262.73 130.12,262.15 132.20,261.80 C134.28,261.45 137.35,260.87 139.20,261.10 C141.05,261.33 142.62,262.85 143.30,263.20" stroke="#a9a9a9" stroke-width="2.2" fill="none" stroke-linecap="round" stroke-linejoin="round"/>
<path d="M108.00,272.00 C109.27,270.53 113.65,264.43 115.60,263.20 C117.55,261.97 117.85,264.60 119.70,264.60 C121.55,264.60 124.62,263.67 126.70,263.20 C128.78,262.73 130.12,262.15 132.20,261.80 C134.28,261.45 137.35,260.87 139.20,261.10 C141.05,261.33 142.62,262.85 143.30,263.20" stroke="#eeeeee" stroke-width="0.8999999999999999" fill="none" stroke-linecap="round" stroke-linejoin="round"/>
<path d="M126.70,266.00 C127.15,266.93 128.48,270.22 129.40,271.60 C130.32,272.98 132.65,273.62 132.20,274.30 C131.75,274.98 128.57,274.75 126.70,275.70 C124.83,276.65 122.12,278.28 121.00,280.00 C119.88,281.72 119.17,284.50 120.00,286.00 C120.83,287.50 123.83,288.67 126.00,289.00 C128.17,289.33 131.83,288.17 133.00,288.00" stroke="#a9a9a9" stroke-width="2.2" fill="none" stroke-linecap="round" stroke-linejoin="round"/>
<path d="M126.70,266.00 C127.15,266.93 128.48,270.22 129.40,271.60 C130.32,272.98 132.65,273.62 132.20,274.30 C131.75,274.98 128.57,274.75 126.70,275.70 C124.83,276.65 122.12,278.28 121.00,280.00 C119.88,281.72 119.17,284.50 120.00,286.00 C120.83,287.50 123.83,288.67 126.00,289.00 C128.17,289.33 131.83,288.17 133.00,288.00" stroke="#eeeeee" stroke-width="0.8999999999999999" fill="none" stroke-linecap="round" stroke-linejoin="round"/>
<path d="M76.70,248.60 C77.38,248.72 79.42,248.83 80.80,249.30 C82.18,249.77 84.77,250.70 85.00,251.40 C85.23,252.10 82.90,252.92 82.20,253.50 C81.50,254.08 81.95,254.20 80.80,254.90 C79.65,255.60 76.57,256.55 75.30,257.70 C74.03,258.85 73.43,260.42 73.20,261.80 C72.97,263.18 73.78,265.30 73.90,266.00" stroke="#a9a9a9" stroke-width="2.2" fill="none" stroke-linecap="round" stroke-linejoin="round"/>
<path d="M76.70,248.60 C77.38,248.72 79.42,248.83 80.80,249.30 C82.18,249.77 84.77,250.70 85.00,251.40 C85.23,252.10 82.90,252.92 82.20,253.50 C81.50,254.08 81.95,254.20 80.80,254.90 C79.65,255.60 76.57,256.55 75.30,257.70 C74.03,258.85 73.43,260.42 73.20,261.80 C72.97,263.18 73.78,265.30 73.90,266.00" stroke="#eeeeee" stroke-width="0.8999999999999999" fill="none" stroke-linecap="round" stroke-linejoin="round"/>
<path d="M83.60,252.10 C83.37,253.03 81.97,255.85 82.20,257.70 C82.43,259.55 84.07,262.05 85.00,263.20 C85.93,264.35 85.95,264.37 87.80,264.60 C89.65,264.83 94.72,264.60 96.10,264.60" stroke="#a9a9a9" stroke-width="2.2" fill="none" stroke-linecap="round" stroke-linejoin="round"/>
<path d="M83.60,252.10 C83.37,253.03 81.97,255.85 82.20,257.70 C82.43,259.55 84.07,262.05 85.00,263.20 C85.93,264.35 85.95,264.37 87.80,264.60 C89.65,264.83 94.72,264.60 96.10,264.60" stroke="#eeeeee" stroke-width="0.8999999999999999" fill="none" stroke-linecap="round" stroke-linejoin="round"/>
<path d="M73.20,273.00 C74.00,273.22 76.73,273.85 78.00,274.30 C79.27,274.75 80.97,274.92 80.80,275.70 C80.63,276.48 77.80,277.62 77.00,279.00 C76.20,280.38 75.67,282.50 76.00,284.00 C76.33,285.50 78.50,287.33 79.00,288.00" stroke="#a9a9a9" stroke-width="2.2" fill="none" stroke-linecap="round" stroke-linejoin="round"/>
<path d="M73.20,273.00 C74.00,273.22 76.73,273.85 78.00,274.30 C79.27,274.75 80.97,274.92 80.80,275.70 C80.63,276.48 77.80,277.62 77.00,279.00 C76.20,280.38 75.67,282.50 76.00,284.00 C76.33,285.50 78.50,287.33 79.00,288.00" stroke="#eeeeee" stroke-width="0.8999999999999999" fill="none" stroke-linecap="round" stroke-linejoin="round"/>
<path d="M58.00,281.00 C58.83,280.92 61.05,280.22 63.00,280.50 C64.95,280.78 68.03,281.52 69.70,282.70 C71.37,283.88 72.73,285.72 73.00,287.60 C73.27,289.48 73.47,292.65 71.30,294.00 C69.13,295.35 62.72,296.03 60.00,295.70 C57.28,295.37 55.75,293.45 55.00,292.00 C54.25,290.55 55.42,287.83 55.50,287.00" stroke="#a9a9a9" stroke-width="2.2" fill="none" stroke-linecap="round" stroke-linejoin="round"/>
<path d="M58.00,281.00 C58.83,280.92 61.05,280.22 63.00,280.50 C64.95,280.78 68.03,281.52 69.70,282.70 C71.37,283.88 72.73,285.72 73.00,287.60 C73.27,289.48 73.47,292.65 71.30,294.00 C69.13,295.35 62.72,296.03 60.00,295.70 C57.28,295.37 55.75,293.45 55.00,292.00 C54.25,290.55 55.42,287.83 55.50,287.00" stroke="#eeeeee" stroke-width="0.8999999999999999" fill="none" stroke-linecap="round" stroke-linejoin="round"/>
<path d="M92.50,303.00 C93.08,302.17 94.93,299.77 96.00,298.00 C97.07,296.23 97.07,293.33 98.90,292.40 C100.73,291.47 105.38,291.05 107.00,292.40 C108.62,293.75 109.13,297.25 108.60,300.50 C108.07,303.75 105.68,310.00 103.80,311.90 C101.92,313.80 98.38,311.90 97.30,311.90" stroke="#a9a9a9" stroke-width="2.2" fill="none" stroke-linecap="round" stroke-linejoin="round"/>
<path d="M92.50,303.00 C93.08,302.17 94.93,299.77 96.00,298.00 C97.07,296.23 97.07,293.33 98.90,292.40 C100.73,291.47 105.38,291.05 107.00,292.40 C108.62,293.75 109.13,297.25 108.60,300.50 C108.07,303.75 105.68,310.00 103.80,311.90 C101.92,313.80 98.38,311.90 97.30,311.90" stroke="#eeeeee" stroke-width="0.8999999999999999" fill="none" stroke-linecap="round" stroke-linejoin="round"/>
<path d="M76.20,324.80 C76.83,324.17 78.65,321.80 80.00,321.00 C81.35,320.20 82.50,319.90 84.30,320.00 C86.10,320.10 89.45,320.25 90.80,321.60 C92.15,322.95 92.87,326.53 92.40,328.10 C91.93,329.67 89.73,330.68 88.00,331.00 C86.27,331.32 83.00,330.17 82.00,330.00" stroke="#a9a9a9" stroke-width="2.2" fill="none" stroke-linecap="round" stroke-linejoin="round"/>
<path d="M76.20,324.80 C76.83,324.17 78.65,321.80 80.00,321.00 C81.35,320.20 82.50,319.90 84.30,320.00 C86.10,320.10 89.45,320.25 90.80,321.60 C92.15,322.95 92.87,326.53 92.40,328.10 C91.93,329.67 89.73,330.68 88.00,331.00 C86.27,331.32 83.00,330.17 82.00,330.00" stroke="#eeeeee" stroke-width="0.8999999999999999" fill="none" stroke-linecap="round" stroke-linejoin="round"/>
<path d="M71.50,322.60 C71.75,321.83 71.92,319.43 73.00,318.00 C74.08,316.57 76.17,314.75 78.00,314.00 C79.83,313.25 83.00,313.58 84.00,313.50" stroke="#a9a9a9" stroke-width="2.2" fill="none" stroke-linecap="round" stroke-linejoin="round"/>
<path d="M71.50,322.60 C71.75,321.83 71.92,319.43 73.00,318.00 C74.08,316.57 76.17,314.75 78.00,314.00 C79.83,313.25 83.00,313.58 84.00,313.50" stroke="#eeeeee" stroke-width="0.8999999999999999" fill="none" stroke-linecap="round" stroke-linejoin="round"/>
<path d="M113.50,324.80 C114.25,324.17 116.58,321.47 118.00,321.00 C119.42,320.53 120.67,322.50 122.00,322.00 C123.33,321.50 124.33,319.33 126.00,318.00 C127.67,316.67 130.00,315.33 132.00,314.00 C134.00,312.67 136.00,310.83 138.00,310.00 C140.00,309.17 142.17,308.83 144.00,309.00 C145.83,309.17 148.17,310.67 149.00,311.00" stroke="#a9a9a9" stroke-width="2.2" fill="none" stroke-linecap="round" stroke-linejoin="round"/>
<path d="M113.50,324.80 C114.25,324.17 116.58,321.47 118.00,321.00 C119.42,320.53 120.67,322.50 122.00,322.00 C123.33,321.50 124.33,319.33 126.00,318.00 C127.67,316.67 130.00,315.33 132.00,314.00 C134.00,312.67 136.00,310.83 138.00,310.00 C140.00,309.17 142.17,308.83 144.00,309.00 C145.83,309.17 148.17,310.67 149.00,311.00" stroke="#eeeeee" stroke-width="0.8999999999999999" fill="none" stroke-linecap="round" stroke-linejoin="round"/>
<path d="M119.00,307.00 C119.83,306.50 122.17,305.00 124.00,304.00 C125.83,303.00 128.17,301.33 130.00,301.00 C131.83,300.67 133.00,301.50 135.00,302.00 C137.00,302.50 140.00,304.00 142.00,304.00 C144.00,304.00 146.17,302.33 147.00,302.00" stroke="#a9a9a9" stroke-width="2.2" fill="none" stroke-linecap="round" stroke-linejoin="round"/>
<path d="M119.00,307.00 C119.83,306.50 122.17,305.00 124.00,304.00 C125.83,303.00 128.17,301.33 130.00,301.00 C131.83,300.67 133.00,301.50 135.00,302.00 C137.00,302.50 140.00,304.00 142.00,304.00 C144.00,304.00 146.17,302.33 147.00,302.00" stroke="#eeeeee" stroke-width="0.8999999999999999" fill="none" stroke-linecap="round" stroke-linejoin="round"/>
<path d="M100.00,327.00 C101.00,326.67 104.33,325.17 106.00,325.00 C107.67,324.83 108.67,325.50 110.00,326.00 C111.33,326.50 113.33,327.67 114.00,328.00" stroke="#a9a9a9" stroke-width="2.2" fill="none" stroke-linecap="round" stroke-linejoin="round"/>
<path d="M100.00,327.00 C101.00,326.67 104.33,325.17 106.00,325.00 C107.67,324.83 108.67,325.50 110.00,326.00 C111.33,326.50 113.33,327.67 114.00,328.00" stroke="#eeeeee" stroke-width="0.8999999999999999" fill="none" stroke-linecap="round" stroke-linejoin="round"/>
<path d="M65.00,300.00 C65.83,300.50 68.67,301.50 70.00,303.00 C71.33,304.50 72.17,306.83 73.00,309.00 C73.83,311.17 74.67,314.83 75.00,316.00" stroke="#a9a9a9" stroke-width="2.2" fill="none" stroke-linecap="round" stroke-linejoin="round"/>
<path d="M65.00,300.00 C65.83,300.50 68.67,301.50 70.00,303.00 C71.33,304.50 72.17,306.83 73.00,309.00 C73.83,311.17 74.67,314.83 75.00,316.00" stroke="#eeeeee" stroke-width="0.8999999999999999" fill="none" stroke-linecap="round" stroke-linejoin="round"/>
<path d="M48.00,354.00 C47.00,354.42 43.53,355.33 42.00,356.50 C40.47,357.67 39.13,359.42 38.80,361.00 C38.47,362.58 39.13,364.73 40.00,366.00 C40.87,367.27 42.33,368.52 44.00,368.60 C45.67,368.68 49.00,366.85 50.00,366.50" stroke="#a9a9a9" stroke-width="2.2" fill="none" stroke-linecap="round" stroke-linejoin="round"/>
<path d="M48.00,354.00 C47.00,354.42 43.53,355.33 42.00,356.50 C40.47,357.67 39.13,359.42 38.80,361.00 C38.47,362.58 39.13,364.73 40.00,366.00 C40.87,367.27 42.33,368.52 44.00,368.60 C45.67,368.68 49.00,366.85 50.00,366.50" stroke="#eeeeee" stroke-width="0.8999999999999999" fill="none" stroke-linecap="round" stroke-linejoin="round"/>
<path d="M38.50,382.60 C39.57,382.43 42.77,382.48 44.90,381.60 C47.03,380.72 49.17,378.37 51.30,377.30 C53.43,376.23 55.57,376.08 57.70,375.20 C59.83,374.32 61.62,372.88 64.10,372.00 C66.58,371.12 71.18,370.25 72.60,369.90" stroke="#a9a9a9" stroke-width="2.2" fill="none" stroke-linecap="round" stroke-linejoin="round"/>
<path d="M38.50,382.60 C39.57,382.43 42.77,382.48 44.90,381.60 C47.03,380.72 49.17,378.37 51.30,377.30 C53.43,376.23 55.57,376.08 57.70,375.20 C59.83,374.32 61.62,372.88 64.10,372.00 C66.58,371.12 71.18,370.25 72.60,369.90" stroke="#eeeeee" stroke-width="0.8999999999999999" fill="none" stroke-linecap="round" stroke-linejoin="round"/>
<path d="M49.00,377.50 C48.42,377.92 46.18,378.78 45.50,380.00 C44.82,381.22 43.93,383.47 44.90,384.80 C45.87,386.13 48.45,387.47 51.30,388.00 C54.15,388.53 59.22,388.17 62.00,388.00 C64.78,387.83 67.00,387.17 68.00,387.00" stroke="#a9a9a9" stroke-width="2.2" fill="none" stroke-linecap="round" stroke-linejoin="round"/>
<path d="M49.00,377.50 C48.42,377.92 46.18,378.78 45.50,380.00 C44.82,381.22 43.93,383.47 44.90,384.80 C45.87,386.13 48.45,387.47 51.30,388.00 C54.15,388.53 59.22,388.17 62.00,388.00 C64.78,387.83 67.00,387.17 68.00,387.00" stroke="#eeeeee" stroke-width="0.8999999999999999" fill="none" stroke-linecap="round" stroke-linejoin="round"/>
<path d="M38.50,393.30 C38.87,395.08 39.63,401.15 40.70,404.00 C41.77,406.85 42.77,408.98 44.90,410.40 C47.03,411.82 50.65,412.87 53.50,412.50 C56.35,412.13 59.88,410.33 62.00,408.20 C64.12,406.07 65.50,401.12 66.20,399.70" stroke="#a9a9a9" stroke-width="2.2" fill="none" stroke-linecap="round" stroke-linejoin="round"/>
<path d="M38.50,393.30 C38.87,395.08 39.63,401.15 40.70,404.00 C41.77,406.85 42.77,408.98 44.90,410.40 C47.03,411.82 50.65,412.87 53.50,412.50 C56.35,412.13 59.88,410.33 62.00,408.20 C64.12,406.07 65.50,401.12 66.20,399.70" stroke="#eeeeee" stroke-width="0.8999999999999999" fill="none" stroke-linecap="round" stroke-linejoin="round"/>
<path d="M104.50,385.30 C105.08,384.85 106.67,382.93 108.00,382.60 C109.33,382.27 111.33,382.23 112.50,383.30 C113.67,384.37 115.08,386.97 115.00,389.00 C114.92,391.03 113.42,394.25 112.00,395.50 C110.58,396.75 107.83,397.25 106.50,396.50 C105.17,395.75 103.75,392.58 104.00,391.00 C104.25,389.42 106.67,387.33 108.00,387.00 C109.33,386.67 111.33,388.67 112.00,389.00" stroke="#a9a9a9" stroke-width="2.2" fill="none" stroke-linecap="round" stroke-linejoin="round"/>
<path d="M104.50,385.30 C105.08,384.85 106.67,382.93 108.00,382.60 C109.33,382.27 111.33,382.23 112.50,383.30 C113.67,384.37 115.08,386.97 115.00,389.00 C114.92,391.03 113.42,394.25 112.00,395.50 C110.58,396.75 107.83,397.25 106.50,396.50 C105.17,395.75 103.75,392.58 104.00,391.00 C104.25,389.42 106.67,387.33 108.00,387.00 C109.33,386.67 111.33,388.67 112.00,389.00" stroke="#eeeeee" stroke-width="0.8999999999999999" fill="none" stroke-linecap="round" stroke-linejoin="round"/>
<path d="M85.40,399.70 C86.12,401.12 88.27,406.42 89.70,408.20 C91.13,409.98 93.65,408.97 94.00,410.40 C94.35,411.83 93.23,415.38 91.80,416.80 C90.37,418.22 87.53,418.90 85.40,418.90 C83.27,418.90 80.77,416.45 79.00,416.80 C77.23,417.15 74.80,419.23 74.80,421.00 C74.80,422.77 76.87,426.68 79.00,427.40 C81.13,428.12 85.27,426.37 87.60,425.30 C89.93,424.23 92.10,421.72 93.00,421.00" stroke="#a9a9a9" stroke-width="2.2" fill="none" stroke-linecap="round" stroke-linejoin="round"/>
<path d="M85.40,399.70 C86.12,401.12 88.27,406.42 89.70,408.20 C91.13,409.98 93.65,408.97 94.00,410.40 C94.35,411.83 93.23,415.38 91.80,416.80 C90.37,418.22 87.53,418.90 85.40,418.90 C83.27,418.90 80.77,416.45 79.00,416.80 C77.23,417.15 74.80,419.23 74.80,421.00 C74.80,422.77 76.87,426.68 79.00,427.40 C81.13,428.12 85.27,426.37 87.60,425.30 C89.93,424.23 92.10,421.72 93.00,421.00" stroke="#eeeeee" stroke-width="0.8999999999999999" fill="none" stroke-linecap="round" stroke-linejoin="round"/>
<path d="M108.50,359.10 C109.63,359.47 113.10,359.87 115.30,361.30 C117.50,362.73 120.28,365.57 121.70,367.70 C123.12,369.83 122.38,371.97 123.80,374.10 C125.22,376.23 128.42,379.43 130.20,380.50 C131.98,381.57 133.78,380.50 134.50,380.50" stroke="#a9a9a9" stroke-width="2.2" fill="none" stroke-linecap="round" stroke-linejoin="round"/>
<path d="M108.50,359.10 C109.63,359.47 113.10,359.87 115.30,361.30 C117.50,362.73 120.28,365.57 121.70,367.70 C123.12,369.83 122.38,371.97 123.80,374.10 C125.22,376.23 128.42,379.43 130.20,380.50 C131.98,381.57 133.78,380.50 134.50,380.50" stroke="#eeeeee" stroke-width="0.8999999999999999" fill="none" stroke-linecap="round" stroke-linejoin="round"/>
<path d="M115.30,382.60 C116.37,383.67 119.57,387.57 121.70,389.00 C123.83,390.43 126.68,391.55 128.10,391.20 C129.52,390.85 130.38,388.27 130.20,386.90 C130.02,385.53 128.37,383.98 127.00,383.00 C125.63,382.02 122.83,381.33 122.00,381.00" stroke="#a9a9a9" stroke-width="2.2" fill="none" stroke-linecap="round" stroke-linejoin="round"/>
<path d="M115.30,382.60 C116.37,383.67 119.57,387.57 121.70,389.00 C123.83,390.43 126.68,391.55 128.10,391.20 C129.52,390.85 130.38,388.27 130.20,386.90 C130.02,385.53 128.37,383.98 127.00,383.00 C125.63,382.02 122.83,381.33 122.00,381.00" stroke="#eeeeee" stroke-width="0.8999999999999999" fill="none" stroke-linecap="round" stroke-linejoin="round"/>
<path d="M113.00,396.50 C113.83,396.92 117.33,397.92 118.00,399.00 C118.67,400.08 118.33,401.83 117.00,403.00 C115.67,404.17 112.67,405.50 110.00,406.00 C107.33,406.50 103.33,406.33 101.00,406.00 C98.67,405.67 96.83,404.33 96.00,404.00" stroke="#a9a9a9" stroke-width="2.2" fill="none" stroke-linecap="round" stroke-linejoin="round"/>
<path d="M113.00,396.50 C113.83,396.92 117.33,397.92 118.00,399.00 C118.67,400.08 118.33,401.83 117.00,403.00 C115.67,404.17 112.67,405.50 110.00,406.00 C107.33,406.50 103.33,406.33 101.00,406.00 C98.67,405.67 96.83,404.33 96.00,404.00" stroke="#eeeeee" stroke-width="0.8999999999999999" fill="none" stroke-linecap="round" stroke-linejoin="round"/>
<path d="M87.60,391.20 C87.63,392.67 87.80,396.80 87.80,400.00 C87.80,403.20 87.63,408.67 87.60,410.40" stroke="#a9a9a9" stroke-width="2.2" fill="none" stroke-linecap="round" stroke-linejoin="round"/>
<path d="M87.60,391.20 C87.63,392.67 87.80,396.80 87.80,400.00 C87.80,403.20 87.63,408.67 87.60,410.40" stroke="#eeeeee" stroke-width="0.8999999999999999" fill="none" stroke-linecap="round" stroke-linejoin="round"/>
<path d="M56.10,374.20 C55.42,373.83 53.52,372.53 52.00,372.00 C50.48,371.47 48.25,371.57 47.00,371.00 C45.75,370.43 44.92,369.00 44.50,368.60" stroke="#a9a9a9" stroke-width="2.2" fill="none" stroke-linecap="round" stroke-linejoin="round"/>
<path d="M56.10,374.20 C55.42,373.83 53.52,372.53 52.00,372.00 C50.48,371.47 48.25,371.57 47.00,371.00 C45.75,370.43 44.92,369.00 44.50,368.60" stroke="#eeeeee" stroke-width="0.8999999999999999" fill="none" stroke-linecap="round" stroke-linejoin="round"/>
<path d="M40.00,389.00 C41.00,389.42 44.00,390.50 46.00,391.50 C48.00,392.50 50.00,394.08 52.00,395.00 C54.00,395.92 57.00,396.67 58.00,397.00" stroke="#a9a9a9" stroke-width="2.2" fill="none" stroke-linecap="round" stroke-linejoin="round"/>
<path d="M40.00,389.00 C41.00,389.42 44.00,390.50 46.00,391.50 C48.00,392.50 50.00,394.08 52.00,395.00 C54.00,395.92 57.00,396.67 58.00,397.00" stroke="#eeeeee" stroke-width="0.8999999999999999" fill="none" stroke-linecap="round" stroke-linejoin="round"/>
<path d="M99.00,365.00 C100.17,364.83 103.83,364.50 106.00,364.00 C108.17,363.50 111.00,362.33 112.00,362.00" stroke="#a9a9a9" stroke-width="2.2" fill="none" stroke-linecap="round" stroke-linejoin="round"/>
<path d="M99.00,365.00 C100.17,364.83 103.83,364.50 106.00,364.00 C108.17,363.50 111.00,362.33 112.00,362.00" stroke="#eeeeee" stroke-width="0.8999999999999999" fill="none" stroke-linecap="round" stroke-linejoin="round"/>
<path d="M66.20,399.70 C66.83,399.25 68.53,397.78 70.00,397.00 C71.47,396.22 74.17,395.33 75.00,395.00" stroke="#a9a9a9" stroke-width="2.2" fill="none" stroke-linecap="round" stroke-linejoin="round"/>
<path d="M66.20,399.70 C66.83,399.25 68.53,397.78 70.00,397.00 C71.47,396.22 74.17,395.33 75.00,395.00" stroke="#eeeeee" stroke-width="0.8999999999999999" fill="none" stroke-linecap="round" stroke-linejoin="round"/>
<path d="M96.00,404.00 C96.23,405.03 97.40,408.20 97.40,410.20 C97.40,412.20 96.23,415.03 96.00,416.00" stroke="#a9a9a9" stroke-width="2.2" fill="none" stroke-linecap="round" stroke-linejoin="round"/>
<path d="M96.00,404.00 C96.23,405.03 97.40,408.20 97.40,410.20 C97.40,412.20 96.23,415.03 96.00,416.00" stroke="#eeeeee" stroke-width="0.8999999999999999" fill="none" stroke-linecap="round" stroke-linejoin="round"/>
<rect x="56.00" y="353.40" width="11.00" height="4.20" fill="#e4e024"/>
<rect x="74.00" y="354.60" width="11.00" height="4.20" fill="#e4e024"/>
<rect x="91.00" y="355.60" width="10.00" height="4.20" fill="#e4e024"/>
<rect x="104.00" y="356.40" width="6.00" height="3.60" fill="#e4e024"/>
<rect x="57.00" y="362.80" width="9.00" height="3.60" fill="#e4e024"/>
<rect x="71.00" y="362.20" width="7.00" height="3.60" fill="#e4e024"/>
<rect x="81.00" y="361.40" width="9.00" height="3.60" fill="#e4e024"/>
<rect x="93.00" y="360.80" width="4.00" height="3.20" fill="#e4e024"/>
<path d="M77.00,324.00 C77.67,322.58 80.00,321.83 82.00,321.50 C84.00,321.17 87.42,321.08 89.00,322.00 C90.58,322.92 91.67,325.42 91.50,327.00 C91.33,328.58 89.58,330.58 88.00,331.50 C86.42,332.42 83.67,332.75 82.00,332.50 C80.33,332.25 78.83,331.42 78.00,330.00 C77.17,328.58 76.33,325.42 77.00,324.00 Z" stroke="#a9a9a9" stroke-width="0.8" fill="#e6e6e6"/>
<path d="M62.30,322.60 L64.00,326.70 L68.70,329.00" stroke="#2262c6" stroke-width="1.75" fill="none" stroke-linecap="round" stroke-linejoin="round"/>
<path d="M64.00,326.70 L61.50,328.00" stroke="#2262c6" stroke-width="1.75" fill="none" stroke-linecap="round" stroke-linejoin="round"/>
<path d="M71.60,324.90 L71.00,330.20 L72.80,334.90 L76.90,337.20 L80.40,338.40 L85.00,339.50 L89.70,341.90 L94.40,343.00 L99.10,342.50 L101.40,338.40 L99.10,333.70 L96.70,332.50 L95.60,334.90 L97.90,337.20 L101.40,336.00 L106.10,333.70 L110.70,331.40 L113.10,327.90 L111.90,323.20" stroke="#2262c6" stroke-width="1.75" fill="none" stroke-linecap="round" stroke-linejoin="round"/>
<path d="M74.50,339.50 L79.20,346.00" stroke="#2262c6" stroke-width="1.75" fill="none" stroke-linecap="round" stroke-linejoin="round"/>
<path d="M88.60,344.20 L87.40,346.50 L89.70,347.70" stroke="#2262c6" stroke-width="1.75" fill="none" stroke-linecap="round" stroke-linejoin="round"/>
<path d="M87.40,346.50 L82.70,352.40" stroke="#2262c6" stroke-width="1.75" fill="none" stroke-linecap="round" stroke-linejoin="round"/>
<path d="M110.70,331.40 L115.40,329.00 L117.80,326.70" stroke="#2262c6" stroke-width="1.75" fill="none" stroke-linecap="round" stroke-linejoin="round"/>
<path d="M110.70,334.90 L111.90,339.50" stroke="#2262c6" stroke-width="1.75" fill="none" stroke-linecap="round" stroke-linejoin="round"/>
<path d="M114.30,334.90 L116.60,340.10" stroke="#2262c6" stroke-width="1.75" fill="none" stroke-linecap="round" stroke-linejoin="round"/>
<path d="M85.00,339.50 L86.00,335.00 L88.00,331.00" stroke="#2262c6" stroke-width="1.75" fill="none" stroke-linecap="round" stroke-linejoin="round"/>
<path d="M94.40,343.00 L96.00,347.00" stroke="#2262c6" stroke-width="1.75" fill="none" stroke-linecap="round" stroke-linejoin="round"/>
<path d="M76.00,333.00 L80.00,331.00 L83.00,334.00" stroke="#2262c6" stroke-width="1.5" fill="none" stroke-linecap="round" stroke-linejoin="round"/>
<path d="M90.00,336.00 L93.00,338.00 L92.00,342.00" stroke="#2262c6" stroke-width="1.5" fill="none" stroke-linecap="round" stroke-linejoin="round"/>
<path d="M103.00,331.00 L105.00,327.00 L108.00,326.00" stroke="#2262c6" stroke-width="1.5" fill="none" stroke-linecap="round" stroke-linejoin="round"/>
<path d="M70.00,326.00 L68.00,322.00" stroke="#2262c6" stroke-width="1.5" fill="none" stroke-linecap="round" stroke-linejoin="round"/>
<path d="M82.00,343.00 L85.00,345.00" stroke="#2262c6" stroke-width="1.5" fill="none" stroke-linecap="round" stroke-linejoin="round"/>
<path d="M99.00,345.00 L102.00,348.00" stroke="#2262c6" stroke-width="1.5" fill="none" stroke-linecap="round" stroke-linejoin="round"/>
<path d="M106.00,337.00 L108.00,340.00" stroke="#2262c6" stroke-width="1.5" fill="none" stroke-linecap="round" stroke-linejoin="round"/>
<path d="M77.60,338.00 C78.02,337.40 79.23,336.57 80.00,336.60 C80.77,336.63 81.87,337.53 82.20,338.20 C82.53,338.87 82.43,340.03 82.00,340.60 C81.57,341.17 80.35,341.67 79.60,341.60 C78.85,341.53 77.83,340.80 77.50,340.20 C77.17,339.60 77.18,338.60 77.60,338.00 Z" stroke="#2262c6" stroke-width="1.3" fill="none"/>
<path d="M95.60,333.00 C96.02,332.30 97.17,331.80 98.00,331.80 C98.83,331.80 100.17,332.30 100.60,333.00 C101.03,333.70 101.03,335.25 100.60,336.00 C100.17,336.75 98.85,337.50 98.00,337.50 C97.15,337.50 95.90,336.75 95.50,336.00 C95.10,335.25 95.18,333.70 95.60,333.00 Z" stroke="#2262c6" stroke-width="1.3" fill="none"/>
<path d="M50.00,347.00 L54.00,346.00 L58.00,344.00 L61.00,342.00 L64.00,346.00 L67.00,349.00 L70.00,348.00 L74.00,350.00 L77.00,349.00" stroke="#c8c42a" stroke-width="1.4" fill="none" stroke-linecap="round" stroke-linejoin="round"/>
<path d="M61.00,342.00 L62.00,339.50" stroke="#c8c42a" stroke-width="1.4" fill="none" stroke-linecap="round" stroke-linejoin="round"/>
<path d="M67.00,349.00 L69.00,345.00" stroke="#c8c42a" stroke-width="1.4" fill="none" stroke-linecap="round" stroke-linejoin="round"/>
<path d="M73.00,347.00 L74.00,343.50" stroke="#c8c42a" stroke-width="1.4" fill="none" stroke-linecap="round" stroke-linejoin="round"/>
<path d="M55.00,346.00 L54.00,342.50" stroke="#c8c42a" stroke-width="1.4" fill="none" stroke-linecap="round" stroke-linejoin="round"/>
<path d="M64.00,346.00 L62.00,349.00" stroke="#c8c42a" stroke-width="1.4" fill="none" stroke-linecap="round" stroke-linejoin="round"/>
<path d="M80.00,352.00 L84.00,350.00 L88.00,349.00 L91.00,351.00 L96.00,349.00 L100.00,351.00 L104.00,349.00 L108.00,351.00 L113.00,350.00 L118.00,352.00 L124.00,353.00 L131.00,354.00 L139.00,352.00" stroke="#c8c42a" stroke-width="1.4" fill="none" stroke-linecap="round" stroke-linejoin="round"/>
<path d="M88.00,349.00 L89.00,345.00" stroke="#c8c42a" stroke-width="1.4" fill="none" stroke-linecap="round" stroke-linejoin="round"/>
<path d="M96.00,349.00 L98.00,345.00" stroke="#c8c42a" stroke-width="1.4" fill="none" stroke-linecap="round" stroke-linejoin="round"/>
<path d="M104.00,349.00 L103.00,345.00" stroke="#c8c42a" stroke-width="1.4" fill="none" stroke-linecap="round" stroke-linejoin="round"/>
<path d="M108.00,351.00 L111.00,347.00" stroke="#c8c42a" stroke-width="1.4" fill="none" stroke-linecap="round" stroke-linejoin="round"/>
<path d="M118.00,352.00 L121.00,348.00" stroke="#c8c42a" stroke-width="1.4" fill="none" stroke-linecap="round" stroke-linejoin="round"/>
<path d="M124.00,353.00 L127.00,349.00" stroke="#c8c42a" stroke-width="1.4" fill="none" stroke-linecap="round" stroke-linejoin="round"/>
<path d="M131.00,354.00 L134.00,351.00" stroke="#c8c42a" stroke-width="1.4" fill="none" stroke-linecap="round" stroke-linejoin="round"/>
<path d="M82.00,354.00 L85.00,357.00" stroke="#c8c42a" stroke-width="1.4" fill="none" stroke-linecap="round" stroke-linejoin="round"/>
<path d="M92.00,353.00 L95.00,357.00" stroke="#c8c42a" stroke-width="1.4" fill="none" stroke-linecap="round" stroke-linejoin="round"/>
<path d="M102.00,354.00 L104.00,358.00" stroke="#c8c42a" stroke-width="1.4" fill="none" stroke-linecap="round" stroke-linejoin="round"/>
<path d="M111.00,356.00 L115.00,359.00 L121.00,358.00" stroke="#c8c42a" stroke-width="1.4" fill="none" stroke-linecap="round" stroke-linejoin="round"/>
<path d="M60.00,350.00 L62.00,353.00" stroke="#c8c42a" stroke-width="1.4" fill="none" stroke-linecap="round" stroke-linejoin="round"/>
<path d="M74.00,352.00 L76.00,355.00" stroke="#c8c42a" stroke-width="1.4" fill="none" stroke-linecap="round" stroke-linejoin="round"/>
<path d="M68.00,356.00 L70.00,359.00" stroke="#c8c42a" stroke-width="1.4" fill="none" stroke-linecap="round" stroke-linejoin="round"/>
<path d="M98.00,357.00 L101.00,361.00" stroke="#c8c42a" stroke-width="1.4" fill="none" stroke-linecap="round" stroke-linejoin="round"/>
<path d="M86.00,346.00 L87.00,342.00" stroke="#c8c42a" stroke-width="1.4" fill="none" stroke-linecap="round" stroke-linejoin="round"/>
<path d="M56.00,340.00 L58.00,344.00" stroke="#c8c42a" stroke-width="1.4" fill="none" stroke-linecap="round" stroke-linejoin="round"/>
<path d="M66.00,341.00 L70.00,344.00 L72.00,341.00" stroke="#c8c42a" stroke-width="1.4" fill="none" stroke-linecap="round" stroke-linejoin="round"/>
<path d="M78.00,345.00 L82.00,348.00 L80.00,352.00" stroke="#c8c42a" stroke-width="1.4" fill="none" stroke-linecap="round" stroke-linejoin="round"/>
<path d="M84.00,343.00 L88.00,346.00" stroke="#c8c42a" stroke-width="1.4" fill="none" stroke-linecap="round" stroke-linejoin="round"/>
<path d="M92.00,345.00 L95.00,348.00 L93.00,352.00" stroke="#c8c42a" stroke-width="1.4" fill="none" stroke-linecap="round" stroke-linejoin="round"/>
<path d="M100.00,344.00 L103.00,347.00 L106.00,345.00" stroke="#c8c42a" stroke-width="1.4" fill="none" stroke-linecap="round" stroke-linejoin="round"/>
<path d="M110.00,345.00 L112.00,349.00" stroke="#c8c42a" stroke-width="1.4" fill="none" stroke-linecap="round" stroke-linejoin="round"/>
<path d="M114.00,347.00 L117.00,350.00" stroke="#c8c42a" stroke-width="1.4" fill="none" stroke-linecap="round" stroke-linejoin="round"/>
<path d="M66.00,352.00 L70.00,355.00 L74.00,353.00" stroke="#c8c42a" stroke-width="1.4" fill="none" stroke-linecap="round" stroke-linejoin="round"/>
<path d="M86.00,356.00 L90.00,359.00 L94.00,358.00" stroke="#c8c42a" stroke-width="1.4" fill="none" stroke-linecap="round" stroke-linejoin="round"/>
<path d="M104.00,359.00 L108.00,361.00" stroke="#c8c42a" stroke-width="1.4" fill="none" stroke-linecap="round" stroke-linejoin="round"/>
<path d="M52.00,351.00 L56.00,355.00" stroke="#c8c42a" stroke-width="1.4" fill="none" stroke-linecap="round" stroke-linejoin="round"/>
<path d="M120.00,355.00 L125.00,358.00 L130.00,357.00" stroke="#c8c42a" stroke-width="1.4" fill="none" stroke-linecap="round" stroke-linejoin="round"/>
<path d="M78.00,358.00 L82.00,362.00" stroke="#c8c42a" stroke-width="1.4" fill="none" stroke-linecap="round" stroke-linejoin="round"/>
<path d="M62.00,358.00 L65.00,361.00" stroke="#c8c42a" stroke-width="1.4" fill="none" stroke-linecap="round" stroke-linejoin="round"/>
<rect x="1.90" y="327.20" width="41.80" height="13.00" fill="#1e78d0"/>
<rect x="1.90" y="340.20" width="41.80" height="12.90" fill="#ffff00"/>
<text x="23.00" y="337.80" font-size="10.8" text-anchor="middle" fill="#fff" stroke="#fff" stroke-width="0.18" transform="translate(23.00 337.80) scale(1 1.12) translate(-23.00 -337.80)">mutable</text>
<text x="23.00" y="350.60" font-size="10.8" text-anchor="middle" stroke="#000" stroke-width="0.18" transform="translate(23.00 350.60) scale(1 1.12) translate(-23.00 -350.60)">interface</text>
</svg>
</body></html>
